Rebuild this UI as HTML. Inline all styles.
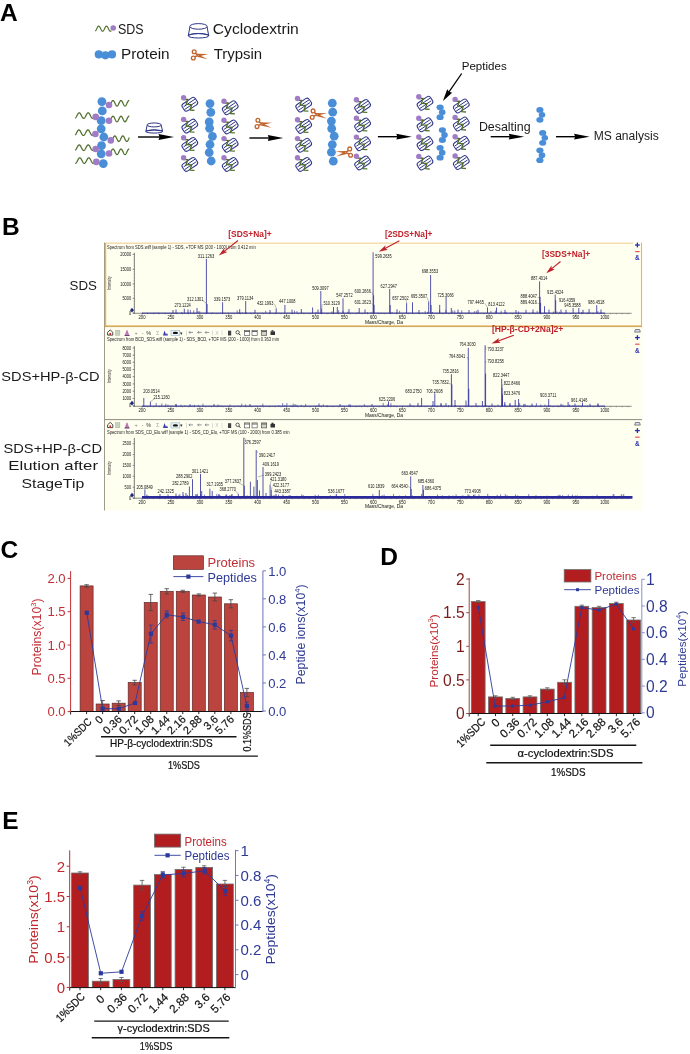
<!DOCTYPE html>
<html><head><meta charset="utf-8"><style>
html,body{margin:0;padding:0;background:#fff;}
svg{display:block;font-family:"Liberation Sans", sans-serif;will-change:transform;}
</style></head><body>
<svg width="690" height="1054" viewBox="0 0 690 1054">
<defs>
<g id="cx">
<g transform="rotate(-34)"><rect x="-7.8" y="-4.2" width="15.6" height="8.4" rx="2.6" fill="none" stroke="#2c3386" stroke-width="1"/>
<line x1="-6.6" y1="-1.4" x2="7.4" y2="-1.4" stroke="#2c3386" stroke-width="0.9"/><line x1="-7.4" y1="1.4" x2="6.6" y2="1.4" stroke="#2c3386" stroke-width="0.9"/></g>
<polyline points="-6.1,-4.8 -1.9,-4.8 -3.7,0.1 1.9,0.4 0.2,5.7 4.7,6" fill="none" stroke="#4f6f2a" stroke-width="1.35" stroke-linejoin="round"/>
<circle cx="-6.2" cy="-6.6" r="2.7" fill="#a07cc6"/></g>
<g id="sc">
<circle cx="-4.1" cy="-3.7" r="1.9" fill="none" stroke="#c0622a" stroke-width="1.3"/>
<circle cx="-5" cy="2.6" r="1.9" fill="none" stroke="#c0622a" stroke-width="1.3"/>
<line x1="-3" y1="-2.2" x2="0" y2="0" stroke="#c0622a" stroke-width="1.5"/>
<line x1="-3.6" y1="1.4" x2="0" y2="0" stroke="#c0622a" stroke-width="1.5"/>
<polygon points="-1.7,-1.7 10,-1.3 0.2,1.0" fill="#c0622a"/>
<polygon points="-1.3,1.4 9.4,3.8 1.0,-0.5" fill="#c0622a"/>
<circle cx="0" cy="0" r="0.45" fill="#fff"/></g>
<g id="pep" fill="#4a8ed8"><ellipse cx="-2.1" cy="-4.9" rx="3.6" ry="2.9"/><ellipse cx="0" cy="0" rx="3.3" ry="2.9"/><ellipse cx="-2.1" cy="5" rx="3.6" ry="2.9"/></g>
<g id="drum" fill="none" stroke="#2c3386" stroke-width="1" vector-effect="non-scaling-stroke">
<ellipse cx="0" cy="-5.8" rx="8.7" ry="2.8" vector-effect="non-scaling-stroke"/>
<path d="M-8.6,-5.4 L-10.2,3.6 M8.6,-5.4 L10.2,3.6" vector-effect="non-scaling-stroke"/>
<path d="M-10.1,2.9 Q0,-0.4 10.1,2.9" vector-effect="non-scaling-stroke"/>
<ellipse cx="0" cy="3.6" rx="10.3" ry="2.2" vector-effect="non-scaling-stroke"/></g>
</defs>
<text x="0" y="20.8" font-size="24.5" fill="#000" font-weight="bold">A</text>
<polyline points="95.30,31.09 95.63,30.74 95.95,30.26 96.28,29.66 96.61,29.00 96.93,28.32 97.26,27.66 97.59,27.08 97.91,26.61 98.24,26.28 98.57,26.12 98.89,26.13 99.22,26.32 99.54,26.68 99.87,27.17 100.20,27.77 100.52,28.44 100.85,29.12 101.18,29.77 101.50,30.35 101.83,30.82 102.16,31.14 102.48,31.29 102.81,31.26 103.14,31.06 103.46,30.70 103.79,30.19 104.12,29.59 104.44,28.92 104.77,28.24 105.10,27.59 105.42,27.02 105.75,26.56 106.08,26.25 106.40,26.11 106.73,26.14 107.06,26.36 107.38,26.73 107.71,27.24 108.03,27.85 108.36,28.51 108.69,29.19 109.01,29.84 109.34,30.41 109.67,30.86 109.99,31.16 110.32,31.29 110.65,31.25 110.97,31.03 111.30,30.65" fill="none" stroke="#4f6f2a" stroke-width="1.15" stroke-linejoin="round"/>
<circle cx="113.2" cy="28" r="2.8" fill="#a07cc6"/>
<text x="118" y="34" font-size="14.2" fill="#1a1a1a" textLength="25.6" lengthAdjust="spacingAndGlyphs">SDS</text>
<circle cx="98.8" cy="54.4" r="4.1" fill="#4a8ed8"/>
<circle cx="105.4" cy="55.3" r="4.1" fill="#4a8ed8"/>
<circle cx="112" cy="54.4" r="4.1" fill="#4a8ed8"/>
<text x="121" y="59.4" font-size="14.2" fill="#1a1a1a" textLength="48.6" lengthAdjust="spacingAndGlyphs">Protein</text>
<use href="#drum" transform="translate(198.5,32.2)"/>
<text x="212.8" y="34" font-size="14.2" fill="#1a1a1a" textLength="86" lengthAdjust="spacingAndGlyphs">Cyclodextrin</text>
<use href="#sc" transform="translate(198.3,55.4)"/>
<text x="213.7" y="59.4" font-size="14.2" fill="#1a1a1a" textLength="48.4" lengthAdjust="spacingAndGlyphs">Trypsin</text>
<polyline points="110.80,103.74 111.13,103.01 111.46,102.31 111.79,101.67 112.12,101.14 112.45,100.76 112.78,100.54 113.11,100.51 113.44,100.67 113.77,101.00 114.10,101.49 114.43,102.10 114.76,102.78 115.09,103.51 115.42,104.22 115.76,104.87 116.09,105.41 116.42,105.81 116.75,106.04 117.08,106.09 117.41,105.96 117.74,105.64 118.07,105.17 118.40,104.57 118.73,103.89 119.06,103.17 119.39,102.46 119.72,101.80 120.05,101.24 120.38,100.83 120.71,100.57 121.04,100.50 121.37,100.62 121.70,100.91 122.03,101.37 122.36,101.96 122.69,102.63 123.02,103.35 123.35,104.07 123.68,104.73 124.01,105.30 124.34,105.74 124.68,106.01 125.01,106.10 125.34,106.00 125.67,105.73 126.00,105.29 126.33,104.71 126.66,104.04 126.99,103.33 127.32,102.61 127.65,101.94 127.98,101.35 128.31,100.90 128.64,100.61 128.97,100.50 129.30,100.58" fill="none" stroke="#4f6f2a" stroke-width="1.25" stroke-linejoin="round"/>
<polyline points="110.80,119.44 111.13,118.71 111.46,118.01 111.79,117.37 112.12,116.84 112.45,116.46 112.78,116.24 113.11,116.21 113.44,116.37 113.77,116.70 114.10,117.19 114.43,117.80 114.76,118.48 115.09,119.21 115.42,119.92 115.76,120.57 116.09,121.11 116.42,121.51 116.75,121.74 117.08,121.79 117.41,121.66 117.74,121.34 118.07,120.87 118.40,120.27 118.73,119.59 119.06,118.87 119.39,118.16 119.72,117.50 120.05,116.94 120.38,116.53 120.71,116.27 121.04,116.20 121.37,116.32 121.70,116.61 122.03,117.07 122.36,117.66 122.69,118.33 123.02,119.05 123.35,119.77 123.68,120.43 124.01,121.00 124.34,121.44 124.68,121.71 125.01,121.80 125.34,121.70 125.67,121.43 126.00,120.99 126.33,120.41 126.66,119.74 126.99,119.03 127.32,118.31 127.65,117.64 127.98,117.05 128.31,116.60 128.64,116.31 128.97,116.20 129.30,116.28" fill="none" stroke="#4f6f2a" stroke-width="1.25" stroke-linejoin="round"/>
<polyline points="112.60,139.14 112.93,138.42 113.25,137.72 113.58,137.09 113.91,136.56 114.24,136.17 114.56,135.95 114.89,135.91 115.22,136.05 115.55,136.37 115.87,136.84 116.20,137.43 116.53,138.11 116.86,138.83 117.18,139.53 117.51,140.18 117.84,140.74 118.17,141.16 118.49,141.42 118.82,141.50 119.15,141.40 119.48,141.11 119.80,140.67 120.13,140.10 120.46,139.44 120.79,138.73 121.11,138.02 121.44,137.35 121.77,136.77 122.10,136.32 122.42,136.02 122.75,135.90 123.08,135.97 123.41,136.21 123.73,136.62 124.06,137.16 124.39,137.81 124.72,138.51 125.04,139.23 125.37,139.91 125.70,140.52 126.03,141.00 126.35,141.33 126.68,141.49 127.01,141.46 127.34,141.26 127.66,140.88 127.99,140.36 128.32,139.74 128.65,139.04 128.97,138.32 129.30,137.63" fill="none" stroke="#4f6f2a" stroke-width="1.25" stroke-linejoin="round"/>
<polyline points="110.80,152.24 111.13,151.51 111.46,150.81 111.79,150.17 112.12,149.64 112.45,149.26 112.78,149.04 113.11,149.01 113.44,149.17 113.77,149.50 114.10,149.99 114.43,150.60 114.76,151.28 115.09,152.01 115.42,152.72 115.76,153.37 116.09,153.91 116.42,154.31 116.75,154.54 117.08,154.59 117.41,154.46 117.74,154.14 118.07,153.67 118.40,153.07 118.73,152.39 119.06,151.67 119.39,150.96 119.72,150.30 120.05,149.74 120.38,149.33 120.71,149.07 121.04,149.00 121.37,149.12 121.70,149.41 122.03,149.87 122.36,150.46 122.69,151.13 123.02,151.85 123.35,152.57 123.68,153.23 124.01,153.80 124.34,154.24 124.68,154.51 125.01,154.60 125.34,154.50 125.67,154.23 126.00,153.79 126.33,153.21 126.66,152.54 126.99,151.83 127.32,151.11 127.65,150.44 127.98,149.85 128.31,149.40 128.64,149.11 128.97,149.00 129.30,149.08" fill="none" stroke="#4f6f2a" stroke-width="1.25" stroke-linejoin="round"/>
<polyline points="75.20,118.23 75.53,117.95 75.86,117.54 76.18,117.03 76.51,116.44 76.84,115.81 77.17,115.17 77.50,114.56 77.82,113.99 78.15,113.52 78.48,113.15 78.81,112.90 79.14,112.80 79.46,112.85 79.79,113.04 80.12,113.36 80.45,113.80 80.78,114.33 81.11,114.93 81.43,115.57 81.76,116.20 82.09,116.81 82.42,117.35 82.75,117.80 83.07,118.14 83.40,118.34 83.73,118.40 84.06,118.31 84.39,118.09 84.71,117.73 85.04,117.26 85.37,116.70 85.70,116.09 86.03,115.45 86.35,114.82 86.68,114.23 87.01,113.71 87.34,113.29 87.67,112.99 87.99,112.83 88.32,112.81 88.65,112.94 88.98,113.20 89.31,113.60 89.64,114.09 89.96,114.67 90.29,115.29 90.62,115.93 90.95,116.55 91.28,117.13 91.60,117.62 91.93,118.01 92.26,118.27 92.59,118.39 92.92,118.37 93.24,118.20 93.57,117.90 93.90,117.47" fill="none" stroke="#4f6f2a" stroke-width="1.25" stroke-linejoin="round"/>
<polyline points="75.20,135.07 75.53,134.67 75.86,134.17 76.19,133.59 76.51,132.96 76.84,132.32 77.17,131.70 77.50,131.13 77.83,130.65 78.16,130.27 78.49,130.02 78.81,129.91 79.14,129.94 79.47,130.12 79.80,130.43 80.13,130.87 80.46,131.40 80.79,132.00 81.11,132.63 81.44,133.27 81.77,133.88 82.10,134.42 82.43,134.88 82.76,135.22 83.09,135.43 83.41,135.50 83.74,135.42 84.07,135.20 84.40,134.84 84.73,134.38 85.06,133.83 85.39,133.21 85.71,132.57 86.04,131.94 86.37,131.35 86.70,130.83 87.03,130.40 87.36,130.10 87.69,129.93 88.01,129.91 88.34,130.03 88.67,130.30 89.00,130.69 89.33,131.18 89.66,131.76 89.99,132.38 90.31,133.02 90.64,133.64 90.97,134.22 91.30,134.71 91.63,135.10 91.96,135.37 92.29,135.49 92.61,135.47 92.94,135.30 93.27,135.00 93.60,134.57" fill="none" stroke="#4f6f2a" stroke-width="1.25" stroke-linejoin="round"/>
<polyline points="75.20,150.33 75.53,150.05 75.86,149.64 76.18,149.13 76.51,148.54 76.84,147.91 77.17,147.27 77.50,146.66 77.82,146.09 78.15,145.62 78.48,145.25 78.81,145.00 79.14,144.90 79.46,144.95 79.79,145.14 80.12,145.46 80.45,145.90 80.78,146.43 81.11,147.03 81.43,147.67 81.76,148.30 82.09,148.91 82.42,149.45 82.75,149.90 83.07,150.24 83.40,150.44 83.73,150.50 84.06,150.41 84.39,150.19 84.71,149.83 85.04,149.36 85.37,148.80 85.70,148.19 86.03,147.55 86.35,146.92 86.68,146.33 87.01,145.81 87.34,145.39 87.67,145.09 87.99,144.93 88.32,144.91 88.65,145.04 88.98,145.30 89.31,145.70 89.64,146.19 89.96,146.77 90.29,147.39 90.62,148.03 90.95,148.65 91.28,149.23 91.60,149.72 91.93,150.11 92.26,150.37 92.59,150.49 92.92,150.47 93.24,150.30 93.57,150.00 93.90,149.57" fill="none" stroke="#4f6f2a" stroke-width="1.25" stroke-linejoin="round"/>
<polyline points="75.20,163.39 75.53,163.36 75.87,163.18 76.20,162.87 76.53,162.43 76.86,161.89 77.20,161.28 77.53,160.64 77.86,159.99 78.19,159.38 78.53,158.83 78.86,158.38 79.19,158.05 79.53,157.85 79.86,157.80 80.19,157.90 80.52,158.15 80.86,158.53 81.19,159.02 81.52,159.59 81.86,160.22 82.19,160.87 82.52,161.50 82.85,162.09 83.19,162.60 83.52,162.99 83.85,163.26 84.18,163.39 84.52,163.37 84.85,163.20 85.18,162.88 85.52,162.45 85.85,161.92 86.18,161.31 86.51,160.67 86.85,160.02 87.18,159.41 87.51,158.86 87.84,158.40 88.18,158.06 88.51,157.86 88.84,157.80 89.18,157.90 89.51,158.14 89.84,158.51 90.17,158.99 90.51,159.56 90.84,160.19 91.17,160.84 91.51,161.47 91.84,162.06 92.17,162.57 92.50,162.98 92.84,163.25 93.17,163.39 93.50,163.37 93.83,163.21 94.17,162.90 94.50,162.47" fill="none" stroke="#4f6f2a" stroke-width="1.25" stroke-linejoin="round"/>
<circle cx="101.9" cy="101.6" r="4.4" fill="#4a8ed8"/>
<circle cx="102.3" cy="110.9" r="4.4" fill="#4a8ed8"/>
<circle cx="101.2" cy="120.7" r="4.4" fill="#4a8ed8"/>
<circle cx="101.2" cy="128.8" r="4.4" fill="#4a8ed8"/>
<circle cx="103.8" cy="137" r="4.4" fill="#4a8ed8"/>
<circle cx="101.5" cy="145.7" r="4.4" fill="#4a8ed8"/>
<circle cx="101.2" cy="153.8" r="4.4" fill="#4a8ed8"/>
<circle cx="103.3" cy="163.6" r="4.4" fill="#4a8ed8"/>
<circle cx="109" cy="105" r="3.3" fill="#a07cc6"/>
<circle cx="109" cy="120.7" r="3.3" fill="#a07cc6"/>
<circle cx="110.8" cy="140.4" r="3.3" fill="#a07cc6"/>
<circle cx="109" cy="153.5" r="3.3" fill="#a07cc6"/>
<circle cx="95.7" cy="116.9" r="3.3" fill="#a07cc6"/>
<circle cx="95.4" cy="134" r="3.3" fill="#a07cc6"/>
<circle cx="95.7" cy="149" r="3.3" fill="#a07cc6"/>
<circle cx="96.3" cy="161.9" r="3.3" fill="#a07cc6"/>
<line x1="138" y1="137" x2="160.0" y2="137.0" stroke="#000" stroke-width="1.4"/>
<polygon points="174.00,137.00 158.50,139.90 159.50,137.00 158.50,134.10" fill="#000"/>
<use href="#drum" transform="translate(154.2,129) scale(0.82,0.7)"/>
<use href="#cx" transform="translate(189.80,104.30)"/>
<use href="#cx" transform="translate(189.80,126.10)"/>
<use href="#cx" transform="translate(189.80,144.40)"/>
<use href="#cx" transform="translate(189.80,164.40)"/>
<use href="#cx" transform="translate(230.20,107.80)"/>
<use href="#cx" transform="translate(230.20,126.90)"/>
<use href="#cx" transform="translate(230.20,145.20)"/>
<use href="#cx" transform="translate(230.20,164.40)"/>
<circle cx="210" cy="103.6" r="4.4" fill="#4a8ed8"/>
<circle cx="210.8" cy="112.3" r="4.4" fill="#4a8ed8"/>
<circle cx="209.2" cy="121.9" r="4.4" fill="#4a8ed8"/>
<circle cx="209.6" cy="128.3" r="4.4" fill="#4a8ed8"/>
<circle cx="212.4" cy="136.3" r="4.4" fill="#4a8ed8"/>
<circle cx="210" cy="144.5" r="4.4" fill="#4a8ed8"/>
<circle cx="209.2" cy="152.5" r="4.4" fill="#4a8ed8"/>
<circle cx="211.2" cy="161" r="4.4" fill="#4a8ed8"/>
<line x1="249.4" y1="138" x2="269.3" y2="138.0" stroke="#000" stroke-width="1.4"/>
<polygon points="283.30,138.00 267.80,140.90 268.80,138.00 267.80,135.10" fill="#000"/>
<use href="#sc" transform="translate(262,124)"/>
<use href="#cx" transform="translate(303.70,105.10)"/>
<use href="#cx" transform="translate(303.70,126.40)"/>
<use href="#cx" transform="translate(303.70,145.20)"/>
<use href="#cx" transform="translate(303.70,164.40)"/>
<use href="#cx" transform="translate(362.60,106.40)"/>
<use href="#cx" transform="translate(362.60,124.90)"/>
<use href="#cx" transform="translate(362.60,143.70)"/>
<use href="#cx" transform="translate(362.60,162.90)"/>
<circle cx="332.3" cy="103.2" r="4.4" fill="#4a8ed8"/>
<circle cx="332.7" cy="112.2" r="4.4" fill="#4a8ed8"/>
<circle cx="331.4" cy="121.1" r="4.4" fill="#4a8ed8"/>
<circle cx="331.7" cy="128.6" r="4.4" fill="#4a8ed8"/>
<circle cx="334.2" cy="136.2" r="4.4" fill="#4a8ed8"/>
<circle cx="332.3" cy="144.6" r="4.4" fill="#4a8ed8"/>
<circle cx="331.4" cy="152.2" r="4.4" fill="#4a8ed8"/>
<circle cx="333.3" cy="161.2" r="4.4" fill="#4a8ed8"/>
<use href="#sc" transform="translate(317.2,114.6)"/>
<use href="#sc" transform="translate(345.6,152.6) scale(-1,1)"/>
<line x1="377.9" y1="136.7" x2="397.8" y2="136.7" stroke="#000" stroke-width="1.4"/>
<polygon points="411.80,136.70 396.30,139.60 397.30,136.70 396.30,133.80" fill="#000"/>
<use href="#cx" transform="translate(425.00,103.30)"/>
<use href="#cx" transform="translate(425.00,124.80)"/>
<use href="#cx" transform="translate(425.00,143.60)"/>
<use href="#cx" transform="translate(425.00,163.00)"/>
<use href="#cx" transform="translate(461.30,106.00)"/>
<use href="#cx" transform="translate(461.30,124.00)"/>
<use href="#cx" transform="translate(461.30,143.30)"/>
<use href="#cx" transform="translate(461.30,162.50)"/>
<use href="#pep" transform="translate(442.2,112.2)"/>
<use href="#pep" transform="translate(444.5,135)"/>
<use href="#pep" transform="translate(442.2,152.7)"/>
<text x="461.7" y="69.8" font-size="10.6" fill="#111" textLength="45" lengthAdjust="spacingAndGlyphs">Peptides</text>
<line x1="461.7" y1="73.5" x2="448.84050378503946" y2="92.2420317175488" stroke="#000" stroke-width="1.3"/>
<polygon points="442.90,100.90 447.22,89.31 449.12,91.83 452.16,92.70" fill="#000"/>
<text x="478.9" y="131.3" font-size="12" fill="#1a1a1a" textLength="51.7" lengthAdjust="spacingAndGlyphs">Desalting</text>
<line x1="490.7" y1="136.7" x2="510.20000000000005" y2="136.7" stroke="#000" stroke-width="1.4"/>
<polygon points="524.20,136.70 508.70,139.60 509.70,136.70 508.70,133.80" fill="#000"/>
<use href="#pep" transform="translate(542,114.8)"/>
<use href="#pep" transform="translate(544.8,137.8)"/>
<use href="#pep" transform="translate(542,155.2)"/>
<line x1="556" y1="136.7" x2="575.6" y2="136.7" stroke="#000" stroke-width="1.4"/>
<polygon points="589.60,136.70 574.10,139.60 575.10,136.70 574.10,133.80" fill="#000"/>
<text x="593.7" y="140.2" font-size="12" fill="#1a1a1a" textLength="65.1" lengthAdjust="spacingAndGlyphs">MS analysis</text>
<text x="2" y="235.4" font-size="24.5" fill="#000" font-weight="bold">B</text>
<text x="69.6" y="290.2" font-size="12.6" fill="#1a1a1a" textLength="27.4" lengthAdjust="spacingAndGlyphs">SDS</text>
<text x="1.3" y="380.6" font-size="12.6" fill="#1a1a1a" textLength="98.3" lengthAdjust="spacingAndGlyphs">SDS+HP-β-CD</text>
<text x="3.5" y="452.5" font-size="12.6" fill="#1a1a1a" textLength="98.5" lengthAdjust="spacingAndGlyphs">SDS+HP-β-CD</text>
<text x="8.3" y="470.4" font-size="12.6" fill="#1a1a1a" textLength="89.7" lengthAdjust="spacingAndGlyphs">Elution after</text>
<text x="21.5" y="487.9" font-size="12.6" fill="#1a1a1a" textLength="62.7" lengthAdjust="spacingAndGlyphs">StageTip</text>
<rect x="104.5" y="242.5" width="538" height="268" fill="#fffff0"/>
<line x1="104.5" y1="242.5" x2="104.5" y2="510.5" stroke="#a09a88" stroke-width="1"/>
<line x1="104.5" y1="419.6" x2="642" y2="419.6" stroke="#8a8a80" stroke-width="1"/>
<line x1="105" y1="243.3" x2="633" y2="243.3" stroke="#f4dcb0" stroke-width="1.6"/>
<line x1="105.6" y1="243" x2="105.6" y2="326.5" stroke="#f4b258" stroke-width="1.3"/>
<line x1="641.5" y1="242.5" x2="641.5" y2="326.5" stroke="#f6b050" stroke-width="1.1"/>
<line x1="104.5" y1="325.8" x2="642" y2="325.8" stroke="#e8a540" stroke-width="0.8"/>
<line x1="104.5" y1="326.6" x2="642" y2="326.6" stroke="#b89040" stroke-width="0.8"/>
<line x1="134.4" y1="252.7" x2="134.4" y2="313.6" stroke="#555" stroke-width="0.7"/>
<line x1="132.6" y1="254.4" x2="134.4" y2="254.4" stroke="#555" stroke-width="0.6"/>
<text x="131.2" y="256.1" font-size="4.7" fill="#111" text-anchor="end" textLength="11.0" lengthAdjust="spacingAndGlyphs">20000</text>
<line x1="132.6" y1="269.3" x2="134.4" y2="269.3" stroke="#555" stroke-width="0.6"/>
<text x="131.2" y="271.0" font-size="4.7" fill="#111" text-anchor="end" textLength="11.0" lengthAdjust="spacingAndGlyphs">15000</text>
<line x1="132.6" y1="284" x2="134.4" y2="284" stroke="#555" stroke-width="0.6"/>
<text x="131.2" y="285.7" font-size="4.7" fill="#111" text-anchor="end" textLength="11.0" lengthAdjust="spacingAndGlyphs">10000</text>
<line x1="132.6" y1="298.3" x2="134.4" y2="298.3" stroke="#555" stroke-width="0.6"/>
<text x="131.2" y="300.0" font-size="4.7" fill="#111" text-anchor="end" textLength="8.8" lengthAdjust="spacingAndGlyphs">5000</text>
<line x1="132.6" y1="313" x2="134.4" y2="313" stroke="#555" stroke-width="0.6"/>
<text x="131.2" y="314.7" font-size="4.7" fill="#111" text-anchor="end" textLength="2.2" lengthAdjust="spacingAndGlyphs">0</text>
<line x1="133.5" y1="313" x2="134.4" y2="313" stroke="#777" stroke-width="0.5"/>
<line x1="133.5" y1="310.06" x2="134.4" y2="310.06" stroke="#777" stroke-width="0.5"/>
<line x1="133.5" y1="307.12" x2="134.4" y2="307.12" stroke="#777" stroke-width="0.5"/>
<line x1="133.5" y1="304.18" x2="134.4" y2="304.18" stroke="#777" stroke-width="0.5"/>
<line x1="133.5" y1="301.24" x2="134.4" y2="301.24" stroke="#777" stroke-width="0.5"/>
<line x1="133.5" y1="298.3" x2="134.4" y2="298.3" stroke="#777" stroke-width="0.5"/>
<line x1="133.5" y1="295.36" x2="134.4" y2="295.36" stroke="#777" stroke-width="0.5"/>
<line x1="133.5" y1="292.42" x2="134.4" y2="292.42" stroke="#777" stroke-width="0.5"/>
<line x1="133.5" y1="289.48" x2="134.4" y2="289.48" stroke="#777" stroke-width="0.5"/>
<line x1="133.5" y1="286.54" x2="134.4" y2="286.54" stroke="#777" stroke-width="0.5"/>
<line x1="133.5" y1="283.6" x2="134.4" y2="283.6" stroke="#777" stroke-width="0.5"/>
<line x1="133.5" y1="280.66" x2="134.4" y2="280.66" stroke="#777" stroke-width="0.5"/>
<line x1="133.5" y1="277.72" x2="134.4" y2="277.72" stroke="#777" stroke-width="0.5"/>
<line x1="133.5" y1="274.78000000000003" x2="134.4" y2="274.78000000000003" stroke="#777" stroke-width="0.5"/>
<line x1="133.5" y1="271.84000000000003" x2="134.4" y2="271.84000000000003" stroke="#777" stroke-width="0.5"/>
<line x1="133.5" y1="268.90000000000003" x2="134.4" y2="268.90000000000003" stroke="#777" stroke-width="0.5"/>
<line x1="133.5" y1="265.96000000000004" x2="134.4" y2="265.96000000000004" stroke="#777" stroke-width="0.5"/>
<line x1="133.5" y1="263.02000000000004" x2="134.4" y2="263.02000000000004" stroke="#777" stroke-width="0.5"/>
<line x1="133.5" y1="260.08000000000004" x2="134.4" y2="260.08000000000004" stroke="#777" stroke-width="0.5"/>
<line x1="133.5" y1="257.14000000000004" x2="134.4" y2="257.14000000000004" stroke="#777" stroke-width="0.5"/>
<line x1="133.5" y1="254.20000000000005" x2="134.4" y2="254.20000000000005" stroke="#777" stroke-width="0.5"/>
<line x1="133" y1="313.3" x2="631.6" y2="313.3" stroke="#555" stroke-width="0.7"/>
<line x1="142.0" y1="313.3" x2="142.0" y2="315.5" stroke="#555" stroke-width="0.5"/>
<line x1="147.78" y1="313.3" x2="147.78" y2="314.3" stroke="#555" stroke-width="0.5"/>
<line x1="153.57" y1="313.3" x2="153.57" y2="314.3" stroke="#555" stroke-width="0.5"/>
<line x1="159.35" y1="313.3" x2="159.35" y2="314.3" stroke="#555" stroke-width="0.5"/>
<line x1="165.14" y1="313.3" x2="165.14" y2="314.3" stroke="#555" stroke-width="0.5"/>
<line x1="170.93" y1="313.3" x2="170.93" y2="315.5" stroke="#555" stroke-width="0.5"/>
<line x1="176.71" y1="313.3" x2="176.71" y2="314.3" stroke="#555" stroke-width="0.5"/>
<line x1="182.5" y1="313.3" x2="182.5" y2="314.3" stroke="#555" stroke-width="0.5"/>
<line x1="188.28" y1="313.3" x2="188.28" y2="314.3" stroke="#555" stroke-width="0.5"/>
<line x1="194.06" y1="313.3" x2="194.06" y2="314.3" stroke="#555" stroke-width="0.5"/>
<line x1="199.85" y1="313.3" x2="199.85" y2="315.5" stroke="#555" stroke-width="0.5"/>
<line x1="205.63" y1="313.3" x2="205.63" y2="314.3" stroke="#555" stroke-width="0.5"/>
<line x1="211.42" y1="313.3" x2="211.42" y2="314.3" stroke="#555" stroke-width="0.5"/>
<line x1="217.2" y1="313.3" x2="217.2" y2="314.3" stroke="#555" stroke-width="0.5"/>
<line x1="222.99" y1="313.3" x2="222.99" y2="314.3" stroke="#555" stroke-width="0.5"/>
<line x1="228.78" y1="313.3" x2="228.78" y2="315.5" stroke="#555" stroke-width="0.5"/>
<line x1="234.56" y1="313.3" x2="234.56" y2="314.3" stroke="#555" stroke-width="0.5"/>
<line x1="240.34" y1="313.3" x2="240.34" y2="314.3" stroke="#555" stroke-width="0.5"/>
<line x1="246.13" y1="313.3" x2="246.13" y2="314.3" stroke="#555" stroke-width="0.5"/>
<line x1="251.92" y1="313.3" x2="251.92" y2="314.3" stroke="#555" stroke-width="0.5"/>
<line x1="257.7" y1="313.3" x2="257.7" y2="315.5" stroke="#555" stroke-width="0.5"/>
<line x1="263.49" y1="313.3" x2="263.49" y2="314.3" stroke="#555" stroke-width="0.5"/>
<line x1="269.27" y1="313.3" x2="269.27" y2="314.3" stroke="#555" stroke-width="0.5"/>
<line x1="275.06" y1="313.3" x2="275.06" y2="314.3" stroke="#555" stroke-width="0.5"/>
<line x1="280.84" y1="313.3" x2="280.84" y2="314.3" stroke="#555" stroke-width="0.5"/>
<line x1="286.62" y1="313.3" x2="286.62" y2="315.5" stroke="#555" stroke-width="0.5"/>
<line x1="292.41" y1="313.3" x2="292.41" y2="314.3" stroke="#555" stroke-width="0.5"/>
<line x1="298.19" y1="313.3" x2="298.19" y2="314.3" stroke="#555" stroke-width="0.5"/>
<line x1="303.98" y1="313.3" x2="303.98" y2="314.3" stroke="#555" stroke-width="0.5"/>
<line x1="309.76" y1="313.3" x2="309.76" y2="314.3" stroke="#555" stroke-width="0.5"/>
<line x1="315.55" y1="313.3" x2="315.55" y2="315.5" stroke="#555" stroke-width="0.5"/>
<line x1="321.34" y1="313.3" x2="321.34" y2="314.3" stroke="#555" stroke-width="0.5"/>
<line x1="327.12" y1="313.3" x2="327.12" y2="314.3" stroke="#555" stroke-width="0.5"/>
<line x1="332.9" y1="313.3" x2="332.9" y2="314.3" stroke="#555" stroke-width="0.5"/>
<line x1="338.69" y1="313.3" x2="338.69" y2="314.3" stroke="#555" stroke-width="0.5"/>
<line x1="344.48" y1="313.3" x2="344.48" y2="315.5" stroke="#555" stroke-width="0.5"/>
<line x1="350.26" y1="313.3" x2="350.26" y2="314.3" stroke="#555" stroke-width="0.5"/>
<line x1="356.05" y1="313.3" x2="356.05" y2="314.3" stroke="#555" stroke-width="0.5"/>
<line x1="361.83" y1="313.3" x2="361.83" y2="314.3" stroke="#555" stroke-width="0.5"/>
<line x1="367.62" y1="313.3" x2="367.62" y2="314.3" stroke="#555" stroke-width="0.5"/>
<line x1="373.4" y1="313.3" x2="373.4" y2="315.5" stroke="#555" stroke-width="0.5"/>
<line x1="379.19" y1="313.3" x2="379.19" y2="314.3" stroke="#555" stroke-width="0.5"/>
<line x1="384.97" y1="313.3" x2="384.97" y2="314.3" stroke="#555" stroke-width="0.5"/>
<line x1="390.75" y1="313.3" x2="390.75" y2="314.3" stroke="#555" stroke-width="0.5"/>
<line x1="396.54" y1="313.3" x2="396.54" y2="314.3" stroke="#555" stroke-width="0.5"/>
<line x1="402.32" y1="313.3" x2="402.32" y2="315.5" stroke="#555" stroke-width="0.5"/>
<line x1="408.11" y1="313.3" x2="408.11" y2="314.3" stroke="#555" stroke-width="0.5"/>
<line x1="413.89" y1="313.3" x2="413.89" y2="314.3" stroke="#555" stroke-width="0.5"/>
<line x1="419.68" y1="313.3" x2="419.68" y2="314.3" stroke="#555" stroke-width="0.5"/>
<line x1="425.47" y1="313.3" x2="425.47" y2="314.3" stroke="#555" stroke-width="0.5"/>
<line x1="431.25" y1="313.3" x2="431.25" y2="315.5" stroke="#555" stroke-width="0.5"/>
<line x1="437.04" y1="313.3" x2="437.04" y2="314.3" stroke="#555" stroke-width="0.5"/>
<line x1="442.82" y1="313.3" x2="442.82" y2="314.3" stroke="#555" stroke-width="0.5"/>
<line x1="448.61" y1="313.3" x2="448.61" y2="314.3" stroke="#555" stroke-width="0.5"/>
<line x1="454.39" y1="313.3" x2="454.39" y2="314.3" stroke="#555" stroke-width="0.5"/>
<line x1="460.18" y1="313.3" x2="460.18" y2="315.5" stroke="#555" stroke-width="0.5"/>
<line x1="465.96" y1="313.3" x2="465.96" y2="314.3" stroke="#555" stroke-width="0.5"/>
<line x1="471.75" y1="313.3" x2="471.75" y2="314.3" stroke="#555" stroke-width="0.5"/>
<line x1="477.53" y1="313.3" x2="477.53" y2="314.3" stroke="#555" stroke-width="0.5"/>
<line x1="483.31" y1="313.3" x2="483.31" y2="314.3" stroke="#555" stroke-width="0.5"/>
<line x1="489.1" y1="313.3" x2="489.1" y2="315.5" stroke="#555" stroke-width="0.5"/>
<line x1="494.88" y1="313.3" x2="494.88" y2="314.3" stroke="#555" stroke-width="0.5"/>
<line x1="500.67" y1="313.3" x2="500.67" y2="314.3" stroke="#555" stroke-width="0.5"/>
<line x1="506.45" y1="313.3" x2="506.45" y2="314.3" stroke="#555" stroke-width="0.5"/>
<line x1="512.24" y1="313.3" x2="512.24" y2="314.3" stroke="#555" stroke-width="0.5"/>
<line x1="518.03" y1="313.3" x2="518.03" y2="315.5" stroke="#555" stroke-width="0.5"/>
<line x1="523.81" y1="313.3" x2="523.81" y2="314.3" stroke="#555" stroke-width="0.5"/>
<line x1="529.6" y1="313.3" x2="529.6" y2="314.3" stroke="#555" stroke-width="0.5"/>
<line x1="535.38" y1="313.3" x2="535.38" y2="314.3" stroke="#555" stroke-width="0.5"/>
<line x1="541.16" y1="313.3" x2="541.16" y2="314.3" stroke="#555" stroke-width="0.5"/>
<line x1="546.95" y1="313.3" x2="546.95" y2="315.5" stroke="#555" stroke-width="0.5"/>
<line x1="552.74" y1="313.3" x2="552.74" y2="314.3" stroke="#555" stroke-width="0.5"/>
<line x1="558.52" y1="313.3" x2="558.52" y2="314.3" stroke="#555" stroke-width="0.5"/>
<line x1="564.31" y1="313.3" x2="564.31" y2="314.3" stroke="#555" stroke-width="0.5"/>
<line x1="570.09" y1="313.3" x2="570.09" y2="314.3" stroke="#555" stroke-width="0.5"/>
<line x1="575.88" y1="313.3" x2="575.88" y2="315.5" stroke="#555" stroke-width="0.5"/>
<line x1="581.66" y1="313.3" x2="581.66" y2="314.3" stroke="#555" stroke-width="0.5"/>
<line x1="587.44" y1="313.3" x2="587.44" y2="314.3" stroke="#555" stroke-width="0.5"/>
<line x1="593.23" y1="313.3" x2="593.23" y2="314.3" stroke="#555" stroke-width="0.5"/>
<line x1="599.01" y1="313.3" x2="599.01" y2="314.3" stroke="#555" stroke-width="0.5"/>
<line x1="604.8" y1="313.3" x2="604.8" y2="315.5" stroke="#555" stroke-width="0.5"/>
<text x="142.0" y="318.9" font-size="4.6" fill="#111" text-anchor="middle" textLength="6.9" lengthAdjust="spacingAndGlyphs">200</text>
<text x="170.93" y="318.9" font-size="4.6" fill="#111" text-anchor="middle" textLength="6.9" lengthAdjust="spacingAndGlyphs">250</text>
<text x="199.85" y="318.9" font-size="4.6" fill="#111" text-anchor="middle" textLength="6.9" lengthAdjust="spacingAndGlyphs">300</text>
<text x="228.78" y="318.9" font-size="4.6" fill="#111" text-anchor="middle" textLength="6.9" lengthAdjust="spacingAndGlyphs">350</text>
<text x="257.7" y="318.9" font-size="4.6" fill="#111" text-anchor="middle" textLength="6.9" lengthAdjust="spacingAndGlyphs">400</text>
<text x="286.62" y="318.9" font-size="4.6" fill="#111" text-anchor="middle" textLength="6.9" lengthAdjust="spacingAndGlyphs">450</text>
<text x="315.55" y="318.9" font-size="4.6" fill="#111" text-anchor="middle" textLength="6.9" lengthAdjust="spacingAndGlyphs">500</text>
<text x="344.48" y="318.9" font-size="4.6" fill="#111" text-anchor="middle" textLength="6.9" lengthAdjust="spacingAndGlyphs">550</text>
<text x="373.4" y="318.9" font-size="4.6" fill="#111" text-anchor="middle" textLength="6.9" lengthAdjust="spacingAndGlyphs">600</text>
<text x="402.32" y="318.9" font-size="4.6" fill="#111" text-anchor="middle" textLength="6.9" lengthAdjust="spacingAndGlyphs">650</text>
<text x="431.25" y="318.9" font-size="4.6" fill="#111" text-anchor="middle" textLength="6.9" lengthAdjust="spacingAndGlyphs">700</text>
<text x="460.18" y="318.9" font-size="4.6" fill="#111" text-anchor="middle" textLength="6.9" lengthAdjust="spacingAndGlyphs">750</text>
<text x="489.1" y="318.9" font-size="4.6" fill="#111" text-anchor="middle" textLength="6.9" lengthAdjust="spacingAndGlyphs">800</text>
<text x="518.03" y="318.9" font-size="4.6" fill="#111" text-anchor="middle" textLength="6.9" lengthAdjust="spacingAndGlyphs">850</text>
<text x="546.95" y="318.9" font-size="4.6" fill="#111" text-anchor="middle" textLength="6.9" lengthAdjust="spacingAndGlyphs">900</text>
<text x="575.88" y="318.9" font-size="4.6" fill="#111" text-anchor="middle" textLength="6.9" lengthAdjust="spacingAndGlyphs">950</text>
<text x="604.8" y="318.9" font-size="4.6" fill="#111" text-anchor="middle" textLength="9.2" lengthAdjust="spacingAndGlyphs">1000</text>
<line x1="610.59" y1="313.3" x2="610.59" y2="314.3" stroke="#555" stroke-width="0.5"/>
<line x1="616.37" y1="313.3" x2="616.37" y2="314.3" stroke="#555" stroke-width="0.5"/>
<line x1="622.15" y1="313.3" x2="622.15" y2="314.3" stroke="#555" stroke-width="0.5"/>
<line x1="627.94" y1="313.3" x2="627.94" y2="314.3" stroke="#555" stroke-width="0.5"/>
<line x1="142.5" y1="313.3" x2="142.5" y2="312.67" stroke="#2a2a9c" stroke-width="0.6"/>
<line x1="147.39" y1="313.3" x2="147.39" y2="312.89" stroke="#2a2a9c" stroke-width="0.6"/>
<line x1="151.95" y1="313.3" x2="151.95" y2="313.0" stroke="#2a2a9c" stroke-width="0.6"/>
<line x1="153.94" y1="313.3" x2="153.94" y2="312.95" stroke="#2a2a9c" stroke-width="0.6"/>
<line x1="155.51" y1="313.3" x2="155.51" y2="312.87" stroke="#2a2a9c" stroke-width="0.6"/>
<line x1="158.41" y1="313.3" x2="158.41" y2="312.64" stroke="#2a2a9c" stroke-width="0.6"/>
<line x1="163.06" y1="313.3" x2="163.06" y2="313.0" stroke="#2a2a9c" stroke-width="0.6"/>
<line x1="165.34" y1="313.3" x2="165.34" y2="312.8" stroke="#2a2a9c" stroke-width="0.6"/>
<line x1="169.04" y1="313.3" x2="169.04" y2="313.0" stroke="#2a2a9c" stroke-width="0.6"/>
<line x1="172.36" y1="313.3" x2="172.36" y2="312.99" stroke="#2a2a9c" stroke-width="0.6"/>
<line x1="175.04" y1="313.3" x2="175.04" y2="313.0" stroke="#2a2a9c" stroke-width="0.6"/>
<line x1="177.55" y1="313.3" x2="177.55" y2="312.81" stroke="#2a2a9c" stroke-width="0.6"/>
<line x1="181.69" y1="313.3" x2="181.69" y2="312.0" stroke="#2a2a9c" stroke-width="0.6"/>
<line x1="186.31" y1="313.3" x2="186.31" y2="313.0" stroke="#2a2a9c" stroke-width="0.6"/>
<line x1="188.09" y1="313.3" x2="188.09" y2="312.81" stroke="#2a2a9c" stroke-width="0.6"/>
<line x1="190.39" y1="313.3" x2="190.39" y2="309.86" stroke="#2a2a9c" stroke-width="0.6"/>
<line x1="193.69" y1="313.3" x2="193.69" y2="310.43" stroke="#2a2a9c" stroke-width="0.6"/>
<line x1="198.11" y1="313.3" x2="198.11" y2="311.11" stroke="#2a2a9c" stroke-width="0.6"/>
<line x1="199.76" y1="313.3" x2="199.76" y2="311.2" stroke="#2a2a9c" stroke-width="0.6"/>
<line x1="203.94" y1="313.3" x2="203.94" y2="313.0" stroke="#2a2a9c" stroke-width="0.6"/>
<line x1="208.17" y1="313.3" x2="208.17" y2="313.0" stroke="#2a2a9c" stroke-width="0.6"/>
<line x1="212.5" y1="313.3" x2="212.5" y2="312.56" stroke="#2a2a9c" stroke-width="0.6"/>
<line x1="216.03" y1="313.3" x2="216.03" y2="313.0" stroke="#2a2a9c" stroke-width="0.6"/>
<line x1="220.47" y1="313.3" x2="220.47" y2="312.82" stroke="#2a2a9c" stroke-width="0.6"/>
<line x1="225.18" y1="313.3" x2="225.18" y2="313.0" stroke="#2a2a9c" stroke-width="0.6"/>
<line x1="228.16" y1="313.3" x2="228.16" y2="312.83" stroke="#2a2a9c" stroke-width="0.6"/>
<line x1="231.42" y1="313.3" x2="231.42" y2="313.0" stroke="#2a2a9c" stroke-width="0.6"/>
<line x1="233.02" y1="313.3" x2="233.02" y2="313.0" stroke="#2a2a9c" stroke-width="0.6"/>
<line x1="237.18" y1="313.3" x2="237.18" y2="310.32" stroke="#2a2a9c" stroke-width="0.6"/>
<line x1="238.83" y1="313.3" x2="238.83" y2="312.53" stroke="#2a2a9c" stroke-width="0.6"/>
<line x1="242.3" y1="313.3" x2="242.3" y2="312.52" stroke="#2a2a9c" stroke-width="0.6"/>
<line x1="246.13" y1="313.3" x2="246.13" y2="312.21" stroke="#2a2a9c" stroke-width="0.6"/>
<line x1="250.65" y1="313.3" x2="250.65" y2="312.6" stroke="#2a2a9c" stroke-width="0.6"/>
<line x1="253.7" y1="313.3" x2="253.7" y2="312.66" stroke="#2a2a9c" stroke-width="0.6"/>
<line x1="257.41" y1="313.3" x2="257.41" y2="313.0" stroke="#2a2a9c" stroke-width="0.6"/>
<line x1="262.35" y1="313.3" x2="262.35" y2="312.67" stroke="#2a2a9c" stroke-width="0.6"/>
<line x1="265.69" y1="313.3" x2="265.69" y2="310.83" stroke="#2a2a9c" stroke-width="0.6"/>
<line x1="269.71" y1="313.3" x2="269.71" y2="312.95" stroke="#2a2a9c" stroke-width="0.6"/>
<line x1="273.3" y1="313.3" x2="273.3" y2="312.99" stroke="#2a2a9c" stroke-width="0.6"/>
<line x1="275.66" y1="313.3" x2="275.66" y2="312.94" stroke="#2a2a9c" stroke-width="0.6"/>
<line x1="279.04" y1="313.3" x2="279.04" y2="312.82" stroke="#2a2a9c" stroke-width="0.6"/>
<line x1="283.17" y1="313.3" x2="283.17" y2="312.98" stroke="#2a2a9c" stroke-width="0.6"/>
<line x1="287.84" y1="313.3" x2="287.84" y2="312.92" stroke="#2a2a9c" stroke-width="0.6"/>
<line x1="289.63" y1="313.3" x2="289.63" y2="312.99" stroke="#2a2a9c" stroke-width="0.6"/>
<line x1="294.48" y1="313.3" x2="294.48" y2="310.5" stroke="#2a2a9c" stroke-width="0.6"/>
<line x1="296.94" y1="313.3" x2="296.94" y2="311.12" stroke="#2a2a9c" stroke-width="0.6"/>
<line x1="301.9" y1="313.3" x2="301.9" y2="312.95" stroke="#2a2a9c" stroke-width="0.6"/>
<line x1="303.41" y1="313.3" x2="303.41" y2="312.97" stroke="#2a2a9c" stroke-width="0.6"/>
<line x1="306.63" y1="313.3" x2="306.63" y2="312.97" stroke="#2a2a9c" stroke-width="0.6"/>
<line x1="311.0" y1="313.3" x2="311.0" y2="313.0" stroke="#2a2a9c" stroke-width="0.6"/>
<line x1="315.99" y1="313.3" x2="315.99" y2="311.9" stroke="#2a2a9c" stroke-width="0.6"/>
<line x1="318.37" y1="313.3" x2="318.37" y2="313.0" stroke="#2a2a9c" stroke-width="0.6"/>
<line x1="320.06" y1="313.3" x2="320.06" y2="312.84" stroke="#2a2a9c" stroke-width="0.6"/>
<line x1="322.74" y1="313.3" x2="322.74" y2="312.82" stroke="#2a2a9c" stroke-width="0.6"/>
<line x1="325.87" y1="313.3" x2="325.87" y2="313.0" stroke="#2a2a9c" stroke-width="0.6"/>
<line x1="328.95" y1="313.3" x2="328.95" y2="312.96" stroke="#2a2a9c" stroke-width="0.6"/>
<line x1="332.03" y1="313.3" x2="332.03" y2="311.35" stroke="#2a2a9c" stroke-width="0.6"/>
<line x1="334.31" y1="313.3" x2="334.31" y2="313.0" stroke="#2a2a9c" stroke-width="0.6"/>
<line x1="338.65" y1="313.3" x2="338.65" y2="310.13" stroke="#2a2a9c" stroke-width="0.6"/>
<line x1="343.01" y1="313.3" x2="343.01" y2="310.59" stroke="#2a2a9c" stroke-width="0.6"/>
<line x1="347.77" y1="313.3" x2="347.77" y2="311.64" stroke="#2a2a9c" stroke-width="0.6"/>
<line x1="349.53" y1="313.3" x2="349.53" y2="313.0" stroke="#2a2a9c" stroke-width="0.6"/>
<line x1="352.17" y1="313.3" x2="352.17" y2="312.77" stroke="#2a2a9c" stroke-width="0.6"/>
<line x1="357.15" y1="313.3" x2="357.15" y2="312.47" stroke="#2a2a9c" stroke-width="0.6"/>
<line x1="359.26" y1="313.3" x2="359.26" y2="312.97" stroke="#2a2a9c" stroke-width="0.6"/>
<line x1="362.83" y1="313.3" x2="362.83" y2="312.99" stroke="#2a2a9c" stroke-width="0.6"/>
<line x1="367.5" y1="313.3" x2="367.5" y2="312.2" stroke="#2a2a9c" stroke-width="0.6"/>
<line x1="371.09" y1="313.3" x2="371.09" y2="312.22" stroke="#2a2a9c" stroke-width="0.6"/>
<line x1="374.57" y1="313.3" x2="374.57" y2="312.78" stroke="#2a2a9c" stroke-width="0.6"/>
<line x1="378.28" y1="313.3" x2="378.28" y2="312.78" stroke="#2a2a9c" stroke-width="0.6"/>
<line x1="381.63" y1="313.3" x2="381.63" y2="312.83" stroke="#2a2a9c" stroke-width="0.6"/>
<line x1="385.12" y1="313.3" x2="385.12" y2="312.98" stroke="#2a2a9c" stroke-width="0.6"/>
<line x1="388.32" y1="313.3" x2="388.32" y2="312.98" stroke="#2a2a9c" stroke-width="0.6"/>
<line x1="392.06" y1="313.3" x2="392.06" y2="312.22" stroke="#2a2a9c" stroke-width="0.6"/>
<line x1="396.58" y1="313.3" x2="396.58" y2="312.81" stroke="#2a2a9c" stroke-width="0.6"/>
<line x1="399.62" y1="313.3" x2="399.62" y2="310.73" stroke="#2a2a9c" stroke-width="0.6"/>
<line x1="403.74" y1="313.3" x2="403.74" y2="312.97" stroke="#2a2a9c" stroke-width="0.6"/>
<line x1="405.49" y1="313.3" x2="405.49" y2="312.81" stroke="#2a2a9c" stroke-width="0.6"/>
<line x1="408.67" y1="313.3" x2="408.67" y2="312.8" stroke="#2a2a9c" stroke-width="0.6"/>
<line x1="411.94" y1="313.3" x2="411.94" y2="312.89" stroke="#2a2a9c" stroke-width="0.6"/>
<line x1="416.27" y1="313.3" x2="416.27" y2="312.97" stroke="#2a2a9c" stroke-width="0.6"/>
<line x1="418.03" y1="313.3" x2="418.03" y2="312.69" stroke="#2a2a9c" stroke-width="0.6"/>
<line x1="422.45" y1="313.3" x2="422.45" y2="312.74" stroke="#2a2a9c" stroke-width="0.6"/>
<line x1="425.2" y1="313.3" x2="425.2" y2="311.06" stroke="#2a2a9c" stroke-width="0.6"/>
<line x1="427.57" y1="313.3" x2="427.57" y2="311.84" stroke="#2a2a9c" stroke-width="0.6"/>
<line x1="432.5" y1="313.3" x2="432.5" y2="312.02" stroke="#2a2a9c" stroke-width="0.6"/>
<line x1="436.32" y1="313.3" x2="436.32" y2="313.0" stroke="#2a2a9c" stroke-width="0.6"/>
<line x1="439.64" y1="313.3" x2="439.64" y2="309.86" stroke="#2a2a9c" stroke-width="0.6"/>
<line x1="443.45" y1="313.3" x2="443.45" y2="312.98" stroke="#2a2a9c" stroke-width="0.6"/>
<line x1="445.9" y1="313.3" x2="445.9" y2="309.95" stroke="#2a2a9c" stroke-width="0.6"/>
<line x1="450.07" y1="313.3" x2="450.07" y2="313.0" stroke="#2a2a9c" stroke-width="0.6"/>
<line x1="452.78" y1="313.3" x2="452.78" y2="310.46" stroke="#2a2a9c" stroke-width="0.6"/>
<line x1="454.79" y1="313.3" x2="454.79" y2="310.46" stroke="#2a2a9c" stroke-width="0.6"/>
<line x1="457.22" y1="313.3" x2="457.22" y2="312.99" stroke="#2a2a9c" stroke-width="0.6"/>
<line x1="459.69" y1="313.3" x2="459.69" y2="312.89" stroke="#2a2a9c" stroke-width="0.6"/>
<line x1="461.72" y1="313.3" x2="461.72" y2="310.18" stroke="#2a2a9c" stroke-width="0.6"/>
<line x1="466.24" y1="313.3" x2="466.24" y2="312.96" stroke="#2a2a9c" stroke-width="0.6"/>
<line x1="469.57" y1="313.3" x2="469.57" y2="312.99" stroke="#2a2a9c" stroke-width="0.6"/>
<line x1="474.32" y1="313.3" x2="474.32" y2="311.12" stroke="#2a2a9c" stroke-width="0.6"/>
<line x1="476.33" y1="313.3" x2="476.33" y2="310.8" stroke="#2a2a9c" stroke-width="0.6"/>
<line x1="480.39" y1="313.3" x2="480.39" y2="312.98" stroke="#2a2a9c" stroke-width="0.6"/>
<line x1="484.6" y1="313.3" x2="484.6" y2="312.98" stroke="#2a2a9c" stroke-width="0.6"/>
<line x1="488.68" y1="313.3" x2="488.68" y2="313.0" stroke="#2a2a9c" stroke-width="0.6"/>
<line x1="490.91" y1="313.3" x2="490.91" y2="310.83" stroke="#2a2a9c" stroke-width="0.6"/>
<line x1="495.39" y1="313.3" x2="495.39" y2="310.63" stroke="#2a2a9c" stroke-width="0.6"/>
<line x1="498.34" y1="313.3" x2="498.34" y2="313.0" stroke="#2a2a9c" stroke-width="0.6"/>
<line x1="501.16" y1="313.3" x2="501.16" y2="310.69" stroke="#2a2a9c" stroke-width="0.6"/>
<line x1="504.45" y1="313.3" x2="504.45" y2="312.65" stroke="#2a2a9c" stroke-width="0.6"/>
<line x1="506.17" y1="313.3" x2="506.17" y2="311.84" stroke="#2a2a9c" stroke-width="0.6"/>
<line x1="510.52" y1="313.3" x2="510.52" y2="312.96" stroke="#2a2a9c" stroke-width="0.6"/>
<line x1="513.05" y1="313.3" x2="513.05" y2="313.0" stroke="#2a2a9c" stroke-width="0.6"/>
<line x1="515.73" y1="313.3" x2="515.73" y2="312.98" stroke="#2a2a9c" stroke-width="0.6"/>
<line x1="518.59" y1="313.3" x2="518.59" y2="311.31" stroke="#2a2a9c" stroke-width="0.6"/>
<line x1="520.9" y1="313.3" x2="520.9" y2="312.99" stroke="#2a2a9c" stroke-width="0.6"/>
<line x1="524.79" y1="313.3" x2="524.79" y2="313.0" stroke="#2a2a9c" stroke-width="0.6"/>
<line x1="529.15" y1="313.3" x2="529.15" y2="313.0" stroke="#2a2a9c" stroke-width="0.6"/>
<line x1="533.02" y1="313.3" x2="533.02" y2="312.41" stroke="#2a2a9c" stroke-width="0.6"/>
<line x1="537.15" y1="313.3" x2="537.15" y2="310.98" stroke="#2a2a9c" stroke-width="0.6"/>
<line x1="540.39" y1="313.3" x2="540.39" y2="312.19" stroke="#2a2a9c" stroke-width="0.6"/>
<line x1="543.05" y1="313.3" x2="543.05" y2="313.0" stroke="#2a2a9c" stroke-width="0.6"/>
<line x1="545.87" y1="313.3" x2="545.87" y2="312.6" stroke="#2a2a9c" stroke-width="0.6"/>
<line x1="549.33" y1="313.3" x2="549.33" y2="312.93" stroke="#2a2a9c" stroke-width="0.6"/>
<line x1="553.45" y1="313.3" x2="553.45" y2="311.5" stroke="#2a2a9c" stroke-width="0.6"/>
<line x1="556.91" y1="313.3" x2="556.91" y2="311.4" stroke="#2a2a9c" stroke-width="0.6"/>
<line x1="559.64" y1="313.3" x2="559.64" y2="311.76" stroke="#2a2a9c" stroke-width="0.6"/>
<line x1="562.49" y1="313.3" x2="562.49" y2="312.83" stroke="#2a2a9c" stroke-width="0.6"/>
<line x1="566.65" y1="313.3" x2="566.65" y2="312.55" stroke="#2a2a9c" stroke-width="0.6"/>
<line x1="571.0" y1="313.3" x2="571.0" y2="313.0" stroke="#2a2a9c" stroke-width="0.6"/>
<line x1="572.77" y1="313.3" x2="572.77" y2="313.0" stroke="#2a2a9c" stroke-width="0.6"/>
<line x1="575.44" y1="313.3" x2="575.44" y2="313.0" stroke="#2a2a9c" stroke-width="0.6"/>
<line x1="578.92" y1="313.3" x2="578.92" y2="312.4" stroke="#2a2a9c" stroke-width="0.6"/>
<line x1="581.58" y1="313.3" x2="581.58" y2="312.0" stroke="#2a2a9c" stroke-width="0.6"/>
<line x1="583.76" y1="313.3" x2="583.76" y2="312.85" stroke="#2a2a9c" stroke-width="0.6"/>
<line x1="587.22" y1="313.3" x2="587.22" y2="312.74" stroke="#2a2a9c" stroke-width="0.6"/>
<line x1="590.16" y1="313.3" x2="590.16" y2="313.0" stroke="#2a2a9c" stroke-width="0.6"/>
<line x1="593.25" y1="313.3" x2="593.25" y2="312.86" stroke="#2a2a9c" stroke-width="0.6"/>
<line x1="597.92" y1="313.3" x2="597.92" y2="311.18" stroke="#2a2a9c" stroke-width="0.6"/>
<line x1="600.87" y1="313.3" x2="600.87" y2="312.56" stroke="#2a2a9c" stroke-width="0.6"/>
<line x1="602.87" y1="313.3" x2="602.87" y2="312.99" stroke="#2a2a9c" stroke-width="0.6"/>
<line x1="142" y1="313.1" x2="605" y2="313.1" stroke="#2a2a9c" stroke-width="0.9"/>
<line x1="184.3" y1="313.3" x2="184.3" y2="308.7" stroke="#2a2a9c" stroke-width="0.8"/>
<line x1="197" y1="313.3" x2="197" y2="308" stroke="#2a2a9c" stroke-width="0.8"/>
<line x1="206.4" y1="313.3" x2="206.4" y2="258.8" stroke="#2a2a9c" stroke-width="0.8"/>
<line x1="207.1" y1="313.3" x2="207.1" y2="304" stroke="#2a2a9c" stroke-width="0.8"/>
<line x1="222.6" y1="313.3" x2="222.6" y2="302.3" stroke="#2a2a9c" stroke-width="0.8"/>
<line x1="239.7" y1="313.3" x2="239.7" y2="309.2" stroke="#2a2a9c" stroke-width="0.8"/>
<line x1="245.7" y1="313.3" x2="245.7" y2="301" stroke="#2a2a9c" stroke-width="0.8"/>
<line x1="276.2" y1="313.3" x2="276.2" y2="308.3" stroke="#2a2a9c" stroke-width="0.8"/>
<line x1="284.9" y1="313.3" x2="284.9" y2="304.9" stroke="#2a2a9c" stroke-width="0.8"/>
<line x1="301.3" y1="313.3" x2="301.3" y2="309" stroke="#2a2a9c" stroke-width="0.8"/>
<line x1="312.6" y1="313.3" x2="312.6" y2="307.5" stroke="#2a2a9c" stroke-width="0.8"/>
<line x1="320.8" y1="313.3" x2="320.8" y2="291" stroke="#2a2a9c" stroke-width="0.8"/>
<line x1="321.7" y1="313.3" x2="321.7" y2="308.3" stroke="#2a2a9c" stroke-width="0.8"/>
<line x1="333.5" y1="313.3" x2="333.5" y2="307" stroke="#2a2a9c" stroke-width="0.8"/>
<line x1="337.3" y1="313.3" x2="337.3" y2="307" stroke="#2a2a9c" stroke-width="0.8"/>
<line x1="343" y1="313.3" x2="343" y2="298.3" stroke="#2a2a9c" stroke-width="0.8"/>
<line x1="359.2" y1="313.3" x2="359.2" y2="308" stroke="#2a2a9c" stroke-width="0.8"/>
<line x1="373.1" y1="313.3" x2="373.1" y2="252.3" stroke="#2a2a9c" stroke-width="0.8"/>
<line x1="373.6" y1="313.3" x2="373.6" y2="295.3" stroke="#2a2a9c" stroke-width="0.8"/>
<line x1="374.1" y1="313.3" x2="374.1" y2="304.9" stroke="#2a2a9c" stroke-width="0.8"/>
<line x1="389.7" y1="313.3" x2="389.7" y2="288.9" stroke="#2a2a9c" stroke-width="0.8"/>
<line x1="390.2" y1="313.3" x2="390.2" y2="305" stroke="#2a2a9c" stroke-width="0.8"/>
<line x1="406.6" y1="313.3" x2="406.6" y2="303.1" stroke="#2a2a9c" stroke-width="0.8"/>
<line x1="412.5" y1="313.3" x2="412.5" y2="302.3" stroke="#2a2a9c" stroke-width="0.8"/>
<line x1="428.7" y1="313.3" x2="428.7" y2="301.4" stroke="#2a2a9c" stroke-width="0.8"/>
<line x1="430.6" y1="313.3" x2="430.6" y2="275" stroke="#2a2a9c" stroke-width="0.8"/>
<line x1="431.1" y1="313.3" x2="431.1" y2="305" stroke="#2a2a9c" stroke-width="0.8"/>
<line x1="439.7" y1="313.3" x2="439.7" y2="304.9" stroke="#2a2a9c" stroke-width="0.8"/>
<line x1="446.1" y1="313.3" x2="446.1" y2="297" stroke="#2a2a9c" stroke-width="0.8"/>
<line x1="451.3" y1="313.3" x2="451.3" y2="308" stroke="#2a2a9c" stroke-width="0.8"/>
<line x1="487.5" y1="313.3" x2="487.5" y2="307.5" stroke="#2a2a9c" stroke-width="0.8"/>
<line x1="496.5" y1="313.3" x2="496.5" y2="307.5" stroke="#2a2a9c" stroke-width="0.8"/>
<line x1="539.6" y1="313.3" x2="539.6" y2="281.3" stroke="#2a2a9c" stroke-width="0.8"/>
<line x1="540.1" y1="313.3" x2="540.1" y2="296.8" stroke="#2a2a9c" stroke-width="0.8"/>
<line x1="540.6" y1="313.3" x2="540.6" y2="302.8" stroke="#2a2a9c" stroke-width="0.8"/>
<line x1="544.5" y1="313.3" x2="544.5" y2="306.2" stroke="#2a2a9c" stroke-width="0.8"/>
<line x1="555.2" y1="313.3" x2="555.2" y2="294.5" stroke="#2a2a9c" stroke-width="0.8"/>
<line x1="555.7" y1="313.3" x2="555.7" y2="300.1" stroke="#2a2a9c" stroke-width="0.8"/>
<line x1="573.1" y1="313.3" x2="573.1" y2="308" stroke="#2a2a9c" stroke-width="0.8"/>
<line x1="578.8" y1="313.3" x2="578.8" y2="308" stroke="#2a2a9c" stroke-width="0.8"/>
<line x1="589.1" y1="313.3" x2="589.1" y2="309" stroke="#2a2a9c" stroke-width="0.8"/>
<line x1="596.7" y1="313.3" x2="596.7" y2="305.2" stroke="#2a2a9c" stroke-width="0.8"/>
<line x1="173" y1="313.3" x2="173" y2="310" stroke="#2a2a9c" stroke-width="0.8"/>
<line x1="176" y1="313.3" x2="176" y2="309.5" stroke="#2a2a9c" stroke-width="0.8"/>
<line x1="188" y1="313.3" x2="188" y2="309.5" stroke="#2a2a9c" stroke-width="0.8"/>
<line x1="255" y1="313.3" x2="255" y2="309.8" stroke="#2a2a9c" stroke-width="0.8"/>
<line x1="270" y1="313.3" x2="270" y2="310" stroke="#2a2a9c" stroke-width="0.8"/>
<line x1="292" y1="313.3" x2="292" y2="309.5" stroke="#2a2a9c" stroke-width="0.8"/>
<line x1="318" y1="313.3" x2="318" y2="309.5" stroke="#2a2a9c" stroke-width="0.8"/>
<line x1="349" y1="313.3" x2="349" y2="309" stroke="#2a2a9c" stroke-width="0.8"/>
<line x1="365" y1="313.3" x2="365" y2="309.5" stroke="#2a2a9c" stroke-width="0.8"/>
<line x1="397" y1="313.3" x2="397" y2="309.3" stroke="#2a2a9c" stroke-width="0.8"/>
<line x1="419" y1="313.3" x2="419" y2="310" stroke="#2a2a9c" stroke-width="0.8"/>
<line x1="458" y1="313.3" x2="458" y2="309.5" stroke="#2a2a9c" stroke-width="0.8"/>
<line x1="469" y1="313.3" x2="469" y2="310" stroke="#2a2a9c" stroke-width="0.8"/>
<line x1="478" y1="313.3" x2="478" y2="309.8" stroke="#2a2a9c" stroke-width="0.8"/>
<line x1="505" y1="313.3" x2="505" y2="309.8" stroke="#2a2a9c" stroke-width="0.8"/>
<line x1="516" y1="313.3" x2="516" y2="310" stroke="#2a2a9c" stroke-width="0.8"/>
<line x1="526" y1="313.3" x2="526" y2="309.8" stroke="#2a2a9c" stroke-width="0.8"/>
<line x1="533" y1="313.3" x2="533" y2="309.5" stroke="#2a2a9c" stroke-width="0.8"/>
<line x1="549" y1="313.3" x2="549" y2="309.5" stroke="#2a2a9c" stroke-width="0.8"/>
<line x1="561" y1="313.3" x2="561" y2="309.5" stroke="#2a2a9c" stroke-width="0.8"/>
<line x1="566" y1="313.3" x2="566" y2="309.8" stroke="#2a2a9c" stroke-width="0.8"/>
<line x1="583" y1="313.3" x2="583" y2="309.8" stroke="#2a2a9c" stroke-width="0.8"/>
<line x1="601" y1="313.3" x2="601" y2="309.5" stroke="#2a2a9c" stroke-width="0.8"/>
<text x="206" y="258.0" font-size="4.9" fill="#111" text-anchor="middle" textLength="16.4" lengthAdjust="spacingAndGlyphs">311.1263</text>
<text x="195.3" y="301.2" font-size="4.9" fill="#111" text-anchor="middle" textLength="16.4" lengthAdjust="spacingAndGlyphs">312.1301</text>
<text x="222" y="300.8" font-size="4.9" fill="#111" text-anchor="middle" textLength="16.4" lengthAdjust="spacingAndGlyphs">339.1573</text>
<text x="245.2" y="299.8" font-size="4.9" fill="#111" text-anchor="middle" textLength="16.4" lengthAdjust="spacingAndGlyphs">379.1134</text>
<text x="265.2" y="304.6" font-size="4.9" fill="#111" text-anchor="middle" textLength="16.4" lengthAdjust="spacingAndGlyphs">432.1993</text>
<text x="287.3" y="303.4" font-size="4.9" fill="#111" text-anchor="middle" textLength="16.4" lengthAdjust="spacingAndGlyphs">447.1008</text>
<text x="182.6" y="306.9" font-size="4.9" fill="#111" text-anchor="middle" textLength="16.4" lengthAdjust="spacingAndGlyphs">273.1224</text>
<text x="320.4" y="290.4" font-size="4.9" fill="#111" text-anchor="middle" textLength="16.4" lengthAdjust="spacingAndGlyphs">509.3097</text>
<text x="331.7" y="304.6" font-size="4.9" fill="#111" text-anchor="middle" textLength="16.4" lengthAdjust="spacingAndGlyphs">510.3129</text>
<text x="344.4" y="296.8" font-size="4.9" fill="#111" text-anchor="middle" textLength="16.4" lengthAdjust="spacingAndGlyphs">547.2572</text>
<text x="383.5" y="258.3" font-size="4.9" fill="#111" text-anchor="middle" textLength="16.4" lengthAdjust="spacingAndGlyphs">599.2635</text>
<text x="362.7" y="292.8" font-size="4.9" fill="#111" text-anchor="middle" textLength="16.4" lengthAdjust="spacingAndGlyphs">600.2666</text>
<text x="362.7" y="304.3" font-size="4.9" fill="#111" text-anchor="middle" textLength="16.4" lengthAdjust="spacingAndGlyphs">601.2623</text>
<text x="388.8" y="287.6" font-size="4.9" fill="#111" text-anchor="middle" textLength="16.4" lengthAdjust="spacingAndGlyphs">627.2947</text>
<text x="400.4" y="299.8" font-size="4.9" fill="#111" text-anchor="middle" textLength="16.4" lengthAdjust="spacingAndGlyphs">657.2502</text>
<text x="419.1" y="298.0" font-size="4.9" fill="#111" text-anchor="middle" textLength="16.4" lengthAdjust="spacingAndGlyphs">695.3507</text>
<text x="429.9" y="273.3" font-size="4.9" fill="#111" text-anchor="middle" textLength="16.4" lengthAdjust="spacingAndGlyphs">698.3553</text>
<text x="445.6" y="296.5" font-size="4.9" fill="#111" text-anchor="middle" textLength="16.4" lengthAdjust="spacingAndGlyphs">725.3066</text>
<text x="475.7" y="304.3" font-size="4.9" fill="#111" text-anchor="middle" textLength="16.4" lengthAdjust="spacingAndGlyphs">797.4465</text>
<text x="496.5" y="306.4" font-size="4.9" fill="#111" text-anchor="middle" textLength="16.4" lengthAdjust="spacingAndGlyphs">813.4122</text>
<text x="539.2" y="280.0" font-size="4.9" fill="#111" text-anchor="middle" textLength="16.4" lengthAdjust="spacingAndGlyphs">887.4014</text>
<text x="528.8" y="298.3" font-size="4.9" fill="#111" text-anchor="middle" textLength="16.4" lengthAdjust="spacingAndGlyphs">888.4047</text>
<text x="528.8" y="304.3" font-size="4.9" fill="#111" text-anchor="middle" textLength="16.4" lengthAdjust="spacingAndGlyphs">889.4016</text>
<text x="555.2" y="293.5" font-size="4.9" fill="#111" text-anchor="middle" textLength="16.4" lengthAdjust="spacingAndGlyphs">915.4324</text>
<text x="567.1" y="301.6" font-size="4.9" fill="#111" text-anchor="middle" textLength="16.4" lengthAdjust="spacingAndGlyphs">916.4359</text>
<text x="572.5" y="306.7" font-size="4.9" fill="#111" text-anchor="middle" textLength="16.4" lengthAdjust="spacingAndGlyphs">945.3588</text>
<text x="596.3" y="304.3" font-size="4.9" fill="#111" text-anchor="middle" textLength="16.4" lengthAdjust="spacingAndGlyphs">986.4518</text>
<line x1="203" y1="300.6" x2="207" y2="304" stroke="#555" stroke-width="0.4"/>
<line x1="274.5" y1="304" x2="276.2" y2="308" stroke="#555" stroke-width="0.4"/>
<line x1="322" y1="304" x2="321.9" y2="308" stroke="#555" stroke-width="0.4"/>
<line x1="371.5" y1="292" x2="373.5" y2="295.5" stroke="#555" stroke-width="0.4"/>
<line x1="371.5" y1="303.5" x2="374" y2="305.5" stroke="#555" stroke-width="0.4"/>
<line x1="406" y1="299.5" x2="406.6" y2="303" stroke="#555" stroke-width="0.4"/>
<line x1="427" y1="297.5" x2="428.7" y2="301.4" stroke="#555" stroke-width="0.4"/>
<line x1="485" y1="303.5" x2="487.5" y2="307.5" stroke="#555" stroke-width="0.4"/>
<line x1="537.5" y1="297.5" x2="540.1" y2="297.5" stroke="#555" stroke-width="0.4"/>
<line x1="537.5" y1="303.5" x2="540.6" y2="303" stroke="#555" stroke-width="0.4"/>
<polygon points="132,307.8 134,310.3 132,312.5 130,310.3" fill="#1d2a80"/>
<text transform="translate(111,283.0) rotate(-90)" font-size="4.7" fill="#222" text-anchor="middle" textLength="13.9" lengthAdjust="spacingAndGlyphs">Intensity</text>
<text x="384" y="323.5" font-size="4.9" fill="#111" text-anchor="middle">Mass/Charge, Da</text>
<text x="107" y="249.0" font-size="5.2" fill="#222" textLength="148.7" lengthAdjust="spacingAndGlyphs">Spectrum from SDS.wiff (sample 1) - SDS, +TOF MS (200 - 1000) from 0.412 min</text>
<line x1="134.4" y1="346" x2="134.4" y2="406.6" stroke="#555" stroke-width="0.7"/>
<line x1="132.6" y1="348.1" x2="134.4" y2="348.1" stroke="#555" stroke-width="0.6"/>
<text x="131.2" y="349.8" font-size="4.7" fill="#111" text-anchor="end" textLength="8.8" lengthAdjust="spacingAndGlyphs">8000</text>
<line x1="132.6" y1="355.3" x2="134.4" y2="355.3" stroke="#555" stroke-width="0.6"/>
<text x="131.2" y="357.0" font-size="4.7" fill="#111" text-anchor="end" textLength="8.8" lengthAdjust="spacingAndGlyphs">7000</text>
<line x1="132.6" y1="362.3" x2="134.4" y2="362.3" stroke="#555" stroke-width="0.6"/>
<text x="131.2" y="364.0" font-size="4.7" fill="#111" text-anchor="end" textLength="8.8" lengthAdjust="spacingAndGlyphs">6000</text>
<line x1="132.6" y1="369.5" x2="134.4" y2="369.5" stroke="#555" stroke-width="0.6"/>
<text x="131.2" y="371.2" font-size="4.7" fill="#111" text-anchor="end" textLength="8.8" lengthAdjust="spacingAndGlyphs">5000</text>
<line x1="132.6" y1="376.7" x2="134.4" y2="376.7" stroke="#555" stroke-width="0.6"/>
<text x="131.2" y="378.4" font-size="4.7" fill="#111" text-anchor="end" textLength="8.8" lengthAdjust="spacingAndGlyphs">4000</text>
<line x1="132.6" y1="383.9" x2="134.4" y2="383.9" stroke="#555" stroke-width="0.6"/>
<text x="131.2" y="385.6" font-size="4.7" fill="#111" text-anchor="end" textLength="8.8" lengthAdjust="spacingAndGlyphs">3000</text>
<line x1="132.6" y1="391.2" x2="134.4" y2="391.2" stroke="#555" stroke-width="0.6"/>
<text x="131.2" y="392.9" font-size="4.7" fill="#111" text-anchor="end" textLength="8.8" lengthAdjust="spacingAndGlyphs">2000</text>
<line x1="132.6" y1="398.4" x2="134.4" y2="398.4" stroke="#555" stroke-width="0.6"/>
<text x="131.2" y="400.1" font-size="4.7" fill="#111" text-anchor="end" textLength="8.8" lengthAdjust="spacingAndGlyphs">1000</text>
<line x1="132.6" y1="405.7" x2="134.4" y2="405.7" stroke="#555" stroke-width="0.6"/>
<text x="131.2" y="407.4" font-size="4.7" fill="#111" text-anchor="end" textLength="2.2" lengthAdjust="spacingAndGlyphs">0</text>
<line x1="133.5" y1="405.7" x2="134.4" y2="405.7" stroke="#777" stroke-width="0.5"/>
<line x1="133.5" y1="402.04999999999995" x2="134.4" y2="402.04999999999995" stroke="#777" stroke-width="0.5"/>
<line x1="133.5" y1="398.4" x2="134.4" y2="398.4" stroke="#777" stroke-width="0.5"/>
<line x1="133.5" y1="394.75" x2="134.4" y2="394.75" stroke="#777" stroke-width="0.5"/>
<line x1="133.5" y1="391.1" x2="134.4" y2="391.1" stroke="#777" stroke-width="0.5"/>
<line x1="133.5" y1="387.45000000000005" x2="134.4" y2="387.45000000000005" stroke="#777" stroke-width="0.5"/>
<line x1="133.5" y1="383.80000000000007" x2="134.4" y2="383.80000000000007" stroke="#777" stroke-width="0.5"/>
<line x1="133.5" y1="380.1500000000001" x2="134.4" y2="380.1500000000001" stroke="#777" stroke-width="0.5"/>
<line x1="133.5" y1="376.5000000000001" x2="134.4" y2="376.5000000000001" stroke="#777" stroke-width="0.5"/>
<line x1="133.5" y1="372.85000000000014" x2="134.4" y2="372.85000000000014" stroke="#777" stroke-width="0.5"/>
<line x1="133.5" y1="369.20000000000016" x2="134.4" y2="369.20000000000016" stroke="#777" stroke-width="0.5"/>
<line x1="133.5" y1="365.5500000000002" x2="134.4" y2="365.5500000000002" stroke="#777" stroke-width="0.5"/>
<line x1="133.5" y1="361.9000000000002" x2="134.4" y2="361.9000000000002" stroke="#777" stroke-width="0.5"/>
<line x1="133.5" y1="358.2500000000002" x2="134.4" y2="358.2500000000002" stroke="#777" stroke-width="0.5"/>
<line x1="133.5" y1="354.60000000000025" x2="134.4" y2="354.60000000000025" stroke="#777" stroke-width="0.5"/>
<line x1="133.5" y1="350.9500000000003" x2="134.4" y2="350.9500000000003" stroke="#777" stroke-width="0.5"/>
<line x1="133.5" y1="347.3000000000003" x2="134.4" y2="347.3000000000003" stroke="#777" stroke-width="0.5"/>
<line x1="133" y1="406.3" x2="631.6" y2="406.3" stroke="#555" stroke-width="0.7"/>
<line x1="142.0" y1="406.3" x2="142.0" y2="408.5" stroke="#555" stroke-width="0.5"/>
<line x1="147.78" y1="406.3" x2="147.78" y2="407.3" stroke="#555" stroke-width="0.5"/>
<line x1="153.57" y1="406.3" x2="153.57" y2="407.3" stroke="#555" stroke-width="0.5"/>
<line x1="159.35" y1="406.3" x2="159.35" y2="407.3" stroke="#555" stroke-width="0.5"/>
<line x1="165.14" y1="406.3" x2="165.14" y2="407.3" stroke="#555" stroke-width="0.5"/>
<line x1="170.93" y1="406.3" x2="170.93" y2="408.5" stroke="#555" stroke-width="0.5"/>
<line x1="176.71" y1="406.3" x2="176.71" y2="407.3" stroke="#555" stroke-width="0.5"/>
<line x1="182.5" y1="406.3" x2="182.5" y2="407.3" stroke="#555" stroke-width="0.5"/>
<line x1="188.28" y1="406.3" x2="188.28" y2="407.3" stroke="#555" stroke-width="0.5"/>
<line x1="194.06" y1="406.3" x2="194.06" y2="407.3" stroke="#555" stroke-width="0.5"/>
<line x1="199.85" y1="406.3" x2="199.85" y2="408.5" stroke="#555" stroke-width="0.5"/>
<line x1="205.63" y1="406.3" x2="205.63" y2="407.3" stroke="#555" stroke-width="0.5"/>
<line x1="211.42" y1="406.3" x2="211.42" y2="407.3" stroke="#555" stroke-width="0.5"/>
<line x1="217.2" y1="406.3" x2="217.2" y2="407.3" stroke="#555" stroke-width="0.5"/>
<line x1="222.99" y1="406.3" x2="222.99" y2="407.3" stroke="#555" stroke-width="0.5"/>
<line x1="228.78" y1="406.3" x2="228.78" y2="408.5" stroke="#555" stroke-width="0.5"/>
<line x1="234.56" y1="406.3" x2="234.56" y2="407.3" stroke="#555" stroke-width="0.5"/>
<line x1="240.34" y1="406.3" x2="240.34" y2="407.3" stroke="#555" stroke-width="0.5"/>
<line x1="246.13" y1="406.3" x2="246.13" y2="407.3" stroke="#555" stroke-width="0.5"/>
<line x1="251.92" y1="406.3" x2="251.92" y2="407.3" stroke="#555" stroke-width="0.5"/>
<line x1="257.7" y1="406.3" x2="257.7" y2="408.5" stroke="#555" stroke-width="0.5"/>
<line x1="263.49" y1="406.3" x2="263.49" y2="407.3" stroke="#555" stroke-width="0.5"/>
<line x1="269.27" y1="406.3" x2="269.27" y2="407.3" stroke="#555" stroke-width="0.5"/>
<line x1="275.06" y1="406.3" x2="275.06" y2="407.3" stroke="#555" stroke-width="0.5"/>
<line x1="280.84" y1="406.3" x2="280.84" y2="407.3" stroke="#555" stroke-width="0.5"/>
<line x1="286.62" y1="406.3" x2="286.62" y2="408.5" stroke="#555" stroke-width="0.5"/>
<line x1="292.41" y1="406.3" x2="292.41" y2="407.3" stroke="#555" stroke-width="0.5"/>
<line x1="298.19" y1="406.3" x2="298.19" y2="407.3" stroke="#555" stroke-width="0.5"/>
<line x1="303.98" y1="406.3" x2="303.98" y2="407.3" stroke="#555" stroke-width="0.5"/>
<line x1="309.76" y1="406.3" x2="309.76" y2="407.3" stroke="#555" stroke-width="0.5"/>
<line x1="315.55" y1="406.3" x2="315.55" y2="408.5" stroke="#555" stroke-width="0.5"/>
<line x1="321.34" y1="406.3" x2="321.34" y2="407.3" stroke="#555" stroke-width="0.5"/>
<line x1="327.12" y1="406.3" x2="327.12" y2="407.3" stroke="#555" stroke-width="0.5"/>
<line x1="332.9" y1="406.3" x2="332.9" y2="407.3" stroke="#555" stroke-width="0.5"/>
<line x1="338.69" y1="406.3" x2="338.69" y2="407.3" stroke="#555" stroke-width="0.5"/>
<line x1="344.48" y1="406.3" x2="344.48" y2="408.5" stroke="#555" stroke-width="0.5"/>
<line x1="350.26" y1="406.3" x2="350.26" y2="407.3" stroke="#555" stroke-width="0.5"/>
<line x1="356.05" y1="406.3" x2="356.05" y2="407.3" stroke="#555" stroke-width="0.5"/>
<line x1="361.83" y1="406.3" x2="361.83" y2="407.3" stroke="#555" stroke-width="0.5"/>
<line x1="367.62" y1="406.3" x2="367.62" y2="407.3" stroke="#555" stroke-width="0.5"/>
<line x1="373.4" y1="406.3" x2="373.4" y2="408.5" stroke="#555" stroke-width="0.5"/>
<line x1="379.19" y1="406.3" x2="379.19" y2="407.3" stroke="#555" stroke-width="0.5"/>
<line x1="384.97" y1="406.3" x2="384.97" y2="407.3" stroke="#555" stroke-width="0.5"/>
<line x1="390.75" y1="406.3" x2="390.75" y2="407.3" stroke="#555" stroke-width="0.5"/>
<line x1="396.54" y1="406.3" x2="396.54" y2="407.3" stroke="#555" stroke-width="0.5"/>
<line x1="402.32" y1="406.3" x2="402.32" y2="408.5" stroke="#555" stroke-width="0.5"/>
<line x1="408.11" y1="406.3" x2="408.11" y2="407.3" stroke="#555" stroke-width="0.5"/>
<line x1="413.89" y1="406.3" x2="413.89" y2="407.3" stroke="#555" stroke-width="0.5"/>
<line x1="419.68" y1="406.3" x2="419.68" y2="407.3" stroke="#555" stroke-width="0.5"/>
<line x1="425.47" y1="406.3" x2="425.47" y2="407.3" stroke="#555" stroke-width="0.5"/>
<line x1="431.25" y1="406.3" x2="431.25" y2="408.5" stroke="#555" stroke-width="0.5"/>
<line x1="437.04" y1="406.3" x2="437.04" y2="407.3" stroke="#555" stroke-width="0.5"/>
<line x1="442.82" y1="406.3" x2="442.82" y2="407.3" stroke="#555" stroke-width="0.5"/>
<line x1="448.61" y1="406.3" x2="448.61" y2="407.3" stroke="#555" stroke-width="0.5"/>
<line x1="454.39" y1="406.3" x2="454.39" y2="407.3" stroke="#555" stroke-width="0.5"/>
<line x1="460.18" y1="406.3" x2="460.18" y2="408.5" stroke="#555" stroke-width="0.5"/>
<line x1="465.96" y1="406.3" x2="465.96" y2="407.3" stroke="#555" stroke-width="0.5"/>
<line x1="471.75" y1="406.3" x2="471.75" y2="407.3" stroke="#555" stroke-width="0.5"/>
<line x1="477.53" y1="406.3" x2="477.53" y2="407.3" stroke="#555" stroke-width="0.5"/>
<line x1="483.31" y1="406.3" x2="483.31" y2="407.3" stroke="#555" stroke-width="0.5"/>
<line x1="489.1" y1="406.3" x2="489.1" y2="408.5" stroke="#555" stroke-width="0.5"/>
<line x1="494.88" y1="406.3" x2="494.88" y2="407.3" stroke="#555" stroke-width="0.5"/>
<line x1="500.67" y1="406.3" x2="500.67" y2="407.3" stroke="#555" stroke-width="0.5"/>
<line x1="506.45" y1="406.3" x2="506.45" y2="407.3" stroke="#555" stroke-width="0.5"/>
<line x1="512.24" y1="406.3" x2="512.24" y2="407.3" stroke="#555" stroke-width="0.5"/>
<line x1="518.03" y1="406.3" x2="518.03" y2="408.5" stroke="#555" stroke-width="0.5"/>
<line x1="523.81" y1="406.3" x2="523.81" y2="407.3" stroke="#555" stroke-width="0.5"/>
<line x1="529.6" y1="406.3" x2="529.6" y2="407.3" stroke="#555" stroke-width="0.5"/>
<line x1="535.38" y1="406.3" x2="535.38" y2="407.3" stroke="#555" stroke-width="0.5"/>
<line x1="541.16" y1="406.3" x2="541.16" y2="407.3" stroke="#555" stroke-width="0.5"/>
<line x1="546.95" y1="406.3" x2="546.95" y2="408.5" stroke="#555" stroke-width="0.5"/>
<line x1="552.74" y1="406.3" x2="552.74" y2="407.3" stroke="#555" stroke-width="0.5"/>
<line x1="558.52" y1="406.3" x2="558.52" y2="407.3" stroke="#555" stroke-width="0.5"/>
<line x1="564.31" y1="406.3" x2="564.31" y2="407.3" stroke="#555" stroke-width="0.5"/>
<line x1="570.09" y1="406.3" x2="570.09" y2="407.3" stroke="#555" stroke-width="0.5"/>
<line x1="575.88" y1="406.3" x2="575.88" y2="408.5" stroke="#555" stroke-width="0.5"/>
<line x1="581.66" y1="406.3" x2="581.66" y2="407.3" stroke="#555" stroke-width="0.5"/>
<line x1="587.44" y1="406.3" x2="587.44" y2="407.3" stroke="#555" stroke-width="0.5"/>
<line x1="593.23" y1="406.3" x2="593.23" y2="407.3" stroke="#555" stroke-width="0.5"/>
<line x1="599.01" y1="406.3" x2="599.01" y2="407.3" stroke="#555" stroke-width="0.5"/>
<line x1="604.8" y1="406.3" x2="604.8" y2="408.5" stroke="#555" stroke-width="0.5"/>
<text x="142.0" y="411.9" font-size="4.6" fill="#111" text-anchor="middle" textLength="6.9" lengthAdjust="spacingAndGlyphs">200</text>
<text x="170.93" y="411.9" font-size="4.6" fill="#111" text-anchor="middle" textLength="6.9" lengthAdjust="spacingAndGlyphs">250</text>
<text x="199.85" y="411.9" font-size="4.6" fill="#111" text-anchor="middle" textLength="6.9" lengthAdjust="spacingAndGlyphs">300</text>
<text x="228.78" y="411.9" font-size="4.6" fill="#111" text-anchor="middle" textLength="6.9" lengthAdjust="spacingAndGlyphs">350</text>
<text x="257.7" y="411.9" font-size="4.6" fill="#111" text-anchor="middle" textLength="6.9" lengthAdjust="spacingAndGlyphs">400</text>
<text x="286.62" y="411.9" font-size="4.6" fill="#111" text-anchor="middle" textLength="6.9" lengthAdjust="spacingAndGlyphs">450</text>
<text x="315.55" y="411.9" font-size="4.6" fill="#111" text-anchor="middle" textLength="6.9" lengthAdjust="spacingAndGlyphs">500</text>
<text x="344.48" y="411.9" font-size="4.6" fill="#111" text-anchor="middle" textLength="6.9" lengthAdjust="spacingAndGlyphs">550</text>
<text x="373.4" y="411.9" font-size="4.6" fill="#111" text-anchor="middle" textLength="6.9" lengthAdjust="spacingAndGlyphs">600</text>
<text x="402.32" y="411.9" font-size="4.6" fill="#111" text-anchor="middle" textLength="6.9" lengthAdjust="spacingAndGlyphs">650</text>
<text x="431.25" y="411.9" font-size="4.6" fill="#111" text-anchor="middle" textLength="6.9" lengthAdjust="spacingAndGlyphs">700</text>
<text x="460.18" y="411.9" font-size="4.6" fill="#111" text-anchor="middle" textLength="6.9" lengthAdjust="spacingAndGlyphs">750</text>
<text x="489.1" y="411.9" font-size="4.6" fill="#111" text-anchor="middle" textLength="6.9" lengthAdjust="spacingAndGlyphs">800</text>
<text x="518.03" y="411.9" font-size="4.6" fill="#111" text-anchor="middle" textLength="6.9" lengthAdjust="spacingAndGlyphs">850</text>
<text x="546.95" y="411.9" font-size="4.6" fill="#111" text-anchor="middle" textLength="6.9" lengthAdjust="spacingAndGlyphs">900</text>
<text x="575.88" y="411.9" font-size="4.6" fill="#111" text-anchor="middle" textLength="6.9" lengthAdjust="spacingAndGlyphs">950</text>
<text x="604.8" y="411.9" font-size="4.6" fill="#111" text-anchor="middle" textLength="9.2" lengthAdjust="spacingAndGlyphs">1000</text>
<line x1="610.59" y1="406.3" x2="610.59" y2="407.3" stroke="#555" stroke-width="0.5"/>
<line x1="616.37" y1="406.3" x2="616.37" y2="407.3" stroke="#555" stroke-width="0.5"/>
<line x1="622.15" y1="406.3" x2="622.15" y2="407.3" stroke="#555" stroke-width="0.5"/>
<line x1="627.94" y1="406.3" x2="627.94" y2="407.3" stroke="#555" stroke-width="0.5"/>
<line x1="142.5" y1="406.3" x2="142.5" y2="405.9" stroke="#2a2a9c" stroke-width="0.6"/>
<line x1="145.46" y1="406.3" x2="145.46" y2="405.92" stroke="#2a2a9c" stroke-width="0.6"/>
<line x1="148.02" y1="406.3" x2="148.02" y2="406.0" stroke="#2a2a9c" stroke-width="0.6"/>
<line x1="149.65" y1="406.3" x2="149.65" y2="406.0" stroke="#2a2a9c" stroke-width="0.6"/>
<line x1="154.25" y1="406.3" x2="154.25" y2="405.97" stroke="#2a2a9c" stroke-width="0.6"/>
<line x1="156.16" y1="406.3" x2="156.16" y2="402.99" stroke="#2a2a9c" stroke-width="0.6"/>
<line x1="159.8" y1="406.3" x2="159.8" y2="405.91" stroke="#2a2a9c" stroke-width="0.6"/>
<line x1="161.85" y1="406.3" x2="161.85" y2="403.41" stroke="#2a2a9c" stroke-width="0.6"/>
<line x1="165.72" y1="406.3" x2="165.72" y2="403.69" stroke="#2a2a9c" stroke-width="0.6"/>
<line x1="167.94" y1="406.3" x2="167.94" y2="404.5" stroke="#2a2a9c" stroke-width="0.6"/>
<line x1="171.04" y1="406.3" x2="171.04" y2="405.79" stroke="#2a2a9c" stroke-width="0.6"/>
<line x1="175.98" y1="406.3" x2="175.98" y2="403.98" stroke="#2a2a9c" stroke-width="0.6"/>
<line x1="177.98" y1="406.3" x2="177.98" y2="406.0" stroke="#2a2a9c" stroke-width="0.6"/>
<line x1="180.9" y1="406.3" x2="180.9" y2="404.61" stroke="#2a2a9c" stroke-width="0.6"/>
<line x1="184.84" y1="406.3" x2="184.84" y2="405.29" stroke="#2a2a9c" stroke-width="0.6"/>
<line x1="189.3" y1="406.3" x2="189.3" y2="405.86" stroke="#2a2a9c" stroke-width="0.6"/>
<line x1="192.26" y1="406.3" x2="192.26" y2="405.59" stroke="#2a2a9c" stroke-width="0.6"/>
<line x1="194.56" y1="406.3" x2="194.56" y2="404.87" stroke="#2a2a9c" stroke-width="0.6"/>
<line x1="198.35" y1="406.3" x2="198.35" y2="404.9" stroke="#2a2a9c" stroke-width="0.6"/>
<line x1="202.91" y1="406.3" x2="202.91" y2="403.64" stroke="#2a2a9c" stroke-width="0.6"/>
<line x1="205.79" y1="406.3" x2="205.79" y2="405.98" stroke="#2a2a9c" stroke-width="0.6"/>
<line x1="208.95" y1="406.3" x2="208.95" y2="405.98" stroke="#2a2a9c" stroke-width="0.6"/>
<line x1="211.22" y1="406.3" x2="211.22" y2="406.0" stroke="#2a2a9c" stroke-width="0.6"/>
<line x1="214.84" y1="406.3" x2="214.84" y2="406.0" stroke="#2a2a9c" stroke-width="0.6"/>
<line x1="217.96" y1="406.3" x2="217.96" y2="404.34" stroke="#2a2a9c" stroke-width="0.6"/>
<line x1="219.57" y1="406.3" x2="219.57" y2="405.58" stroke="#2a2a9c" stroke-width="0.6"/>
<line x1="221.32" y1="406.3" x2="221.32" y2="405.63" stroke="#2a2a9c" stroke-width="0.6"/>
<line x1="225.74" y1="406.3" x2="225.74" y2="406.0" stroke="#2a2a9c" stroke-width="0.6"/>
<line x1="230.01" y1="406.3" x2="230.01" y2="404.5" stroke="#2a2a9c" stroke-width="0.6"/>
<line x1="233.56" y1="406.3" x2="233.56" y2="406.0" stroke="#2a2a9c" stroke-width="0.6"/>
<line x1="238.48" y1="406.3" x2="238.48" y2="405.6" stroke="#2a2a9c" stroke-width="0.6"/>
<line x1="241.69" y1="406.3" x2="241.69" y2="403.62" stroke="#2a2a9c" stroke-width="0.6"/>
<line x1="245.32" y1="406.3" x2="245.32" y2="404.35" stroke="#2a2a9c" stroke-width="0.6"/>
<line x1="248.39" y1="406.3" x2="248.39" y2="406.0" stroke="#2a2a9c" stroke-width="0.6"/>
<line x1="252.34" y1="406.3" x2="252.34" y2="406.0" stroke="#2a2a9c" stroke-width="0.6"/>
<line x1="256.26" y1="406.3" x2="256.26" y2="405.85" stroke="#2a2a9c" stroke-width="0.6"/>
<line x1="261.08" y1="406.3" x2="261.08" y2="405.74" stroke="#2a2a9c" stroke-width="0.6"/>
<line x1="262.81" y1="406.3" x2="262.81" y2="403.57" stroke="#2a2a9c" stroke-width="0.6"/>
<line x1="266.58" y1="406.3" x2="266.58" y2="406.0" stroke="#2a2a9c" stroke-width="0.6"/>
<line x1="269.21" y1="406.3" x2="269.21" y2="405.87" stroke="#2a2a9c" stroke-width="0.6"/>
<line x1="272.93" y1="406.3" x2="272.93" y2="406.0" stroke="#2a2a9c" stroke-width="0.6"/>
<line x1="275.25" y1="406.3" x2="275.25" y2="405.97" stroke="#2a2a9c" stroke-width="0.6"/>
<line x1="278.68" y1="406.3" x2="278.68" y2="405.2" stroke="#2a2a9c" stroke-width="0.6"/>
<line x1="282.66" y1="406.3" x2="282.66" y2="403.07" stroke="#2a2a9c" stroke-width="0.6"/>
<line x1="284.77" y1="406.3" x2="284.77" y2="405.02" stroke="#2a2a9c" stroke-width="0.6"/>
<line x1="286.92" y1="406.3" x2="286.92" y2="402.97" stroke="#2a2a9c" stroke-width="0.6"/>
<line x1="291.05" y1="406.3" x2="291.05" y2="405.28" stroke="#2a2a9c" stroke-width="0.6"/>
<line x1="293.17" y1="406.3" x2="293.17" y2="403.5" stroke="#2a2a9c" stroke-width="0.6"/>
<line x1="296.98" y1="406.3" x2="296.98" y2="404.68" stroke="#2a2a9c" stroke-width="0.6"/>
<line x1="301.26" y1="406.3" x2="301.26" y2="404.82" stroke="#2a2a9c" stroke-width="0.6"/>
<line x1="305.66" y1="406.3" x2="305.66" y2="403.88" stroke="#2a2a9c" stroke-width="0.6"/>
<line x1="310.52" y1="406.3" x2="310.52" y2="406.0" stroke="#2a2a9c" stroke-width="0.6"/>
<line x1="313.38" y1="406.3" x2="313.38" y2="406.0" stroke="#2a2a9c" stroke-width="0.6"/>
<line x1="316.93" y1="406.3" x2="316.93" y2="405.49" stroke="#2a2a9c" stroke-width="0.6"/>
<line x1="321.37" y1="406.3" x2="321.37" y2="405.8" stroke="#2a2a9c" stroke-width="0.6"/>
<line x1="323.25" y1="406.3" x2="323.25" y2="404.37" stroke="#2a2a9c" stroke-width="0.6"/>
<line x1="327.18" y1="406.3" x2="327.18" y2="405.17" stroke="#2a2a9c" stroke-width="0.6"/>
<line x1="329.85" y1="406.3" x2="329.85" y2="405.97" stroke="#2a2a9c" stroke-width="0.6"/>
<line x1="333.33" y1="406.3" x2="333.33" y2="406.0" stroke="#2a2a9c" stroke-width="0.6"/>
<line x1="337.38" y1="406.3" x2="337.38" y2="406.0" stroke="#2a2a9c" stroke-width="0.6"/>
<line x1="342.04" y1="406.3" x2="342.04" y2="405.75" stroke="#2a2a9c" stroke-width="0.6"/>
<line x1="344.34" y1="406.3" x2="344.34" y2="405.99" stroke="#2a2a9c" stroke-width="0.6"/>
<line x1="348.54" y1="406.3" x2="348.54" y2="404.65" stroke="#2a2a9c" stroke-width="0.6"/>
<line x1="350.44" y1="406.3" x2="350.44" y2="405.84" stroke="#2a2a9c" stroke-width="0.6"/>
<line x1="352.69" y1="406.3" x2="352.69" y2="405.97" stroke="#2a2a9c" stroke-width="0.6"/>
<line x1="357.37" y1="406.3" x2="357.37" y2="405.93" stroke="#2a2a9c" stroke-width="0.6"/>
<line x1="359.7" y1="406.3" x2="359.7" y2="405.74" stroke="#2a2a9c" stroke-width="0.6"/>
<line x1="364.32" y1="406.3" x2="364.32" y2="404.04" stroke="#2a2a9c" stroke-width="0.6"/>
<line x1="365.84" y1="406.3" x2="365.84" y2="405.96" stroke="#2a2a9c" stroke-width="0.6"/>
<line x1="369.79" y1="406.3" x2="369.79" y2="405.95" stroke="#2a2a9c" stroke-width="0.6"/>
<line x1="374.26" y1="406.3" x2="374.26" y2="406.0" stroke="#2a2a9c" stroke-width="0.6"/>
<line x1="379.0" y1="406.3" x2="379.0" y2="406.0" stroke="#2a2a9c" stroke-width="0.6"/>
<line x1="383.17" y1="406.3" x2="383.17" y2="402.86" stroke="#2a2a9c" stroke-width="0.6"/>
<line x1="387.46" y1="406.3" x2="387.46" y2="404.4" stroke="#2a2a9c" stroke-width="0.6"/>
<line x1="390.9" y1="406.3" x2="390.9" y2="403.04" stroke="#2a2a9c" stroke-width="0.6"/>
<line x1="393.9" y1="406.3" x2="393.9" y2="405.46" stroke="#2a2a9c" stroke-width="0.6"/>
<line x1="396.28" y1="406.3" x2="396.28" y2="406.0" stroke="#2a2a9c" stroke-width="0.6"/>
<line x1="401.0" y1="406.3" x2="401.0" y2="405.97" stroke="#2a2a9c" stroke-width="0.6"/>
<line x1="402.63" y1="406.3" x2="402.63" y2="405.89" stroke="#2a2a9c" stroke-width="0.6"/>
<line x1="407.3" y1="406.3" x2="407.3" y2="406.0" stroke="#2a2a9c" stroke-width="0.6"/>
<line x1="411.13" y1="406.3" x2="411.13" y2="405.56" stroke="#2a2a9c" stroke-width="0.6"/>
<line x1="413.22" y1="406.3" x2="413.22" y2="405.48" stroke="#2a2a9c" stroke-width="0.6"/>
<line x1="417.85" y1="406.3" x2="417.85" y2="405.63" stroke="#2a2a9c" stroke-width="0.6"/>
<line x1="420.99" y1="406.3" x2="420.99" y2="405.7" stroke="#2a2a9c" stroke-width="0.6"/>
<line x1="424.25" y1="406.3" x2="424.25" y2="405.88" stroke="#2a2a9c" stroke-width="0.6"/>
<line x1="427.74" y1="406.3" x2="427.74" y2="405.97" stroke="#2a2a9c" stroke-width="0.6"/>
<line x1="432.49" y1="406.3" x2="432.49" y2="405.09" stroke="#2a2a9c" stroke-width="0.6"/>
<line x1="435.84" y1="406.3" x2="435.84" y2="405.95" stroke="#2a2a9c" stroke-width="0.6"/>
<line x1="437.64" y1="406.3" x2="437.64" y2="405.62" stroke="#2a2a9c" stroke-width="0.6"/>
<line x1="441.12" y1="406.3" x2="441.12" y2="403.89" stroke="#2a2a9c" stroke-width="0.6"/>
<line x1="444.16" y1="406.3" x2="444.16" y2="405.56" stroke="#2a2a9c" stroke-width="0.6"/>
<line x1="448.65" y1="406.3" x2="448.65" y2="404.98" stroke="#2a2a9c" stroke-width="0.6"/>
<line x1="451.52" y1="406.3" x2="451.52" y2="405.89" stroke="#2a2a9c" stroke-width="0.6"/>
<line x1="455.59" y1="406.3" x2="455.59" y2="404.97" stroke="#2a2a9c" stroke-width="0.6"/>
<line x1="459.54" y1="406.3" x2="459.54" y2="405.99" stroke="#2a2a9c" stroke-width="0.6"/>
<line x1="464.14" y1="406.3" x2="464.14" y2="406.0" stroke="#2a2a9c" stroke-width="0.6"/>
<line x1="467.36" y1="406.3" x2="467.36" y2="405.98" stroke="#2a2a9c" stroke-width="0.6"/>
<line x1="469.22" y1="406.3" x2="469.22" y2="405.98" stroke="#2a2a9c" stroke-width="0.6"/>
<line x1="473.1" y1="406.3" x2="473.1" y2="405.91" stroke="#2a2a9c" stroke-width="0.6"/>
<line x1="475.99" y1="406.3" x2="475.99" y2="406.0" stroke="#2a2a9c" stroke-width="0.6"/>
<line x1="478.67" y1="406.3" x2="478.67" y2="405.88" stroke="#2a2a9c" stroke-width="0.6"/>
<line x1="483.26" y1="406.3" x2="483.26" y2="405.78" stroke="#2a2a9c" stroke-width="0.6"/>
<line x1="485.9" y1="406.3" x2="485.9" y2="404.85" stroke="#2a2a9c" stroke-width="0.6"/>
<line x1="488.33" y1="406.3" x2="488.33" y2="405.99" stroke="#2a2a9c" stroke-width="0.6"/>
<line x1="490.01" y1="406.3" x2="490.01" y2="406.0" stroke="#2a2a9c" stroke-width="0.6"/>
<line x1="494.61" y1="406.3" x2="494.61" y2="405.82" stroke="#2a2a9c" stroke-width="0.6"/>
<line x1="497.97" y1="406.3" x2="497.97" y2="404.55" stroke="#2a2a9c" stroke-width="0.6"/>
<line x1="501.7" y1="406.3" x2="501.7" y2="405.69" stroke="#2a2a9c" stroke-width="0.6"/>
<line x1="504.84" y1="406.3" x2="504.84" y2="403.9" stroke="#2a2a9c" stroke-width="0.6"/>
<line x1="509.8" y1="406.3" x2="509.8" y2="404.19" stroke="#2a2a9c" stroke-width="0.6"/>
<line x1="511.99" y1="406.3" x2="511.99" y2="405.63" stroke="#2a2a9c" stroke-width="0.6"/>
<line x1="514.9" y1="406.3" x2="514.9" y2="405.46" stroke="#2a2a9c" stroke-width="0.6"/>
<line x1="519.68" y1="406.3" x2="519.68" y2="402.99" stroke="#2a2a9c" stroke-width="0.6"/>
<line x1="523.72" y1="406.3" x2="523.72" y2="403.94" stroke="#2a2a9c" stroke-width="0.6"/>
<line x1="527.34" y1="406.3" x2="527.34" y2="405.63" stroke="#2a2a9c" stroke-width="0.6"/>
<line x1="530.6" y1="406.3" x2="530.6" y2="405.94" stroke="#2a2a9c" stroke-width="0.6"/>
<line x1="532.27" y1="406.3" x2="532.27" y2="405.45" stroke="#2a2a9c" stroke-width="0.6"/>
<line x1="536.41" y1="406.3" x2="536.41" y2="403.11" stroke="#2a2a9c" stroke-width="0.6"/>
<line x1="540.74" y1="406.3" x2="540.74" y2="404.44" stroke="#2a2a9c" stroke-width="0.6"/>
<line x1="544.93" y1="406.3" x2="544.93" y2="404.53" stroke="#2a2a9c" stroke-width="0.6"/>
<line x1="548.58" y1="406.3" x2="548.58" y2="405.39" stroke="#2a2a9c" stroke-width="0.6"/>
<line x1="550.22" y1="406.3" x2="550.22" y2="405.55" stroke="#2a2a9c" stroke-width="0.6"/>
<line x1="554.58" y1="406.3" x2="554.58" y2="405.93" stroke="#2a2a9c" stroke-width="0.6"/>
<line x1="557.56" y1="406.3" x2="557.56" y2="405.68" stroke="#2a2a9c" stroke-width="0.6"/>
<line x1="559.51" y1="406.3" x2="559.51" y2="406.0" stroke="#2a2a9c" stroke-width="0.6"/>
<line x1="562.9" y1="406.3" x2="562.9" y2="404.53" stroke="#2a2a9c" stroke-width="0.6"/>
<line x1="567.46" y1="406.3" x2="567.46" y2="405.99" stroke="#2a2a9c" stroke-width="0.6"/>
<line x1="569.58" y1="406.3" x2="569.58" y2="404.52" stroke="#2a2a9c" stroke-width="0.6"/>
<line x1="572.8" y1="406.3" x2="572.8" y2="405.38" stroke="#2a2a9c" stroke-width="0.6"/>
<line x1="576.72" y1="406.3" x2="576.72" y2="405.95" stroke="#2a2a9c" stroke-width="0.6"/>
<line x1="578.57" y1="406.3" x2="578.57" y2="405.65" stroke="#2a2a9c" stroke-width="0.6"/>
<line x1="580.35" y1="406.3" x2="580.35" y2="405.89" stroke="#2a2a9c" stroke-width="0.6"/>
<line x1="585.19" y1="406.3" x2="585.19" y2="405.95" stroke="#2a2a9c" stroke-width="0.6"/>
<line x1="587.74" y1="406.3" x2="587.74" y2="405.95" stroke="#2a2a9c" stroke-width="0.6"/>
<line x1="590.26" y1="406.3" x2="590.26" y2="406.0" stroke="#2a2a9c" stroke-width="0.6"/>
<line x1="593.73" y1="406.3" x2="593.73" y2="406.0" stroke="#2a2a9c" stroke-width="0.6"/>
<line x1="597.95" y1="406.3" x2="597.95" y2="403.0" stroke="#2a2a9c" stroke-width="0.6"/>
<line x1="601.36" y1="406.3" x2="601.36" y2="406.0" stroke="#2a2a9c" stroke-width="0.6"/>
<line x1="604.08" y1="406.3" x2="604.08" y2="405.94" stroke="#2a2a9c" stroke-width="0.6"/>
<line x1="142" y1="406.1" x2="605" y2="406.1" stroke="#2a2a9c" stroke-width="0.9"/>
<line x1="143.8" y1="406.3" x2="143.8" y2="398" stroke="#2a2a9c" stroke-width="0.8"/>
<line x1="150.4" y1="406.3" x2="150.4" y2="401.6" stroke="#2a2a9c" stroke-width="0.8"/>
<line x1="388.5" y1="406.3" x2="388.5" y2="401.4" stroke="#2a2a9c" stroke-width="0.8"/>
<line x1="418" y1="406.3" x2="418" y2="403" stroke="#2a2a9c" stroke-width="0.8"/>
<line x1="421.6" y1="406.3" x2="421.6" y2="398" stroke="#2a2a9c" stroke-width="0.8"/>
<line x1="433" y1="406.3" x2="433" y2="401" stroke="#2a2a9c" stroke-width="0.8"/>
<line x1="434.8" y1="406.3" x2="434.8" y2="393.3" stroke="#2a2a9c" stroke-width="0.8"/>
<line x1="451.4" y1="406.3" x2="451.4" y2="374.2" stroke="#2a2a9c" stroke-width="0.8"/>
<line x1="451.9" y1="406.3" x2="451.9" y2="384.4" stroke="#2a2a9c" stroke-width="0.8"/>
<line x1="455" y1="406.3" x2="455" y2="400" stroke="#2a2a9c" stroke-width="0.8"/>
<line x1="466" y1="406.3" x2="466" y2="400.5" stroke="#2a2a9c" stroke-width="0.8"/>
<line x1="468.3" y1="406.3" x2="468.3" y2="347.9" stroke="#2a2a9c" stroke-width="0.8"/>
<line x1="468.8" y1="406.3" x2="468.8" y2="388.8" stroke="#2a2a9c" stroke-width="0.8"/>
<line x1="482.4" y1="406.3" x2="482.4" y2="401" stroke="#2a2a9c" stroke-width="0.8"/>
<line x1="485.1" y1="406.3" x2="485.1" y2="345.2" stroke="#2a2a9c" stroke-width="0.8"/>
<line x1="485.6" y1="406.3" x2="485.6" y2="373.6" stroke="#2a2a9c" stroke-width="0.8"/>
<line x1="501.7" y1="406.3" x2="501.7" y2="378.7" stroke="#2a2a9c" stroke-width="0.8"/>
<line x1="502.1" y1="406.3" x2="502.1" y2="388" stroke="#2a2a9c" stroke-width="0.8"/>
<line x1="502.5" y1="406.3" x2="502.5" y2="395" stroke="#2a2a9c" stroke-width="0.8"/>
<line x1="504.8" y1="406.3" x2="504.8" y2="402" stroke="#2a2a9c" stroke-width="0.8"/>
<line x1="515.2" y1="406.3" x2="515.2" y2="400" stroke="#2a2a9c" stroke-width="0.8"/>
<line x1="518.6" y1="406.3" x2="518.6" y2="399" stroke="#2a2a9c" stroke-width="0.8"/>
<line x1="548.7" y1="406.3" x2="548.7" y2="399" stroke="#2a2a9c" stroke-width="0.8"/>
<line x1="568.1" y1="406.3" x2="568.1" y2="402" stroke="#2a2a9c" stroke-width="0.8"/>
<line x1="582.5" y1="406.3" x2="582.5" y2="402.6" stroke="#2a2a9c" stroke-width="0.8"/>
<line x1="176" y1="406.3" x2="176" y2="404" stroke="#2a2a9c" stroke-width="0.8"/>
<line x1="190" y1="406.3" x2="190" y2="404.2" stroke="#2a2a9c" stroke-width="0.8"/>
<line x1="214" y1="406.3" x2="214" y2="404" stroke="#2a2a9c" stroke-width="0.8"/>
<line x1="250" y1="406.3" x2="250" y2="404" stroke="#2a2a9c" stroke-width="0.8"/>
<line x1="295" y1="406.3" x2="295" y2="404.2" stroke="#2a2a9c" stroke-width="0.8"/>
<line x1="319" y1="406.3" x2="319" y2="403.5" stroke="#2a2a9c" stroke-width="0.8"/>
<line x1="340" y1="406.3" x2="340" y2="404" stroke="#2a2a9c" stroke-width="0.8"/>
<line x1="350" y1="406.3" x2="350" y2="404.2" stroke="#2a2a9c" stroke-width="0.8"/>
<line x1="372" y1="406.3" x2="372" y2="404" stroke="#2a2a9c" stroke-width="0.8"/>
<line x1="410" y1="406.3" x2="410" y2="403.5" stroke="#2a2a9c" stroke-width="0.8"/>
<line x1="441" y1="406.3" x2="441" y2="403" stroke="#2a2a9c" stroke-width="0.8"/>
<line x1="446" y1="406.3" x2="446" y2="403.2" stroke="#2a2a9c" stroke-width="0.8"/>
<line x1="476" y1="406.3" x2="476" y2="403" stroke="#2a2a9c" stroke-width="0.8"/>
<line x1="492" y1="406.3" x2="492" y2="403.5" stroke="#2a2a9c" stroke-width="0.8"/>
<line x1="510" y1="406.3" x2="510" y2="403" stroke="#2a2a9c" stroke-width="0.8"/>
<line x1="525" y1="406.3" x2="525" y2="403.8" stroke="#2a2a9c" stroke-width="0.8"/>
<line x1="532" y1="406.3" x2="532" y2="403.5" stroke="#2a2a9c" stroke-width="0.8"/>
<line x1="561" y1="406.3" x2="561" y2="403.8" stroke="#2a2a9c" stroke-width="0.8"/>
<line x1="575" y1="406.3" x2="575" y2="403.5" stroke="#2a2a9c" stroke-width="0.8"/>
<line x1="590" y1="406.3" x2="590" y2="403.8" stroke="#2a2a9c" stroke-width="0.8"/>
<line x1="598" y1="406.3" x2="598" y2="404" stroke="#2a2a9c" stroke-width="0.8"/>
<text x="151.4" y="393.1" font-size="4.9" fill="#111" text-anchor="middle" textLength="16.4" lengthAdjust="spacingAndGlyphs">203.0514</text>
<text x="161.6" y="398.9" font-size="4.9" fill="#111" text-anchor="middle" textLength="16.4" lengthAdjust="spacingAndGlyphs">215.1260</text>
<text x="387" y="400.5" font-size="4.9" fill="#111" text-anchor="middle" textLength="16.4" lengthAdjust="spacingAndGlyphs">625.2206</text>
<text x="413.5" y="393.0" font-size="4.9" fill="#111" text-anchor="middle" textLength="16.4" lengthAdjust="spacingAndGlyphs">683.2750</text>
<text x="434.4" y="392.8" font-size="4.9" fill="#111" text-anchor="middle" textLength="16.4" lengthAdjust="spacingAndGlyphs">706.2608</text>
<text x="450.6" y="372.7" font-size="4.9" fill="#111" text-anchor="middle" textLength="16.4" lengthAdjust="spacingAndGlyphs">735.2816</text>
<text x="440.5" y="383.8" font-size="4.9" fill="#111" text-anchor="middle" textLength="16.4" lengthAdjust="spacingAndGlyphs">735.7832</text>
<text x="467.6" y="346.3" font-size="4.9" fill="#111" text-anchor="middle" textLength="16.4" lengthAdjust="spacingAndGlyphs">764.3030</text>
<text x="457.1" y="357.9" font-size="4.9" fill="#111" text-anchor="middle" textLength="16.4" lengthAdjust="spacingAndGlyphs">764.8041</text>
<text x="495.6" y="351.4" font-size="4.9" fill="#111" text-anchor="middle" textLength="16.4" lengthAdjust="spacingAndGlyphs">793.3237</text>
<text x="495.6" y="362.9" font-size="4.9" fill="#111" text-anchor="middle" textLength="16.4" lengthAdjust="spacingAndGlyphs">793.8258</text>
<text x="501.3" y="377.1" font-size="4.9" fill="#111" text-anchor="middle" textLength="16.4" lengthAdjust="spacingAndGlyphs">822.3447</text>
<text x="511.9" y="385.3" font-size="4.9" fill="#111" text-anchor="middle" textLength="16.4" lengthAdjust="spacingAndGlyphs">822.8466</text>
<text x="511.9" y="394.8" font-size="4.9" fill="#111" text-anchor="middle" textLength="16.4" lengthAdjust="spacingAndGlyphs">823.3476</text>
<text x="548.2" y="397.3" font-size="4.9" fill="#111" text-anchor="middle" textLength="16.4" lengthAdjust="spacingAndGlyphs">903.3711</text>
<text x="579.3" y="401.6" font-size="4.9" fill="#111" text-anchor="middle" textLength="16.4" lengthAdjust="spacingAndGlyphs">961.4146</text>
<line x1="155" y1="398.5" x2="150.4" y2="401.6" stroke="#555" stroke-width="0.4"/>
<line x1="467" y1="357" x2="468.6" y2="360" stroke="#555" stroke-width="0.4"/>
<line x1="486" y1="350" x2="485.4" y2="347" stroke="#555" stroke-width="0.4"/>
<line x1="486" y1="361" x2="485.6" y2="363" stroke="#555" stroke-width="0.4"/>
<line x1="503" y1="384" x2="502.1" y2="388" stroke="#555" stroke-width="0.4"/>
<line x1="503" y1="393" x2="502.5" y2="395" stroke="#555" stroke-width="0.4"/>
<line x1="448" y1="383" x2="451.6" y2="384.4" stroke="#555" stroke-width="0.4"/>
<polygon points="132,400.8 134,403.3 132,405.5 130,403.3" fill="#1d2a80"/>
<text transform="translate(111,376.1) rotate(-90)" font-size="4.7" fill="#222" text-anchor="middle" textLength="13.9" lengthAdjust="spacingAndGlyphs">Intensity</text>
<text x="384" y="416.5" font-size="4.9" fill="#111" text-anchor="middle">Mass/Charge, Da</text>
<text x="107" y="341.4" font-size="5.2" fill="#222" textLength="172" lengthAdjust="spacingAndGlyphs">Spectrum from BCD_SDS.wiff (sample 1) - SDS_BCD, +TOF MS (200 - 1000) from 0.363 min</text>
<line x1="134.4" y1="437.9" x2="134.4" y2="498.5" stroke="#555" stroke-width="0.7"/>
<line x1="132.6" y1="443.7" x2="134.4" y2="443.7" stroke="#555" stroke-width="0.6"/>
<text x="131.2" y="445.4" font-size="4.7" fill="#111" text-anchor="end" textLength="8.8" lengthAdjust="spacingAndGlyphs">2500</text>
<line x1="132.6" y1="454.6" x2="134.4" y2="454.6" stroke="#555" stroke-width="0.6"/>
<text x="131.2" y="456.3" font-size="4.7" fill="#111" text-anchor="end" textLength="8.8" lengthAdjust="spacingAndGlyphs">2000</text>
<line x1="132.6" y1="465.4" x2="134.4" y2="465.4" stroke="#555" stroke-width="0.6"/>
<text x="131.2" y="467.1" font-size="4.7" fill="#111" text-anchor="end" textLength="8.8" lengthAdjust="spacingAndGlyphs">1500</text>
<line x1="132.6" y1="476.3" x2="134.4" y2="476.3" stroke="#555" stroke-width="0.6"/>
<text x="131.2" y="478.0" font-size="4.7" fill="#111" text-anchor="end" textLength="8.8" lengthAdjust="spacingAndGlyphs">1000</text>
<line x1="132.6" y1="487.2" x2="134.4" y2="487.2" stroke="#555" stroke-width="0.6"/>
<text x="131.2" y="488.9" font-size="4.7" fill="#111" text-anchor="end" textLength="6.6" lengthAdjust="spacingAndGlyphs">500</text>
<line x1="132.6" y1="498.1" x2="134.4" y2="498.1" stroke="#555" stroke-width="0.6"/>
<text x="131.2" y="499.8" font-size="4.7" fill="#111" text-anchor="end" textLength="2.2" lengthAdjust="spacingAndGlyphs">0</text>
<line x1="133.5" y1="498.1" x2="134.4" y2="498.1" stroke="#777" stroke-width="0.5"/>
<line x1="133.5" y1="495.92" x2="134.4" y2="495.92" stroke="#777" stroke-width="0.5"/>
<line x1="133.5" y1="493.74" x2="134.4" y2="493.74" stroke="#777" stroke-width="0.5"/>
<line x1="133.5" y1="491.56" x2="134.4" y2="491.56" stroke="#777" stroke-width="0.5"/>
<line x1="133.5" y1="489.38" x2="134.4" y2="489.38" stroke="#777" stroke-width="0.5"/>
<line x1="133.5" y1="487.2" x2="134.4" y2="487.2" stroke="#777" stroke-width="0.5"/>
<line x1="133.5" y1="485.02" x2="134.4" y2="485.02" stroke="#777" stroke-width="0.5"/>
<line x1="133.5" y1="482.84" x2="134.4" y2="482.84" stroke="#777" stroke-width="0.5"/>
<line x1="133.5" y1="480.65999999999997" x2="134.4" y2="480.65999999999997" stroke="#777" stroke-width="0.5"/>
<line x1="133.5" y1="478.47999999999996" x2="134.4" y2="478.47999999999996" stroke="#777" stroke-width="0.5"/>
<line x1="133.5" y1="476.29999999999995" x2="134.4" y2="476.29999999999995" stroke="#777" stroke-width="0.5"/>
<line x1="133.5" y1="474.11999999999995" x2="134.4" y2="474.11999999999995" stroke="#777" stroke-width="0.5"/>
<line x1="133.5" y1="471.93999999999994" x2="134.4" y2="471.93999999999994" stroke="#777" stroke-width="0.5"/>
<line x1="133.5" y1="469.75999999999993" x2="134.4" y2="469.75999999999993" stroke="#777" stroke-width="0.5"/>
<line x1="133.5" y1="467.5799999999999" x2="134.4" y2="467.5799999999999" stroke="#777" stroke-width="0.5"/>
<line x1="133.5" y1="465.3999999999999" x2="134.4" y2="465.3999999999999" stroke="#777" stroke-width="0.5"/>
<line x1="133.5" y1="463.2199999999999" x2="134.4" y2="463.2199999999999" stroke="#777" stroke-width="0.5"/>
<line x1="133.5" y1="461.0399999999999" x2="134.4" y2="461.0399999999999" stroke="#777" stroke-width="0.5"/>
<line x1="133.5" y1="458.8599999999999" x2="134.4" y2="458.8599999999999" stroke="#777" stroke-width="0.5"/>
<line x1="133.5" y1="456.6799999999999" x2="134.4" y2="456.6799999999999" stroke="#777" stroke-width="0.5"/>
<line x1="133.5" y1="454.4999999999999" x2="134.4" y2="454.4999999999999" stroke="#777" stroke-width="0.5"/>
<line x1="133.5" y1="452.3199999999999" x2="134.4" y2="452.3199999999999" stroke="#777" stroke-width="0.5"/>
<line x1="133.5" y1="450.1399999999999" x2="134.4" y2="450.1399999999999" stroke="#777" stroke-width="0.5"/>
<line x1="133.5" y1="447.95999999999987" x2="134.4" y2="447.95999999999987" stroke="#777" stroke-width="0.5"/>
<line x1="133.5" y1="445.77999999999986" x2="134.4" y2="445.77999999999986" stroke="#777" stroke-width="0.5"/>
<line x1="133.5" y1="443.59999999999985" x2="134.4" y2="443.59999999999985" stroke="#777" stroke-width="0.5"/>
<line x1="133.5" y1="441.41999999999985" x2="134.4" y2="441.41999999999985" stroke="#777" stroke-width="0.5"/>
<line x1="133.5" y1="439.23999999999984" x2="134.4" y2="439.23999999999984" stroke="#777" stroke-width="0.5"/>
<line x1="133" y1="498.2" x2="631.6" y2="498.2" stroke="#555" stroke-width="0.7"/>
<line x1="142.0" y1="498.2" x2="142.0" y2="500.4" stroke="#555" stroke-width="0.5"/>
<line x1="147.78" y1="498.2" x2="147.78" y2="499.2" stroke="#555" stroke-width="0.5"/>
<line x1="153.57" y1="498.2" x2="153.57" y2="499.2" stroke="#555" stroke-width="0.5"/>
<line x1="159.35" y1="498.2" x2="159.35" y2="499.2" stroke="#555" stroke-width="0.5"/>
<line x1="165.14" y1="498.2" x2="165.14" y2="499.2" stroke="#555" stroke-width="0.5"/>
<line x1="170.93" y1="498.2" x2="170.93" y2="500.4" stroke="#555" stroke-width="0.5"/>
<line x1="176.71" y1="498.2" x2="176.71" y2="499.2" stroke="#555" stroke-width="0.5"/>
<line x1="182.5" y1="498.2" x2="182.5" y2="499.2" stroke="#555" stroke-width="0.5"/>
<line x1="188.28" y1="498.2" x2="188.28" y2="499.2" stroke="#555" stroke-width="0.5"/>
<line x1="194.06" y1="498.2" x2="194.06" y2="499.2" stroke="#555" stroke-width="0.5"/>
<line x1="199.85" y1="498.2" x2="199.85" y2="500.4" stroke="#555" stroke-width="0.5"/>
<line x1="205.63" y1="498.2" x2="205.63" y2="499.2" stroke="#555" stroke-width="0.5"/>
<line x1="211.42" y1="498.2" x2="211.42" y2="499.2" stroke="#555" stroke-width="0.5"/>
<line x1="217.2" y1="498.2" x2="217.2" y2="499.2" stroke="#555" stroke-width="0.5"/>
<line x1="222.99" y1="498.2" x2="222.99" y2="499.2" stroke="#555" stroke-width="0.5"/>
<line x1="228.78" y1="498.2" x2="228.78" y2="500.4" stroke="#555" stroke-width="0.5"/>
<line x1="234.56" y1="498.2" x2="234.56" y2="499.2" stroke="#555" stroke-width="0.5"/>
<line x1="240.34" y1="498.2" x2="240.34" y2="499.2" stroke="#555" stroke-width="0.5"/>
<line x1="246.13" y1="498.2" x2="246.13" y2="499.2" stroke="#555" stroke-width="0.5"/>
<line x1="251.92" y1="498.2" x2="251.92" y2="499.2" stroke="#555" stroke-width="0.5"/>
<line x1="257.7" y1="498.2" x2="257.7" y2="500.4" stroke="#555" stroke-width="0.5"/>
<line x1="263.49" y1="498.2" x2="263.49" y2="499.2" stroke="#555" stroke-width="0.5"/>
<line x1="269.27" y1="498.2" x2="269.27" y2="499.2" stroke="#555" stroke-width="0.5"/>
<line x1="275.06" y1="498.2" x2="275.06" y2="499.2" stroke="#555" stroke-width="0.5"/>
<line x1="280.84" y1="498.2" x2="280.84" y2="499.2" stroke="#555" stroke-width="0.5"/>
<line x1="286.62" y1="498.2" x2="286.62" y2="500.4" stroke="#555" stroke-width="0.5"/>
<line x1="292.41" y1="498.2" x2="292.41" y2="499.2" stroke="#555" stroke-width="0.5"/>
<line x1="298.19" y1="498.2" x2="298.19" y2="499.2" stroke="#555" stroke-width="0.5"/>
<line x1="303.98" y1="498.2" x2="303.98" y2="499.2" stroke="#555" stroke-width="0.5"/>
<line x1="309.76" y1="498.2" x2="309.76" y2="499.2" stroke="#555" stroke-width="0.5"/>
<line x1="315.55" y1="498.2" x2="315.55" y2="500.4" stroke="#555" stroke-width="0.5"/>
<line x1="321.34" y1="498.2" x2="321.34" y2="499.2" stroke="#555" stroke-width="0.5"/>
<line x1="327.12" y1="498.2" x2="327.12" y2="499.2" stroke="#555" stroke-width="0.5"/>
<line x1="332.9" y1="498.2" x2="332.9" y2="499.2" stroke="#555" stroke-width="0.5"/>
<line x1="338.69" y1="498.2" x2="338.69" y2="499.2" stroke="#555" stroke-width="0.5"/>
<line x1="344.48" y1="498.2" x2="344.48" y2="500.4" stroke="#555" stroke-width="0.5"/>
<line x1="350.26" y1="498.2" x2="350.26" y2="499.2" stroke="#555" stroke-width="0.5"/>
<line x1="356.05" y1="498.2" x2="356.05" y2="499.2" stroke="#555" stroke-width="0.5"/>
<line x1="361.83" y1="498.2" x2="361.83" y2="499.2" stroke="#555" stroke-width="0.5"/>
<line x1="367.62" y1="498.2" x2="367.62" y2="499.2" stroke="#555" stroke-width="0.5"/>
<line x1="373.4" y1="498.2" x2="373.4" y2="500.4" stroke="#555" stroke-width="0.5"/>
<line x1="379.19" y1="498.2" x2="379.19" y2="499.2" stroke="#555" stroke-width="0.5"/>
<line x1="384.97" y1="498.2" x2="384.97" y2="499.2" stroke="#555" stroke-width="0.5"/>
<line x1="390.75" y1="498.2" x2="390.75" y2="499.2" stroke="#555" stroke-width="0.5"/>
<line x1="396.54" y1="498.2" x2="396.54" y2="499.2" stroke="#555" stroke-width="0.5"/>
<line x1="402.32" y1="498.2" x2="402.32" y2="500.4" stroke="#555" stroke-width="0.5"/>
<line x1="408.11" y1="498.2" x2="408.11" y2="499.2" stroke="#555" stroke-width="0.5"/>
<line x1="413.89" y1="498.2" x2="413.89" y2="499.2" stroke="#555" stroke-width="0.5"/>
<line x1="419.68" y1="498.2" x2="419.68" y2="499.2" stroke="#555" stroke-width="0.5"/>
<line x1="425.47" y1="498.2" x2="425.47" y2="499.2" stroke="#555" stroke-width="0.5"/>
<line x1="431.25" y1="498.2" x2="431.25" y2="500.4" stroke="#555" stroke-width="0.5"/>
<line x1="437.04" y1="498.2" x2="437.04" y2="499.2" stroke="#555" stroke-width="0.5"/>
<line x1="442.82" y1="498.2" x2="442.82" y2="499.2" stroke="#555" stroke-width="0.5"/>
<line x1="448.61" y1="498.2" x2="448.61" y2="499.2" stroke="#555" stroke-width="0.5"/>
<line x1="454.39" y1="498.2" x2="454.39" y2="499.2" stroke="#555" stroke-width="0.5"/>
<line x1="460.18" y1="498.2" x2="460.18" y2="500.4" stroke="#555" stroke-width="0.5"/>
<line x1="465.96" y1="498.2" x2="465.96" y2="499.2" stroke="#555" stroke-width="0.5"/>
<line x1="471.75" y1="498.2" x2="471.75" y2="499.2" stroke="#555" stroke-width="0.5"/>
<line x1="477.53" y1="498.2" x2="477.53" y2="499.2" stroke="#555" stroke-width="0.5"/>
<line x1="483.31" y1="498.2" x2="483.31" y2="499.2" stroke="#555" stroke-width="0.5"/>
<line x1="489.1" y1="498.2" x2="489.1" y2="500.4" stroke="#555" stroke-width="0.5"/>
<line x1="494.88" y1="498.2" x2="494.88" y2="499.2" stroke="#555" stroke-width="0.5"/>
<line x1="500.67" y1="498.2" x2="500.67" y2="499.2" stroke="#555" stroke-width="0.5"/>
<line x1="506.45" y1="498.2" x2="506.45" y2="499.2" stroke="#555" stroke-width="0.5"/>
<line x1="512.24" y1="498.2" x2="512.24" y2="499.2" stroke="#555" stroke-width="0.5"/>
<line x1="518.03" y1="498.2" x2="518.03" y2="500.4" stroke="#555" stroke-width="0.5"/>
<line x1="523.81" y1="498.2" x2="523.81" y2="499.2" stroke="#555" stroke-width="0.5"/>
<line x1="529.6" y1="498.2" x2="529.6" y2="499.2" stroke="#555" stroke-width="0.5"/>
<line x1="535.38" y1="498.2" x2="535.38" y2="499.2" stroke="#555" stroke-width="0.5"/>
<line x1="541.16" y1="498.2" x2="541.16" y2="499.2" stroke="#555" stroke-width="0.5"/>
<line x1="546.95" y1="498.2" x2="546.95" y2="500.4" stroke="#555" stroke-width="0.5"/>
<line x1="552.74" y1="498.2" x2="552.74" y2="499.2" stroke="#555" stroke-width="0.5"/>
<line x1="558.52" y1="498.2" x2="558.52" y2="499.2" stroke="#555" stroke-width="0.5"/>
<line x1="564.31" y1="498.2" x2="564.31" y2="499.2" stroke="#555" stroke-width="0.5"/>
<line x1="570.09" y1="498.2" x2="570.09" y2="499.2" stroke="#555" stroke-width="0.5"/>
<line x1="575.88" y1="498.2" x2="575.88" y2="500.4" stroke="#555" stroke-width="0.5"/>
<line x1="581.66" y1="498.2" x2="581.66" y2="499.2" stroke="#555" stroke-width="0.5"/>
<line x1="587.44" y1="498.2" x2="587.44" y2="499.2" stroke="#555" stroke-width="0.5"/>
<line x1="593.23" y1="498.2" x2="593.23" y2="499.2" stroke="#555" stroke-width="0.5"/>
<line x1="599.01" y1="498.2" x2="599.01" y2="499.2" stroke="#555" stroke-width="0.5"/>
<line x1="604.8" y1="498.2" x2="604.8" y2="500.4" stroke="#555" stroke-width="0.5"/>
<text x="142.0" y="503.8" font-size="4.6" fill="#111" text-anchor="middle" textLength="6.9" lengthAdjust="spacingAndGlyphs">200</text>
<text x="170.93" y="503.8" font-size="4.6" fill="#111" text-anchor="middle" textLength="6.9" lengthAdjust="spacingAndGlyphs">250</text>
<text x="199.85" y="503.8" font-size="4.6" fill="#111" text-anchor="middle" textLength="6.9" lengthAdjust="spacingAndGlyphs">300</text>
<text x="228.78" y="503.8" font-size="4.6" fill="#111" text-anchor="middle" textLength="6.9" lengthAdjust="spacingAndGlyphs">350</text>
<text x="257.7" y="503.8" font-size="4.6" fill="#111" text-anchor="middle" textLength="6.9" lengthAdjust="spacingAndGlyphs">400</text>
<text x="286.62" y="503.8" font-size="4.6" fill="#111" text-anchor="middle" textLength="6.9" lengthAdjust="spacingAndGlyphs">450</text>
<text x="315.55" y="503.8" font-size="4.6" fill="#111" text-anchor="middle" textLength="6.9" lengthAdjust="spacingAndGlyphs">500</text>
<text x="344.48" y="503.8" font-size="4.6" fill="#111" text-anchor="middle" textLength="6.9" lengthAdjust="spacingAndGlyphs">550</text>
<text x="373.4" y="503.8" font-size="4.6" fill="#111" text-anchor="middle" textLength="6.9" lengthAdjust="spacingAndGlyphs">600</text>
<text x="402.32" y="503.8" font-size="4.6" fill="#111" text-anchor="middle" textLength="6.9" lengthAdjust="spacingAndGlyphs">650</text>
<text x="431.25" y="503.8" font-size="4.6" fill="#111" text-anchor="middle" textLength="6.9" lengthAdjust="spacingAndGlyphs">700</text>
<text x="460.18" y="503.8" font-size="4.6" fill="#111" text-anchor="middle" textLength="6.9" lengthAdjust="spacingAndGlyphs">750</text>
<text x="489.1" y="503.8" font-size="4.6" fill="#111" text-anchor="middle" textLength="6.9" lengthAdjust="spacingAndGlyphs">800</text>
<text x="518.03" y="503.8" font-size="4.6" fill="#111" text-anchor="middle" textLength="6.9" lengthAdjust="spacingAndGlyphs">850</text>
<text x="546.95" y="503.8" font-size="4.6" fill="#111" text-anchor="middle" textLength="6.9" lengthAdjust="spacingAndGlyphs">900</text>
<text x="575.88" y="503.8" font-size="4.6" fill="#111" text-anchor="middle" textLength="6.9" lengthAdjust="spacingAndGlyphs">950</text>
<text x="604.8" y="503.8" font-size="4.6" fill="#111" text-anchor="middle" textLength="9.2" lengthAdjust="spacingAndGlyphs">1000</text>
<line x1="610.59" y1="498.2" x2="610.59" y2="499.2" stroke="#555" stroke-width="0.5"/>
<line x1="616.37" y1="498.2" x2="616.37" y2="499.2" stroke="#555" stroke-width="0.5"/>
<line x1="622.15" y1="498.2" x2="622.15" y2="499.2" stroke="#555" stroke-width="0.5"/>
<line x1="627.94" y1="498.2" x2="627.94" y2="499.2" stroke="#555" stroke-width="0.5"/>
<line x1="142.5" y1="498.2" x2="142.5" y2="497.35" stroke="#2a2a9c" stroke-width="0.6"/>
<line x1="144.08" y1="498.2" x2="144.08" y2="497.74" stroke="#2a2a9c" stroke-width="0.6"/>
<line x1="145.27" y1="498.2" x2="145.27" y2="497.58" stroke="#2a2a9c" stroke-width="0.6"/>
<line x1="146.83" y1="498.2" x2="146.83" y2="494.47" stroke="#2a2a9c" stroke-width="0.6"/>
<line x1="147.85" y1="498.2" x2="147.85" y2="495.5" stroke="#2a2a9c" stroke-width="0.6"/>
<line x1="148.65" y1="498.2" x2="148.65" y2="496.88" stroke="#2a2a9c" stroke-width="0.6"/>
<line x1="150.13" y1="498.2" x2="150.13" y2="497.44" stroke="#2a2a9c" stroke-width="0.6"/>
<line x1="151.49" y1="498.2" x2="151.49" y2="497.61" stroke="#2a2a9c" stroke-width="0.6"/>
<line x1="153.33" y1="498.2" x2="153.33" y2="497.78" stroke="#2a2a9c" stroke-width="0.6"/>
<line x1="155.4" y1="498.2" x2="155.4" y2="497.53" stroke="#2a2a9c" stroke-width="0.6"/>
<line x1="156.88" y1="498.2" x2="156.88" y2="497.13" stroke="#2a2a9c" stroke-width="0.6"/>
<line x1="157.84" y1="498.2" x2="157.84" y2="497.75" stroke="#2a2a9c" stroke-width="0.6"/>
<line x1="159.32" y1="498.2" x2="159.32" y2="497.8" stroke="#2a2a9c" stroke-width="0.6"/>
<line x1="160.25" y1="498.2" x2="160.25" y2="497.14" stroke="#2a2a9c" stroke-width="0.6"/>
<line x1="161.41" y1="498.2" x2="161.41" y2="496.05" stroke="#2a2a9c" stroke-width="0.6"/>
<line x1="162.56" y1="498.2" x2="162.56" y2="497.69" stroke="#2a2a9c" stroke-width="0.6"/>
<line x1="163.83" y1="498.2" x2="163.83" y2="495.99" stroke="#2a2a9c" stroke-width="0.6"/>
<line x1="165.51" y1="498.2" x2="165.51" y2="497.53" stroke="#2a2a9c" stroke-width="0.6"/>
<line x1="167.46" y1="498.2" x2="167.46" y2="497.8" stroke="#2a2a9c" stroke-width="0.6"/>
<line x1="168.44" y1="498.2" x2="168.44" y2="497.8" stroke="#2a2a9c" stroke-width="0.6"/>
<line x1="169.27" y1="498.2" x2="169.27" y2="496.49" stroke="#2a2a9c" stroke-width="0.6"/>
<line x1="171.11" y1="498.2" x2="171.11" y2="497.8" stroke="#2a2a9c" stroke-width="0.6"/>
<line x1="172.38" y1="498.2" x2="172.38" y2="496.94" stroke="#2a2a9c" stroke-width="0.6"/>
<line x1="174.01" y1="498.2" x2="174.01" y2="497.57" stroke="#2a2a9c" stroke-width="0.6"/>
<line x1="175.76" y1="498.2" x2="175.76" y2="496.74" stroke="#2a2a9c" stroke-width="0.6"/>
<line x1="176.94" y1="498.2" x2="176.94" y2="497.71" stroke="#2a2a9c" stroke-width="0.6"/>
<line x1="177.88" y1="498.2" x2="177.88" y2="497.35" stroke="#2a2a9c" stroke-width="0.6"/>
<line x1="178.76" y1="498.2" x2="178.76" y2="495.15" stroke="#2a2a9c" stroke-width="0.6"/>
<line x1="179.77" y1="498.2" x2="179.77" y2="493.91" stroke="#2a2a9c" stroke-width="0.6"/>
<line x1="181.54" y1="498.2" x2="181.54" y2="497.54" stroke="#2a2a9c" stroke-width="0.6"/>
<line x1="183.52" y1="498.2" x2="183.52" y2="495.34" stroke="#2a2a9c" stroke-width="0.6"/>
<line x1="184.88" y1="498.2" x2="184.88" y2="497.47" stroke="#2a2a9c" stroke-width="0.6"/>
<line x1="185.5" y1="498.2" x2="185.5" y2="495.98" stroke="#2a2a9c" stroke-width="0.6"/>
<line x1="187.59" y1="498.2" x2="187.59" y2="494.95" stroke="#2a2a9c" stroke-width="0.6"/>
<line x1="188.84" y1="498.2" x2="188.84" y2="497.61" stroke="#2a2a9c" stroke-width="0.6"/>
<line x1="189.81" y1="498.2" x2="189.81" y2="497.77" stroke="#2a2a9c" stroke-width="0.6"/>
<line x1="191.13" y1="498.2" x2="191.13" y2="496.69" stroke="#2a2a9c" stroke-width="0.6"/>
<line x1="191.88" y1="498.2" x2="191.88" y2="497.72" stroke="#2a2a9c" stroke-width="0.6"/>
<line x1="193.2" y1="498.2" x2="193.2" y2="497.68" stroke="#2a2a9c" stroke-width="0.6"/>
<line x1="195.11" y1="498.2" x2="195.11" y2="497.8" stroke="#2a2a9c" stroke-width="0.6"/>
<line x1="196.11" y1="498.2" x2="196.11" y2="495.12" stroke="#2a2a9c" stroke-width="0.6"/>
<line x1="197.51" y1="498.2" x2="197.51" y2="493.91" stroke="#2a2a9c" stroke-width="0.6"/>
<line x1="198.91" y1="498.2" x2="198.91" y2="497.34" stroke="#2a2a9c" stroke-width="0.6"/>
<line x1="200.78" y1="498.2" x2="200.78" y2="494.41" stroke="#2a2a9c" stroke-width="0.6"/>
<line x1="202.96" y1="498.2" x2="202.96" y2="496.14" stroke="#2a2a9c" stroke-width="0.6"/>
<line x1="204.51" y1="498.2" x2="204.51" y2="494.66" stroke="#2a2a9c" stroke-width="0.6"/>
<line x1="206.51" y1="498.2" x2="206.51" y2="496.45" stroke="#2a2a9c" stroke-width="0.6"/>
<line x1="207.88" y1="498.2" x2="207.88" y2="496.42" stroke="#2a2a9c" stroke-width="0.6"/>
<line x1="209.26" y1="498.2" x2="209.26" y2="497.41" stroke="#2a2a9c" stroke-width="0.6"/>
<line x1="211.2" y1="498.2" x2="211.2" y2="497.8" stroke="#2a2a9c" stroke-width="0.6"/>
<line x1="212.07" y1="498.2" x2="212.07" y2="497.55" stroke="#2a2a9c" stroke-width="0.6"/>
<line x1="214.07" y1="498.2" x2="214.07" y2="497.8" stroke="#2a2a9c" stroke-width="0.6"/>
<line x1="214.77" y1="498.2" x2="214.77" y2="496.68" stroke="#2a2a9c" stroke-width="0.6"/>
<line x1="216.75" y1="498.2" x2="216.75" y2="493.9" stroke="#2a2a9c" stroke-width="0.6"/>
<line x1="217.45" y1="498.2" x2="217.45" y2="497.45" stroke="#2a2a9c" stroke-width="0.6"/>
<line x1="218.42" y1="498.2" x2="218.42" y2="494.93" stroke="#2a2a9c" stroke-width="0.6"/>
<line x1="219.9" y1="498.2" x2="219.9" y2="494.99" stroke="#2a2a9c" stroke-width="0.6"/>
<line x1="220.77" y1="498.2" x2="220.77" y2="497.76" stroke="#2a2a9c" stroke-width="0.6"/>
<line x1="222.02" y1="498.2" x2="222.02" y2="496.14" stroke="#2a2a9c" stroke-width="0.6"/>
<line x1="223.61" y1="498.2" x2="223.61" y2="497.49" stroke="#2a2a9c" stroke-width="0.6"/>
<line x1="225.43" y1="498.2" x2="225.43" y2="496.55" stroke="#2a2a9c" stroke-width="0.6"/>
<line x1="226.7" y1="498.2" x2="226.7" y2="494.63" stroke="#2a2a9c" stroke-width="0.6"/>
<line x1="228.14" y1="498.2" x2="228.14" y2="497.52" stroke="#2a2a9c" stroke-width="0.6"/>
<line x1="229.82" y1="498.2" x2="229.82" y2="495.05" stroke="#2a2a9c" stroke-width="0.6"/>
<line x1="231.35" y1="498.2" x2="231.35" y2="494.75" stroke="#2a2a9c" stroke-width="0.6"/>
<line x1="233.48" y1="498.2" x2="233.48" y2="497.66" stroke="#2a2a9c" stroke-width="0.6"/>
<line x1="235.05" y1="498.2" x2="235.05" y2="496.29" stroke="#2a2a9c" stroke-width="0.6"/>
<line x1="236.97" y1="498.2" x2="236.97" y2="497.46" stroke="#2a2a9c" stroke-width="0.6"/>
<line x1="239.1" y1="498.2" x2="239.1" y2="497.78" stroke="#2a2a9c" stroke-width="0.6"/>
<line x1="239.93" y1="498.2" x2="239.93" y2="497.78" stroke="#2a2a9c" stroke-width="0.6"/>
<line x1="240.59" y1="498.2" x2="240.59" y2="497.8" stroke="#2a2a9c" stroke-width="0.6"/>
<line x1="241.85" y1="498.2" x2="241.85" y2="497.79" stroke="#2a2a9c" stroke-width="0.6"/>
<line x1="243.29" y1="498.2" x2="243.29" y2="497.53" stroke="#2a2a9c" stroke-width="0.6"/>
<line x1="244.18" y1="498.2" x2="244.18" y2="495.43" stroke="#2a2a9c" stroke-width="0.6"/>
<line x1="244.95" y1="498.2" x2="244.95" y2="497.79" stroke="#2a2a9c" stroke-width="0.6"/>
<line x1="247.1" y1="498.2" x2="247.1" y2="495.36" stroke="#2a2a9c" stroke-width="0.6"/>
<line x1="248.52" y1="498.2" x2="248.52" y2="497.72" stroke="#2a2a9c" stroke-width="0.6"/>
<line x1="250.32" y1="498.2" x2="250.32" y2="497.58" stroke="#2a2a9c" stroke-width="0.6"/>
<line x1="251.41" y1="498.2" x2="251.41" y2="497.8" stroke="#2a2a9c" stroke-width="0.6"/>
<line x1="253.54" y1="498.2" x2="253.54" y2="495.56" stroke="#2a2a9c" stroke-width="0.6"/>
<line x1="255.17" y1="498.2" x2="255.17" y2="497.76" stroke="#2a2a9c" stroke-width="0.6"/>
<line x1="257.23" y1="498.2" x2="257.23" y2="497.75" stroke="#2a2a9c" stroke-width="0.6"/>
<line x1="259.36" y1="498.2" x2="259.36" y2="497.25" stroke="#2a2a9c" stroke-width="0.6"/>
<line x1="260.52" y1="498.2" x2="260.52" y2="497.8" stroke="#2a2a9c" stroke-width="0.6"/>
<line x1="262.7" y1="498.2" x2="262.7" y2="497.8" stroke="#2a2a9c" stroke-width="0.6"/>
<line x1="264.0" y1="498.2" x2="264.0" y2="497.8" stroke="#2a2a9c" stroke-width="0.6"/>
<line x1="264.97" y1="498.2" x2="264.97" y2="497.4" stroke="#2a2a9c" stroke-width="0.6"/>
<line x1="265.67" y1="498.2" x2="265.67" y2="497.7" stroke="#2a2a9c" stroke-width="0.6"/>
<line x1="267.16" y1="498.2" x2="267.16" y2="497.69" stroke="#2a2a9c" stroke-width="0.6"/>
<line x1="267.93" y1="498.2" x2="267.93" y2="497.64" stroke="#2a2a9c" stroke-width="0.6"/>
<line x1="270.1" y1="498.2" x2="270.1" y2="496.37" stroke="#2a2a9c" stroke-width="0.6"/>
<line x1="271.75" y1="498.2" x2="271.75" y2="495.36" stroke="#2a2a9c" stroke-width="0.6"/>
<line x1="273.28" y1="498.2" x2="273.28" y2="495.79" stroke="#2a2a9c" stroke-width="0.6"/>
<line x1="274.15" y1="498.2" x2="274.15" y2="495.04" stroke="#2a2a9c" stroke-width="0.6"/>
<line x1="276.34" y1="498.2" x2="276.34" y2="495.84" stroke="#2a2a9c" stroke-width="0.6"/>
<line x1="277.4" y1="498.2" x2="277.4" y2="497.05" stroke="#2a2a9c" stroke-width="0.6"/>
<line x1="278.5" y1="498.2" x2="278.5" y2="494.48" stroke="#2a2a9c" stroke-width="0.6"/>
<line x1="279.61" y1="498.2" x2="279.61" y2="497.14" stroke="#2a2a9c" stroke-width="0.6"/>
<line x1="280.37" y1="498.2" x2="280.37" y2="497.79" stroke="#2a2a9c" stroke-width="0.6"/>
<line x1="282.22" y1="498.2" x2="282.22" y2="497.77" stroke="#2a2a9c" stroke-width="0.6"/>
<line x1="283.19" y1="498.2" x2="283.19" y2="497.77" stroke="#2a2a9c" stroke-width="0.6"/>
<line x1="284.27" y1="498.2" x2="284.27" y2="497.8" stroke="#2a2a9c" stroke-width="0.6"/>
<line x1="285.17" y1="498.2" x2="285.17" y2="496.95" stroke="#2a2a9c" stroke-width="0.6"/>
<line x1="286.09" y1="498.2" x2="286.09" y2="497.79" stroke="#2a2a9c" stroke-width="0.6"/>
<line x1="286.96" y1="498.2" x2="286.96" y2="496.72" stroke="#2a2a9c" stroke-width="0.6"/>
<line x1="288.4" y1="498.2" x2="288.4" y2="495.57" stroke="#2a2a9c" stroke-width="0.6"/>
<line x1="289.9" y1="498.2" x2="289.9" y2="497.19" stroke="#2a2a9c" stroke-width="0.6"/>
<line x1="291.44" y1="498.2" x2="291.44" y2="497.51" stroke="#2a2a9c" stroke-width="0.6"/>
<line x1="293.46" y1="498.2" x2="293.46" y2="497.64" stroke="#2a2a9c" stroke-width="0.6"/>
<line x1="295.17" y1="498.2" x2="295.17" y2="497.47" stroke="#2a2a9c" stroke-width="0.6"/>
<line x1="297.18" y1="498.2" x2="297.18" y2="495.78" stroke="#2a2a9c" stroke-width="0.6"/>
<line x1="298.08" y1="498.2" x2="298.08" y2="497.8" stroke="#2a2a9c" stroke-width="0.6"/>
<line x1="299.97" y1="498.2" x2="299.97" y2="497.3" stroke="#2a2a9c" stroke-width="0.6"/>
<line x1="301.72" y1="498.2" x2="301.72" y2="494.25" stroke="#2a2a9c" stroke-width="0.6"/>
<line x1="302.39" y1="498.2" x2="302.39" y2="496.39" stroke="#2a2a9c" stroke-width="0.6"/>
<line x1="303.22" y1="498.2" x2="303.22" y2="495.03" stroke="#2a2a9c" stroke-width="0.6"/>
<line x1="304.2" y1="498.2" x2="304.2" y2="497.21" stroke="#2a2a9c" stroke-width="0.6"/>
<line x1="304.94" y1="498.2" x2="304.94" y2="497.8" stroke="#2a2a9c" stroke-width="0.6"/>
<line x1="306.46" y1="498.2" x2="306.46" y2="496.62" stroke="#2a2a9c" stroke-width="0.6"/>
<line x1="308.19" y1="498.2" x2="308.19" y2="496.0" stroke="#2a2a9c" stroke-width="0.6"/>
<line x1="308.89" y1="498.2" x2="308.89" y2="496.66" stroke="#2a2a9c" stroke-width="0.6"/>
<line x1="309.97" y1="498.2" x2="309.97" y2="497.21" stroke="#2a2a9c" stroke-width="0.6"/>
<line x1="310.77" y1="498.2" x2="310.77" y2="497.74" stroke="#2a2a9c" stroke-width="0.6"/>
<line x1="311.72" y1="498.2" x2="311.72" y2="496.88" stroke="#2a2a9c" stroke-width="0.6"/>
<line x1="312.96" y1="498.2" x2="312.96" y2="496.35" stroke="#2a2a9c" stroke-width="0.6"/>
<line x1="314.51" y1="498.2" x2="314.51" y2="497.78" stroke="#2a2a9c" stroke-width="0.6"/>
<line x1="315.19" y1="498.2" x2="315.19" y2="494.75" stroke="#2a2a9c" stroke-width="0.6"/>
<line x1="316.64" y1="498.2" x2="316.64" y2="497.64" stroke="#2a2a9c" stroke-width="0.6"/>
<line x1="318.33" y1="498.2" x2="318.33" y2="494.66" stroke="#2a2a9c" stroke-width="0.6"/>
<line x1="320.33" y1="498.2" x2="320.33" y2="497.5" stroke="#2a2a9c" stroke-width="0.6"/>
<line x1="321.11" y1="498.2" x2="321.11" y2="497.74" stroke="#2a2a9c" stroke-width="0.6"/>
<line x1="322.62" y1="498.2" x2="322.62" y2="497.42" stroke="#2a2a9c" stroke-width="0.6"/>
<line x1="323.96" y1="498.2" x2="323.96" y2="497.58" stroke="#2a2a9c" stroke-width="0.6"/>
<line x1="324.99" y1="498.2" x2="324.99" y2="497.79" stroke="#2a2a9c" stroke-width="0.6"/>
<line x1="326.35" y1="498.2" x2="326.35" y2="497.79" stroke="#2a2a9c" stroke-width="0.6"/>
<line x1="328.49" y1="498.2" x2="328.49" y2="497.8" stroke="#2a2a9c" stroke-width="0.6"/>
<line x1="329.23" y1="498.2" x2="329.23" y2="496.54" stroke="#2a2a9c" stroke-width="0.6"/>
<line x1="330.29" y1="498.2" x2="330.29" y2="495.19" stroke="#2a2a9c" stroke-width="0.6"/>
<line x1="332.18" y1="498.2" x2="332.18" y2="497.52" stroke="#2a2a9c" stroke-width="0.6"/>
<line x1="333.87" y1="498.2" x2="333.87" y2="497.8" stroke="#2a2a9c" stroke-width="0.6"/>
<line x1="334.49" y1="498.2" x2="334.49" y2="497.72" stroke="#2a2a9c" stroke-width="0.6"/>
<line x1="336.19" y1="498.2" x2="336.19" y2="495.58" stroke="#2a2a9c" stroke-width="0.6"/>
<line x1="338.18" y1="498.2" x2="338.18" y2="497.58" stroke="#2a2a9c" stroke-width="0.6"/>
<line x1="339.39" y1="498.2" x2="339.39" y2="497.79" stroke="#2a2a9c" stroke-width="0.6"/>
<line x1="341.19" y1="498.2" x2="341.19" y2="497.4" stroke="#2a2a9c" stroke-width="0.6"/>
<line x1="343.25" y1="498.2" x2="343.25" y2="497.68" stroke="#2a2a9c" stroke-width="0.6"/>
<line x1="344.75" y1="498.2" x2="344.75" y2="493.94" stroke="#2a2a9c" stroke-width="0.6"/>
<line x1="345.87" y1="498.2" x2="345.87" y2="497.31" stroke="#2a2a9c" stroke-width="0.6"/>
<line x1="346.88" y1="498.2" x2="346.88" y2="497.58" stroke="#2a2a9c" stroke-width="0.6"/>
<line x1="348.76" y1="498.2" x2="348.76" y2="497.77" stroke="#2a2a9c" stroke-width="0.6"/>
<line x1="349.36" y1="498.2" x2="349.36" y2="496.46" stroke="#2a2a9c" stroke-width="0.6"/>
<line x1="350.68" y1="498.2" x2="350.68" y2="497.22" stroke="#2a2a9c" stroke-width="0.6"/>
<line x1="352.85" y1="498.2" x2="352.85" y2="497.56" stroke="#2a2a9c" stroke-width="0.6"/>
<line x1="354.35" y1="498.2" x2="354.35" y2="497.41" stroke="#2a2a9c" stroke-width="0.6"/>
<line x1="356.42" y1="498.2" x2="356.42" y2="497.77" stroke="#2a2a9c" stroke-width="0.6"/>
<line x1="357.3" y1="498.2" x2="357.3" y2="497.5" stroke="#2a2a9c" stroke-width="0.6"/>
<line x1="358.41" y1="498.2" x2="358.41" y2="496.8" stroke="#2a2a9c" stroke-width="0.6"/>
<line x1="359.79" y1="498.2" x2="359.79" y2="497.08" stroke="#2a2a9c" stroke-width="0.6"/>
<line x1="360.92" y1="498.2" x2="360.92" y2="497.78" stroke="#2a2a9c" stroke-width="0.6"/>
<line x1="362.76" y1="498.2" x2="362.76" y2="497.79" stroke="#2a2a9c" stroke-width="0.6"/>
<line x1="363.71" y1="498.2" x2="363.71" y2="497.5" stroke="#2a2a9c" stroke-width="0.6"/>
<line x1="364.97" y1="498.2" x2="364.97" y2="496.8" stroke="#2a2a9c" stroke-width="0.6"/>
<line x1="366.54" y1="498.2" x2="366.54" y2="497.8" stroke="#2a2a9c" stroke-width="0.6"/>
<line x1="367.88" y1="498.2" x2="367.88" y2="497.59" stroke="#2a2a9c" stroke-width="0.6"/>
<line x1="368.76" y1="498.2" x2="368.76" y2="497.79" stroke="#2a2a9c" stroke-width="0.6"/>
<line x1="369.52" y1="498.2" x2="369.52" y2="496.9" stroke="#2a2a9c" stroke-width="0.6"/>
<line x1="370.55" y1="498.2" x2="370.55" y2="497.42" stroke="#2a2a9c" stroke-width="0.6"/>
<line x1="371.23" y1="498.2" x2="371.23" y2="497.77" stroke="#2a2a9c" stroke-width="0.6"/>
<line x1="372.89" y1="498.2" x2="372.89" y2="493.94" stroke="#2a2a9c" stroke-width="0.6"/>
<line x1="373.82" y1="498.2" x2="373.82" y2="497.8" stroke="#2a2a9c" stroke-width="0.6"/>
<line x1="374.97" y1="498.2" x2="374.97" y2="497.79" stroke="#2a2a9c" stroke-width="0.6"/>
<line x1="375.7" y1="498.2" x2="375.7" y2="497.74" stroke="#2a2a9c" stroke-width="0.6"/>
<line x1="377.31" y1="498.2" x2="377.31" y2="496.83" stroke="#2a2a9c" stroke-width="0.6"/>
<line x1="378.9" y1="498.2" x2="378.9" y2="497.57" stroke="#2a2a9c" stroke-width="0.6"/>
<line x1="380.71" y1="498.2" x2="380.71" y2="496.01" stroke="#2a2a9c" stroke-width="0.6"/>
<line x1="382.16" y1="498.2" x2="382.16" y2="495.11" stroke="#2a2a9c" stroke-width="0.6"/>
<line x1="384.12" y1="498.2" x2="384.12" y2="494.57" stroke="#2a2a9c" stroke-width="0.6"/>
<line x1="384.85" y1="498.2" x2="384.85" y2="497.46" stroke="#2a2a9c" stroke-width="0.6"/>
<line x1="386.51" y1="498.2" x2="386.51" y2="497.72" stroke="#2a2a9c" stroke-width="0.6"/>
<line x1="388.0" y1="498.2" x2="388.0" y2="497.46" stroke="#2a2a9c" stroke-width="0.6"/>
<line x1="389.91" y1="498.2" x2="389.91" y2="495.88" stroke="#2a2a9c" stroke-width="0.6"/>
<line x1="390.7" y1="498.2" x2="390.7" y2="496.35" stroke="#2a2a9c" stroke-width="0.6"/>
<line x1="391.54" y1="498.2" x2="391.54" y2="497.43" stroke="#2a2a9c" stroke-width="0.6"/>
<line x1="393.55" y1="498.2" x2="393.55" y2="494.01" stroke="#2a2a9c" stroke-width="0.6"/>
<line x1="394.88" y1="498.2" x2="394.88" y2="497.8" stroke="#2a2a9c" stroke-width="0.6"/>
<line x1="396.02" y1="498.2" x2="396.02" y2="496.13" stroke="#2a2a9c" stroke-width="0.6"/>
<line x1="396.95" y1="498.2" x2="396.95" y2="497.72" stroke="#2a2a9c" stroke-width="0.6"/>
<line x1="397.91" y1="498.2" x2="397.91" y2="497.69" stroke="#2a2a9c" stroke-width="0.6"/>
<line x1="398.78" y1="498.2" x2="398.78" y2="497.8" stroke="#2a2a9c" stroke-width="0.6"/>
<line x1="399.58" y1="498.2" x2="399.58" y2="495.56" stroke="#2a2a9c" stroke-width="0.6"/>
<line x1="400.88" y1="498.2" x2="400.88" y2="497.16" stroke="#2a2a9c" stroke-width="0.6"/>
<line x1="401.93" y1="498.2" x2="401.93" y2="496.6" stroke="#2a2a9c" stroke-width="0.6"/>
<line x1="402.78" y1="498.2" x2="402.78" y2="497.7" stroke="#2a2a9c" stroke-width="0.6"/>
<line x1="403.66" y1="498.2" x2="403.66" y2="497.8" stroke="#2a2a9c" stroke-width="0.6"/>
<line x1="405.63" y1="498.2" x2="405.63" y2="495.33" stroke="#2a2a9c" stroke-width="0.6"/>
<line x1="406.7" y1="498.2" x2="406.7" y2="496.38" stroke="#2a2a9c" stroke-width="0.6"/>
<line x1="407.66" y1="498.2" x2="407.66" y2="497.72" stroke="#2a2a9c" stroke-width="0.6"/>
<line x1="408.59" y1="498.2" x2="408.59" y2="497.74" stroke="#2a2a9c" stroke-width="0.6"/>
<line x1="409.86" y1="498.2" x2="409.86" y2="497.17" stroke="#2a2a9c" stroke-width="0.6"/>
<line x1="411.81" y1="498.2" x2="411.81" y2="496.58" stroke="#2a2a9c" stroke-width="0.6"/>
<line x1="412.52" y1="498.2" x2="412.52" y2="495.47" stroke="#2a2a9c" stroke-width="0.6"/>
<line x1="414.1" y1="498.2" x2="414.1" y2="497.62" stroke="#2a2a9c" stroke-width="0.6"/>
<line x1="415.45" y1="498.2" x2="415.45" y2="497.53" stroke="#2a2a9c" stroke-width="0.6"/>
<line x1="417.37" y1="498.2" x2="417.37" y2="497.53" stroke="#2a2a9c" stroke-width="0.6"/>
<line x1="418.25" y1="498.2" x2="418.25" y2="497.51" stroke="#2a2a9c" stroke-width="0.6"/>
<line x1="419.73" y1="498.2" x2="419.73" y2="497.77" stroke="#2a2a9c" stroke-width="0.6"/>
<line x1="421.5" y1="498.2" x2="421.5" y2="493.97" stroke="#2a2a9c" stroke-width="0.6"/>
<line x1="423.24" y1="498.2" x2="423.24" y2="497.18" stroke="#2a2a9c" stroke-width="0.6"/>
<line x1="424.78" y1="498.2" x2="424.78" y2="496.97" stroke="#2a2a9c" stroke-width="0.6"/>
<line x1="426.31" y1="498.2" x2="426.31" y2="496.85" stroke="#2a2a9c" stroke-width="0.6"/>
<line x1="427.35" y1="498.2" x2="427.35" y2="497.43" stroke="#2a2a9c" stroke-width="0.6"/>
<line x1="428.35" y1="498.2" x2="428.35" y2="496.8" stroke="#2a2a9c" stroke-width="0.6"/>
<line x1="430.5" y1="498.2" x2="430.5" y2="497.05" stroke="#2a2a9c" stroke-width="0.6"/>
<line x1="431.42" y1="498.2" x2="431.42" y2="496.29" stroke="#2a2a9c" stroke-width="0.6"/>
<line x1="433.02" y1="498.2" x2="433.02" y2="497.8" stroke="#2a2a9c" stroke-width="0.6"/>
<line x1="434.76" y1="498.2" x2="434.76" y2="497.78" stroke="#2a2a9c" stroke-width="0.6"/>
<line x1="435.89" y1="498.2" x2="435.89" y2="497.78" stroke="#2a2a9c" stroke-width="0.6"/>
<line x1="437.47" y1="498.2" x2="437.47" y2="494.45" stroke="#2a2a9c" stroke-width="0.6"/>
<line x1="438.16" y1="498.2" x2="438.16" y2="497.8" stroke="#2a2a9c" stroke-width="0.6"/>
<line x1="438.78" y1="498.2" x2="438.78" y2="497.79" stroke="#2a2a9c" stroke-width="0.6"/>
<line x1="440.88" y1="498.2" x2="440.88" y2="497.75" stroke="#2a2a9c" stroke-width="0.6"/>
<line x1="441.66" y1="498.2" x2="441.66" y2="497.23" stroke="#2a2a9c" stroke-width="0.6"/>
<line x1="442.3" y1="498.2" x2="442.3" y2="495.27" stroke="#2a2a9c" stroke-width="0.6"/>
<line x1="444.24" y1="498.2" x2="444.24" y2="497.29" stroke="#2a2a9c" stroke-width="0.6"/>
<line x1="445.01" y1="498.2" x2="445.01" y2="495.97" stroke="#2a2a9c" stroke-width="0.6"/>
<line x1="446.68" y1="498.2" x2="446.68" y2="496.42" stroke="#2a2a9c" stroke-width="0.6"/>
<line x1="447.5" y1="498.2" x2="447.5" y2="497.6" stroke="#2a2a9c" stroke-width="0.6"/>
<line x1="449.04" y1="498.2" x2="449.04" y2="495.29" stroke="#2a2a9c" stroke-width="0.6"/>
<line x1="451.2" y1="498.2" x2="451.2" y2="496.2" stroke="#2a2a9c" stroke-width="0.6"/>
<line x1="452.97" y1="498.2" x2="452.97" y2="495.46" stroke="#2a2a9c" stroke-width="0.6"/>
<line x1="454.58" y1="498.2" x2="454.58" y2="497.48" stroke="#2a2a9c" stroke-width="0.6"/>
<line x1="456.1" y1="498.2" x2="456.1" y2="494.3" stroke="#2a2a9c" stroke-width="0.6"/>
<line x1="457.08" y1="498.2" x2="457.08" y2="496.39" stroke="#2a2a9c" stroke-width="0.6"/>
<line x1="458.93" y1="498.2" x2="458.93" y2="497.65" stroke="#2a2a9c" stroke-width="0.6"/>
<line x1="459.91" y1="498.2" x2="459.91" y2="496.48" stroke="#2a2a9c" stroke-width="0.6"/>
<line x1="461.64" y1="498.2" x2="461.64" y2="497.8" stroke="#2a2a9c" stroke-width="0.6"/>
<line x1="462.26" y1="498.2" x2="462.26" y2="495.37" stroke="#2a2a9c" stroke-width="0.6"/>
<line x1="463.6" y1="498.2" x2="463.6" y2="495.73" stroke="#2a2a9c" stroke-width="0.6"/>
<line x1="464.54" y1="498.2" x2="464.54" y2="497.75" stroke="#2a2a9c" stroke-width="0.6"/>
<line x1="465.76" y1="498.2" x2="465.76" y2="497.46" stroke="#2a2a9c" stroke-width="0.6"/>
<line x1="467.95" y1="498.2" x2="467.95" y2="494.36" stroke="#2a2a9c" stroke-width="0.6"/>
<line x1="469.03" y1="498.2" x2="469.03" y2="494.73" stroke="#2a2a9c" stroke-width="0.6"/>
<line x1="470.15" y1="498.2" x2="470.15" y2="496.52" stroke="#2a2a9c" stroke-width="0.6"/>
<line x1="471.51" y1="498.2" x2="471.51" y2="497.68" stroke="#2a2a9c" stroke-width="0.6"/>
<line x1="473.6" y1="498.2" x2="473.6" y2="496.02" stroke="#2a2a9c" stroke-width="0.6"/>
<line x1="474.9" y1="498.2" x2="474.9" y2="494.42" stroke="#2a2a9c" stroke-width="0.6"/>
<line x1="476.98" y1="498.2" x2="476.98" y2="497.77" stroke="#2a2a9c" stroke-width="0.6"/>
<line x1="478.14" y1="498.2" x2="478.14" y2="497.8" stroke="#2a2a9c" stroke-width="0.6"/>
<line x1="478.97" y1="498.2" x2="478.97" y2="494.39" stroke="#2a2a9c" stroke-width="0.6"/>
<line x1="479.6" y1="498.2" x2="479.6" y2="497.11" stroke="#2a2a9c" stroke-width="0.6"/>
<line x1="481.61" y1="498.2" x2="481.61" y2="497.75" stroke="#2a2a9c" stroke-width="0.6"/>
<line x1="483.72" y1="498.2" x2="483.72" y2="497.25" stroke="#2a2a9c" stroke-width="0.6"/>
<line x1="485.71" y1="498.2" x2="485.71" y2="497.51" stroke="#2a2a9c" stroke-width="0.6"/>
<line x1="487.73" y1="498.2" x2="487.73" y2="493.85" stroke="#2a2a9c" stroke-width="0.6"/>
<line x1="488.73" y1="498.2" x2="488.73" y2="495.98" stroke="#2a2a9c" stroke-width="0.6"/>
<line x1="489.78" y1="498.2" x2="489.78" y2="497.25" stroke="#2a2a9c" stroke-width="0.6"/>
<line x1="490.38" y1="498.2" x2="490.38" y2="497.69" stroke="#2a2a9c" stroke-width="0.6"/>
<line x1="492.43" y1="498.2" x2="492.43" y2="497.77" stroke="#2a2a9c" stroke-width="0.6"/>
<line x1="493.96" y1="498.2" x2="493.96" y2="496.02" stroke="#2a2a9c" stroke-width="0.6"/>
<line x1="494.62" y1="498.2" x2="494.62" y2="497.08" stroke="#2a2a9c" stroke-width="0.6"/>
<line x1="495.38" y1="498.2" x2="495.38" y2="496.16" stroke="#2a2a9c" stroke-width="0.6"/>
<line x1="497.19" y1="498.2" x2="497.19" y2="494.8" stroke="#2a2a9c" stroke-width="0.6"/>
<line x1="498.58" y1="498.2" x2="498.58" y2="497.19" stroke="#2a2a9c" stroke-width="0.6"/>
<line x1="499.21" y1="498.2" x2="499.21" y2="497.67" stroke="#2a2a9c" stroke-width="0.6"/>
<line x1="500.56" y1="498.2" x2="500.56" y2="494.34" stroke="#2a2a9c" stroke-width="0.6"/>
<line x1="501.32" y1="498.2" x2="501.32" y2="497.39" stroke="#2a2a9c" stroke-width="0.6"/>
<line x1="502.42" y1="498.2" x2="502.42" y2="497.75" stroke="#2a2a9c" stroke-width="0.6"/>
<line x1="503.29" y1="498.2" x2="503.29" y2="497.67" stroke="#2a2a9c" stroke-width="0.6"/>
<line x1="505.33" y1="498.2" x2="505.33" y2="494.17" stroke="#2a2a9c" stroke-width="0.6"/>
<line x1="507.07" y1="498.2" x2="507.07" y2="495.2" stroke="#2a2a9c" stroke-width="0.6"/>
<line x1="509.04" y1="498.2" x2="509.04" y2="497.72" stroke="#2a2a9c" stroke-width="0.6"/>
<line x1="509.66" y1="498.2" x2="509.66" y2="497.8" stroke="#2a2a9c" stroke-width="0.6"/>
<line x1="510.5" y1="498.2" x2="510.5" y2="497.64" stroke="#2a2a9c" stroke-width="0.6"/>
<line x1="512.04" y1="498.2" x2="512.04" y2="497.8" stroke="#2a2a9c" stroke-width="0.6"/>
<line x1="512.79" y1="498.2" x2="512.79" y2="497.28" stroke="#2a2a9c" stroke-width="0.6"/>
<line x1="513.41" y1="498.2" x2="513.41" y2="497.64" stroke="#2a2a9c" stroke-width="0.6"/>
<line x1="515.6" y1="498.2" x2="515.6" y2="494.31" stroke="#2a2a9c" stroke-width="0.6"/>
<line x1="516.21" y1="498.2" x2="516.21" y2="497.72" stroke="#2a2a9c" stroke-width="0.6"/>
<line x1="517.77" y1="498.2" x2="517.77" y2="495.36" stroke="#2a2a9c" stroke-width="0.6"/>
<line x1="519.36" y1="498.2" x2="519.36" y2="496.63" stroke="#2a2a9c" stroke-width="0.6"/>
<line x1="520.95" y1="498.2" x2="520.95" y2="496.28" stroke="#2a2a9c" stroke-width="0.6"/>
<line x1="522.62" y1="498.2" x2="522.62" y2="496.85" stroke="#2a2a9c" stroke-width="0.6"/>
<line x1="524.14" y1="498.2" x2="524.14" y2="496.02" stroke="#2a2a9c" stroke-width="0.6"/>
<line x1="526.31" y1="498.2" x2="526.31" y2="497.27" stroke="#2a2a9c" stroke-width="0.6"/>
<line x1="527.77" y1="498.2" x2="527.77" y2="497.8" stroke="#2a2a9c" stroke-width="0.6"/>
<line x1="528.73" y1="498.2" x2="528.73" y2="494.07" stroke="#2a2a9c" stroke-width="0.6"/>
<line x1="530.79" y1="498.2" x2="530.79" y2="497.02" stroke="#2a2a9c" stroke-width="0.6"/>
<line x1="531.57" y1="498.2" x2="531.57" y2="497.57" stroke="#2a2a9c" stroke-width="0.6"/>
<line x1="533.0" y1="498.2" x2="533.0" y2="497.8" stroke="#2a2a9c" stroke-width="0.6"/>
<line x1="534.36" y1="498.2" x2="534.36" y2="497.77" stroke="#2a2a9c" stroke-width="0.6"/>
<line x1="534.98" y1="498.2" x2="534.98" y2="496.41" stroke="#2a2a9c" stroke-width="0.6"/>
<line x1="535.98" y1="498.2" x2="535.98" y2="495.07" stroke="#2a2a9c" stroke-width="0.6"/>
<line x1="536.87" y1="498.2" x2="536.87" y2="497.19" stroke="#2a2a9c" stroke-width="0.6"/>
<line x1="538.69" y1="498.2" x2="538.69" y2="497.79" stroke="#2a2a9c" stroke-width="0.6"/>
<line x1="539.37" y1="498.2" x2="539.37" y2="497.69" stroke="#2a2a9c" stroke-width="0.6"/>
<line x1="540.91" y1="498.2" x2="540.91" y2="495.88" stroke="#2a2a9c" stroke-width="0.6"/>
<line x1="542.21" y1="498.2" x2="542.21" y2="497.77" stroke="#2a2a9c" stroke-width="0.6"/>
<line x1="543.67" y1="498.2" x2="543.67" y2="497.63" stroke="#2a2a9c" stroke-width="0.6"/>
<line x1="544.28" y1="498.2" x2="544.28" y2="497.74" stroke="#2a2a9c" stroke-width="0.6"/>
<line x1="546.2" y1="498.2" x2="546.2" y2="497.79" stroke="#2a2a9c" stroke-width="0.6"/>
<line x1="547.03" y1="498.2" x2="547.03" y2="495.63" stroke="#2a2a9c" stroke-width="0.6"/>
<line x1="547.85" y1="498.2" x2="547.85" y2="496.9" stroke="#2a2a9c" stroke-width="0.6"/>
<line x1="549.08" y1="498.2" x2="549.08" y2="495.94" stroke="#2a2a9c" stroke-width="0.6"/>
<line x1="550.81" y1="498.2" x2="550.81" y2="497.75" stroke="#2a2a9c" stroke-width="0.6"/>
<line x1="552.49" y1="498.2" x2="552.49" y2="497.8" stroke="#2a2a9c" stroke-width="0.6"/>
<line x1="554.53" y1="498.2" x2="554.53" y2="497.79" stroke="#2a2a9c" stroke-width="0.6"/>
<line x1="556.67" y1="498.2" x2="556.67" y2="497.64" stroke="#2a2a9c" stroke-width="0.6"/>
<line x1="557.3" y1="498.2" x2="557.3" y2="495.61" stroke="#2a2a9c" stroke-width="0.6"/>
<line x1="558.3" y1="498.2" x2="558.3" y2="497.21" stroke="#2a2a9c" stroke-width="0.6"/>
<line x1="559.0" y1="498.2" x2="559.0" y2="494.87" stroke="#2a2a9c" stroke-width="0.6"/>
<line x1="560.06" y1="498.2" x2="560.06" y2="494.79" stroke="#2a2a9c" stroke-width="0.6"/>
<line x1="560.88" y1="498.2" x2="560.88" y2="497.47" stroke="#2a2a9c" stroke-width="0.6"/>
<line x1="561.49" y1="498.2" x2="561.49" y2="497.73" stroke="#2a2a9c" stroke-width="0.6"/>
<line x1="562.59" y1="498.2" x2="562.59" y2="495.1" stroke="#2a2a9c" stroke-width="0.6"/>
<line x1="563.92" y1="498.2" x2="563.92" y2="497.41" stroke="#2a2a9c" stroke-width="0.6"/>
<line x1="564.98" y1="498.2" x2="564.98" y2="496.71" stroke="#2a2a9c" stroke-width="0.6"/>
<line x1="566.64" y1="498.2" x2="566.64" y2="497.74" stroke="#2a2a9c" stroke-width="0.6"/>
<line x1="568.27" y1="498.2" x2="568.27" y2="494.48" stroke="#2a2a9c" stroke-width="0.6"/>
<line x1="569.58" y1="498.2" x2="569.58" y2="497.78" stroke="#2a2a9c" stroke-width="0.6"/>
<line x1="570.46" y1="498.2" x2="570.46" y2="497.73" stroke="#2a2a9c" stroke-width="0.6"/>
<line x1="572.38" y1="498.2" x2="572.38" y2="494.66" stroke="#2a2a9c" stroke-width="0.6"/>
<line x1="573.31" y1="498.2" x2="573.31" y2="497.76" stroke="#2a2a9c" stroke-width="0.6"/>
<line x1="575.33" y1="498.2" x2="575.33" y2="495.49" stroke="#2a2a9c" stroke-width="0.6"/>
<line x1="577.22" y1="498.2" x2="577.22" y2="495.32" stroke="#2a2a9c" stroke-width="0.6"/>
<line x1="578.17" y1="498.2" x2="578.17" y2="497.8" stroke="#2a2a9c" stroke-width="0.6"/>
<line x1="579.39" y1="498.2" x2="579.39" y2="497.59" stroke="#2a2a9c" stroke-width="0.6"/>
<line x1="580.38" y1="498.2" x2="580.38" y2="495.85" stroke="#2a2a9c" stroke-width="0.6"/>
<line x1="581.23" y1="498.2" x2="581.23" y2="496.63" stroke="#2a2a9c" stroke-width="0.6"/>
<line x1="582.48" y1="498.2" x2="582.48" y2="495.91" stroke="#2a2a9c" stroke-width="0.6"/>
<line x1="584.27" y1="498.2" x2="584.27" y2="497.8" stroke="#2a2a9c" stroke-width="0.6"/>
<line x1="586.14" y1="498.2" x2="586.14" y2="497.06" stroke="#2a2a9c" stroke-width="0.6"/>
<line x1="587.58" y1="498.2" x2="587.58" y2="497.41" stroke="#2a2a9c" stroke-width="0.6"/>
<line x1="589.35" y1="498.2" x2="589.35" y2="497.8" stroke="#2a2a9c" stroke-width="0.6"/>
<line x1="591.02" y1="498.2" x2="591.02" y2="497.67" stroke="#2a2a9c" stroke-width="0.6"/>
<line x1="591.64" y1="498.2" x2="591.64" y2="497.25" stroke="#2a2a9c" stroke-width="0.6"/>
<line x1="592.59" y1="498.2" x2="592.59" y2="495.79" stroke="#2a2a9c" stroke-width="0.6"/>
<line x1="594.33" y1="498.2" x2="594.33" y2="497.77" stroke="#2a2a9c" stroke-width="0.6"/>
<line x1="595.35" y1="498.2" x2="595.35" y2="497.8" stroke="#2a2a9c" stroke-width="0.6"/>
<line x1="597.03" y1="498.2" x2="597.03" y2="494.65" stroke="#2a2a9c" stroke-width="0.6"/>
<line x1="597.86" y1="498.2" x2="597.86" y2="495.99" stroke="#2a2a9c" stroke-width="0.6"/>
<line x1="599.02" y1="498.2" x2="599.02" y2="496.9" stroke="#2a2a9c" stroke-width="0.6"/>
<line x1="600.15" y1="498.2" x2="600.15" y2="496.72" stroke="#2a2a9c" stroke-width="0.6"/>
<line x1="601.08" y1="498.2" x2="601.08" y2="497.8" stroke="#2a2a9c" stroke-width="0.6"/>
<line x1="602.97" y1="498.2" x2="602.97" y2="497.8" stroke="#2a2a9c" stroke-width="0.6"/>
<line x1="603.9" y1="498.2" x2="603.9" y2="497.77" stroke="#2a2a9c" stroke-width="0.6"/>
<line x1="606.02" y1="498.2" x2="606.02" y2="497.75" stroke="#2a2a9c" stroke-width="0.6"/>
<line x1="607.41" y1="498.2" x2="607.41" y2="497.78" stroke="#2a2a9c" stroke-width="0.6"/>
<line x1="608.03" y1="498.2" x2="608.03" y2="497.73" stroke="#2a2a9c" stroke-width="0.6"/>
<line x1="609.62" y1="498.2" x2="609.62" y2="497.22" stroke="#2a2a9c" stroke-width="0.6"/>
<line x1="611.24" y1="498.2" x2="611.24" y2="497.8" stroke="#2a2a9c" stroke-width="0.6"/>
<line x1="613.13" y1="498.2" x2="613.13" y2="494.16" stroke="#2a2a9c" stroke-width="0.6"/>
<line x1="613.93" y1="498.2" x2="613.93" y2="494.15" stroke="#2a2a9c" stroke-width="0.6"/>
<line x1="614.85" y1="498.2" x2="614.85" y2="497.8" stroke="#2a2a9c" stroke-width="0.6"/>
<line x1="616.76" y1="498.2" x2="616.76" y2="497.36" stroke="#2a2a9c" stroke-width="0.6"/>
<line x1="618.33" y1="498.2" x2="618.33" y2="497.73" stroke="#2a2a9c" stroke-width="0.6"/>
<line x1="619.7" y1="498.2" x2="619.7" y2="497.8" stroke="#2a2a9c" stroke-width="0.6"/>
<line x1="621.33" y1="498.2" x2="621.33" y2="494.21" stroke="#2a2a9c" stroke-width="0.6"/>
<line x1="622.07" y1="498.2" x2="622.07" y2="495.35" stroke="#2a2a9c" stroke-width="0.6"/>
<line x1="623.7" y1="498.2" x2="623.7" y2="493.95" stroke="#2a2a9c" stroke-width="0.6"/>
<line x1="624.93" y1="498.2" x2="624.93" y2="496.77" stroke="#2a2a9c" stroke-width="0.6"/>
<line x1="625.77" y1="498.2" x2="625.77" y2="497.67" stroke="#2a2a9c" stroke-width="0.6"/>
<line x1="626.86" y1="498.2" x2="626.86" y2="497.55" stroke="#2a2a9c" stroke-width="0.6"/>
<line x1="628.56" y1="498.2" x2="628.56" y2="497.65" stroke="#2a2a9c" stroke-width="0.6"/>
<line x1="630.34" y1="498.2" x2="630.34" y2="497.47" stroke="#2a2a9c" stroke-width="0.6"/>
<rect x="142" y="496.0" width="490.5" height="2.6" fill="#2a2a9c"/>
<line x1="144.9" y1="498.2" x2="144.9" y2="489.4" stroke="#2a2a9c" stroke-width="0.8"/>
<line x1="189.4" y1="498.2" x2="189.4" y2="486.5" stroke="#2a2a9c" stroke-width="0.8"/>
<line x1="192.5" y1="498.2" x2="192.5" y2="479.2" stroke="#2a2a9c" stroke-width="0.8"/>
<line x1="200.5" y1="498.2" x2="200.5" y2="473.9" stroke="#2a2a9c" stroke-width="0.8"/>
<line x1="201.7" y1="498.2" x2="201.7" y2="491" stroke="#2a2a9c" stroke-width="0.8"/>
<line x1="209.9" y1="498.2" x2="209.9" y2="488.7" stroke="#2a2a9c" stroke-width="0.8"/>
<line x1="212.2" y1="498.2" x2="212.2" y2="491" stroke="#2a2a9c" stroke-width="0.8"/>
<line x1="238.3" y1="498.2" x2="238.3" y2="493.9" stroke="#2a2a9c" stroke-width="0.8"/>
<line x1="243.8" y1="498.2" x2="243.8" y2="437.7" stroke="#2a2a9c" stroke-width="0.8"/>
<line x1="244.3" y1="498.2" x2="244.3" y2="485.7" stroke="#2a2a9c" stroke-width="0.8"/>
<line x1="250.4" y1="498.2" x2="250.4" y2="481.7" stroke="#2a2a9c" stroke-width="0.8"/>
<line x1="253.9" y1="498.2" x2="253.9" y2="486.6" stroke="#2a2a9c" stroke-width="0.8"/>
<line x1="256.2" y1="498.2" x2="256.2" y2="450.1" stroke="#2a2a9c" stroke-width="0.8"/>
<line x1="257.4" y1="498.2" x2="257.4" y2="480" stroke="#2a2a9c" stroke-width="0.8"/>
<line x1="259.5" y1="498.2" x2="259.5" y2="490.4" stroke="#2a2a9c" stroke-width="0.8"/>
<line x1="263" y1="498.2" x2="263" y2="467" stroke="#2a2a9c" stroke-width="0.8"/>
<line x1="270.1" y1="498.2" x2="270.1" y2="484.7" stroke="#2a2a9c" stroke-width="0.8"/>
<line x1="271.3" y1="498.2" x2="271.3" y2="490" stroke="#2a2a9c" stroke-width="0.8"/>
<line x1="276" y1="498.2" x2="276" y2="494" stroke="#2a2a9c" stroke-width="0.8"/>
<line x1="336.3" y1="498.2" x2="336.3" y2="494" stroke="#2a2a9c" stroke-width="0.8"/>
<line x1="379.3" y1="498.2" x2="379.3" y2="490" stroke="#2a2a9c" stroke-width="0.8"/>
<line x1="410.7" y1="498.2" x2="410.7" y2="476.4" stroke="#2a2a9c" stroke-width="0.8"/>
<line x1="411.2" y1="498.2" x2="411.2" y2="489" stroke="#2a2a9c" stroke-width="0.8"/>
<line x1="422.9" y1="498.2" x2="422.9" y2="485" stroke="#2a2a9c" stroke-width="0.8"/>
<line x1="423.4" y1="498.2" x2="423.4" y2="490" stroke="#2a2a9c" stroke-width="0.8"/>
<line x1="473.5" y1="498.2" x2="473.5" y2="494.8" stroke="#2a2a9c" stroke-width="0.8"/>
<line x1="160" y1="498.2" x2="160" y2="494" stroke="#2a2a9c" stroke-width="0.8"/>
<line x1="168" y1="498.2" x2="168" y2="494.5" stroke="#2a2a9c" stroke-width="0.8"/>
<line x1="176" y1="498.2" x2="176" y2="493.5" stroke="#2a2a9c" stroke-width="0.8"/>
<line x1="183" y1="498.2" x2="183" y2="492" stroke="#2a2a9c" stroke-width="0.8"/>
<line x1="186" y1="498.2" x2="186" y2="493" stroke="#2a2a9c" stroke-width="0.8"/>
<line x1="196" y1="498.2" x2="196" y2="494" stroke="#2a2a9c" stroke-width="0.8"/>
<line x1="219" y1="498.2" x2="219" y2="494" stroke="#2a2a9c" stroke-width="0.8"/>
<line x1="226" y1="498.2" x2="226" y2="494.5" stroke="#2a2a9c" stroke-width="0.8"/>
<line x1="232" y1="498.2" x2="232" y2="494" stroke="#2a2a9c" stroke-width="0.8"/>
<line x1="266" y1="498.2" x2="266" y2="493" stroke="#2a2a9c" stroke-width="0.8"/>
<line x1="283" y1="498.2" x2="283" y2="494.5" stroke="#2a2a9c" stroke-width="0.8"/>
<line x1="290" y1="498.2" x2="290" y2="495" stroke="#2a2a9c" stroke-width="0.8"/>
<text x="144.6" y="488.7" font-size="4.9" fill="#111" text-anchor="middle" textLength="16.4" lengthAdjust="spacingAndGlyphs">205.0849</text>
<text x="165.7" y="492.6" font-size="4.9" fill="#111" text-anchor="middle" textLength="16.4" lengthAdjust="spacingAndGlyphs">242.1325</text>
<text x="180.4" y="485.4" font-size="4.9" fill="#111" text-anchor="middle" textLength="16.4" lengthAdjust="spacingAndGlyphs">282.2789</text>
<text x="184.3" y="477.8" font-size="4.9" fill="#111" text-anchor="middle" textLength="16.4" lengthAdjust="spacingAndGlyphs">288.2902</text>
<text x="200" y="472.8" font-size="4.9" fill="#111" text-anchor="middle" textLength="16.4" lengthAdjust="spacingAndGlyphs">301.1421</text>
<text x="214.8" y="486.2" font-size="4.9" fill="#111" text-anchor="middle" textLength="16.4" lengthAdjust="spacingAndGlyphs">317.1935</text>
<text x="227.8" y="491.1" font-size="4.9" fill="#111" text-anchor="middle" textLength="16.4" lengthAdjust="spacingAndGlyphs">368.2770</text>
<text x="233" y="482.7" font-size="4.9" fill="#111" text-anchor="middle" textLength="16.4" lengthAdjust="spacingAndGlyphs">377.2637</text>
<text x="252.7" y="443.8" font-size="4.9" fill="#111" text-anchor="middle" textLength="16.4" lengthAdjust="spacingAndGlyphs">376.2597</text>
<text x="267" y="456.8" font-size="4.9" fill="#111" text-anchor="middle" textLength="16.4" lengthAdjust="spacingAndGlyphs">390.2417</text>
<text x="270.8" y="465.8" font-size="4.9" fill="#111" text-anchor="middle" textLength="16.4" lengthAdjust="spacingAndGlyphs">409.1619</text>
<text x="273" y="475.8" font-size="4.9" fill="#111" text-anchor="middle" textLength="16.4" lengthAdjust="spacingAndGlyphs">399.2423</text>
<text x="278.3" y="480.6" font-size="4.9" fill="#111" text-anchor="middle" textLength="16.4" lengthAdjust="spacingAndGlyphs">421.3180</text>
<text x="280.9" y="487.2" font-size="4.9" fill="#111" text-anchor="middle" textLength="16.4" lengthAdjust="spacingAndGlyphs">422.3177</text>
<text x="282.6" y="492.8" font-size="4.9" fill="#111" text-anchor="middle" textLength="16.4" lengthAdjust="spacingAndGlyphs">443.3387</text>
<text x="336.3" y="492.5" font-size="4.9" fill="#111" text-anchor="middle" textLength="16.4" lengthAdjust="spacingAndGlyphs">536.1677</text>
<text x="376.2" y="488.0" font-size="4.9" fill="#111" text-anchor="middle" textLength="16.4" lengthAdjust="spacingAndGlyphs">610.1839</text>
<text x="399.6" y="487.5" font-size="4.9" fill="#111" text-anchor="middle" textLength="16.4" lengthAdjust="spacingAndGlyphs">664.4540</text>
<text x="409.7" y="475.3" font-size="4.9" fill="#111" text-anchor="middle" textLength="16.4" lengthAdjust="spacingAndGlyphs">663.4547</text>
<text x="425.9" y="483.4" font-size="4.9" fill="#111" text-anchor="middle" textLength="16.4" lengthAdjust="spacingAndGlyphs">685.4360</text>
<text x="433" y="489.5" font-size="4.9" fill="#111" text-anchor="middle" textLength="16.4" lengthAdjust="spacingAndGlyphs">686.4375</text>
<text x="472.6" y="492.8" font-size="4.9" fill="#111" text-anchor="middle" textLength="16.4" lengthAdjust="spacingAndGlyphs">773.4908</text>
<line x1="244.5" y1="438" x2="246" y2="440" stroke="#555" stroke-width="0.4"/>
<line x1="256.5" y1="450.5" x2="258" y2="453" stroke="#555" stroke-width="0.4"/>
<line x1="258" y1="477" x2="264" y2="475" stroke="#555" stroke-width="0.4"/>
<line x1="271" y1="481" x2="270.2" y2="484.7" stroke="#555" stroke-width="0.4"/>
<line x1="272" y1="487" x2="271.3" y2="490" stroke="#555" stroke-width="0.4"/>
<line x1="408" y1="486" x2="411" y2="489" stroke="#555" stroke-width="0.4"/>
<line x1="424.5" y1="488.5" x2="423.4" y2="490" stroke="#555" stroke-width="0.4"/>
<line x1="238" y1="482.5" x2="244" y2="485.7" stroke="#555" stroke-width="0.4"/>
<line x1="235" y1="490.5" x2="238.3" y2="493.9" stroke="#555" stroke-width="0.4"/>
<polygon points="132,492.7 134,495.2 132,497.4 130,495.2" fill="#1d2a80"/>
<text transform="translate(111,468.0) rotate(-90)" font-size="4.7" fill="#222" text-anchor="middle" textLength="13.9" lengthAdjust="spacingAndGlyphs">Intensity</text>
<text x="384" y="508.4" font-size="4.9" fill="#111" text-anchor="middle">Mass/Charge, Da</text>
<text x="107" y="434.4" font-size="5.2" fill="#222" textLength="182.6" lengthAdjust="spacingAndGlyphs">Spectrum from SDS_CD_Elu.wiff (sample 1) - SDS_CD_Elu, +TOF MS (100 - 2000) from 0.385 min</text>
<path d="M107.6,335.09999999999997 L107.6,332.29999999999995 L110.2,329.9 L112.8,332.29999999999995 L112.8,335.09999999999997 Z" fill="none" stroke="#333" stroke-width="0.9"/>
<rect x="109.4" y="332.9" width="1.6" height="2.2" fill="#c33"/>
<rect x="115.5" y="330.29999999999995" width="4.4" height="5" fill="#c9d2c0" stroke="#9aa090" stroke-width="0.4"/>
<path d="M125,335.5 L127,330.29999999999995 L129,335.5 Z" fill="#c77ab8" stroke="#8a3a8a" stroke-width="0.4"/>
<line x1="124.5" y1="335.5" x2="129.6" y2="335.5" stroke="#553366" stroke-width="0.8"/>
<text x="136" y="334.7" font-size="5.5" fill="#888" text-anchor="middle">+</text>
<text x="142.6" y="334.5" font-size="5.5" fill="#888" text-anchor="middle">-</text>
<text x="148.8" y="334.9" font-size="5.5" fill="#333" text-anchor="middle">%</text>
<text x="157.7" y="334.9" font-size="5.5" fill="#aaa" text-anchor="middle">Σ</text>
<path d="M163,335.5 L164.5,330.4 L166,334.4 L167,332.9 L168,335.5 Z" fill="#3b3bb0"/>
<rect x="171" y="330.29999999999995" width="8.8" height="5.2" fill="#eef4f6" stroke="#8fb4c8" stroke-width="0.6"/>
<ellipse cx="175.4" cy="332.9" rx="2.6" ry="1.2" fill="#111"/>
<text x="181.8" y="334.5" font-size="4.5" fill="#333" text-anchor="middle">▾</text>
<line x1="186.5" y1="330.29999999999995" x2="186.5" y2="335.5" stroke="#bbb" stroke-width="0.5"/>
<path d="M189,332.4 L193,332.4 M189,332.4 L190.2,331.09999999999997 M189,332.4 L190.2,333.7" stroke="#667" stroke-width="0.7" fill="none"/>
<path d="M197.7,332.4 L201.7,332.4 M197.7,332.4 L198.89999999999998,331.09999999999997 M197.7,332.4 L198.89999999999998,333.7" stroke="#667" stroke-width="0.7" fill="none"/>
<path d="M205.2,332.4 L209.2,332.4 M205.2,332.4 L206.39999999999998,331.09999999999997 M205.2,332.4 L206.39999999999998,333.7" stroke="#667" stroke-width="0.7" fill="none"/>
<line x1="212.5" y1="330.29999999999995" x2="212.5" y2="335.5" stroke="#bbb" stroke-width="0.5"/>
<text x="217" y="334.9" font-size="5" fill="#bbb" text-anchor="middle">X</text>
<line x1="222" y1="330.29999999999995" x2="222" y2="335.5" stroke="#bbb" stroke-width="0.5"/>
<rect x="228" y="330.7" width="3.2" height="4.8" fill="#444"/>
<circle cx="237.6" cy="332.29999999999995" r="1.7" fill="none" stroke="#333" stroke-width="0.8"/>
<line x1="238.8" y1="333.5" x2="240.4" y2="335.29999999999995" stroke="#333" stroke-width="1"/>
<rect x="244.5" y="330.4" width="5.2" height="5" fill="#fff" stroke="#444" stroke-width="0.6"/>
<line x1="244.5" y1="331.5" x2="249.7" y2="331.5" stroke="#444" stroke-width="0.8"/>
<rect x="252.0" y="330.4" width="5.2" height="5" fill="#fff" stroke="#444" stroke-width="0.6"/>
<line x1="252.0" y1="331.5" x2="257.2" y2="331.5" stroke="#444" stroke-width="0.8"/>
<rect x="261.5" y="330.4" width="5.2" height="5" fill="#cfd3c8" stroke="#444" stroke-width="0.6"/>
<line x1="261.5" y1="331.5" x2="266.70000000000005" y2="331.5" stroke="#444" stroke-width="0.8"/>
<rect x="270.5" y="331.4" width="4.5" height="3.6" fill="#333"/>
<rect x="271.5" y="330.2" width="2" height="1.4" fill="#333"/>
<path d="M107.6,427.59999999999997 L107.6,424.79999999999995 L110.2,422.4 L112.8,424.79999999999995 L112.8,427.59999999999997 Z" fill="none" stroke="#333" stroke-width="0.9"/>
<rect x="109.4" y="425.4" width="1.6" height="2.2" fill="#c33"/>
<rect x="115.5" y="422.79999999999995" width="4.4" height="5" fill="#c9d2c0" stroke="#9aa090" stroke-width="0.4"/>
<path d="M125,428.0 L127,422.79999999999995 L129,428.0 Z" fill="#c77ab8" stroke="#8a3a8a" stroke-width="0.4"/>
<line x1="124.5" y1="428.0" x2="129.6" y2="428.0" stroke="#553366" stroke-width="0.8"/>
<text x="136" y="427.2" font-size="5.5" fill="#888" text-anchor="middle">+</text>
<text x="142.6" y="427.0" font-size="5.5" fill="#888" text-anchor="middle">-</text>
<text x="148.8" y="427.4" font-size="5.5" fill="#333" text-anchor="middle">%</text>
<text x="157.7" y="427.4" font-size="5.5" fill="#aaa" text-anchor="middle">Σ</text>
<path d="M163,428.0 L164.5,422.9 L166,426.9 L167,425.4 L168,428.0 Z" fill="#3b3bb0"/>
<rect x="171" y="422.79999999999995" width="8.8" height="5.2" fill="#eef4f6" stroke="#8fb4c8" stroke-width="0.6"/>
<ellipse cx="175.4" cy="425.4" rx="2.6" ry="1.2" fill="#111"/>
<text x="181.8" y="427.0" font-size="4.5" fill="#333" text-anchor="middle">▾</text>
<line x1="186.5" y1="422.79999999999995" x2="186.5" y2="428.0" stroke="#bbb" stroke-width="0.5"/>
<path d="M189,424.9 L193,424.9 M189,424.9 L190.2,423.59999999999997 M189,424.9 L190.2,426.2" stroke="#667" stroke-width="0.7" fill="none"/>
<path d="M197.7,424.9 L201.7,424.9 M197.7,424.9 L198.89999999999998,423.59999999999997 M197.7,424.9 L198.89999999999998,426.2" stroke="#667" stroke-width="0.7" fill="none"/>
<path d="M205.2,424.9 L209.2,424.9 M205.2,424.9 L206.39999999999998,423.59999999999997 M205.2,424.9 L206.39999999999998,426.2" stroke="#667" stroke-width="0.7" fill="none"/>
<line x1="212.5" y1="422.79999999999995" x2="212.5" y2="428.0" stroke="#bbb" stroke-width="0.5"/>
<text x="217" y="427.4" font-size="5" fill="#bbb" text-anchor="middle">X</text>
<line x1="222" y1="422.79999999999995" x2="222" y2="428.0" stroke="#bbb" stroke-width="0.5"/>
<rect x="228" y="423.2" width="3.2" height="4.8" fill="#444"/>
<circle cx="237.6" cy="424.79999999999995" r="1.7" fill="none" stroke="#333" stroke-width="0.8"/>
<line x1="238.8" y1="426.0" x2="240.4" y2="427.79999999999995" stroke="#333" stroke-width="1"/>
<rect x="244.5" y="422.9" width="5.2" height="5" fill="#fff" stroke="#444" stroke-width="0.6"/>
<line x1="244.5" y1="424.0" x2="249.7" y2="424.0" stroke="#444" stroke-width="0.8"/>
<rect x="252.0" y="422.9" width="5.2" height="5" fill="#fff" stroke="#444" stroke-width="0.6"/>
<line x1="252.0" y1="424.0" x2="257.2" y2="424.0" stroke="#444" stroke-width="0.8"/>
<rect x="261.5" y="422.9" width="5.2" height="5" fill="#cfd3c8" stroke="#444" stroke-width="0.6"/>
<line x1="261.5" y1="424.0" x2="266.70000000000005" y2="424.0" stroke="#444" stroke-width="0.8"/>
<rect x="270.5" y="423.9" width="4.5" height="3.6" fill="#333"/>
<rect x="271.5" y="422.7" width="2" height="1.4" fill="#333"/>
<line x1="635" y1="245" x2="639.8" y2="245" stroke="#2a2ab0" stroke-width="1.3"/>
<line x1="637.4" y1="242.6" x2="637.4" y2="247.4" stroke="#2a2ab0" stroke-width="1.3"/>
<line x1="635.2" y1="251.6" x2="639.6" y2="251.6" stroke="#e85050" stroke-width="1.2"/>
<text x="637.4" y="260.2" font-size="6.4" fill="#2a2ab0" text-anchor="middle" font-weight="bold">&amp;</text>
<path d="M634.6,332.09999999999997 L635.4,329.5 L639.6,329.5 L640.3,332.09999999999997 Z" fill="#d8dcf0" stroke="#555" stroke-width="0.7"/>
<line x1="635" y1="337.59999999999997" x2="639.8" y2="337.59999999999997" stroke="#2a2ab0" stroke-width="1.3"/>
<line x1="637.4" y1="335.2" x2="637.4" y2="339.99999999999994" stroke="#2a2ab0" stroke-width="1.3"/>
<line x1="635.2" y1="344.2" x2="639.6" y2="344.2" stroke="#e85050" stroke-width="1.2"/>
<text x="637.4" y="352.79999999999995" font-size="6.4" fill="#2a2ab0" text-anchor="middle" font-weight="bold">&amp;</text>
<path d="M634.6,425.09999999999997 L635.4,422.5 L639.6,422.5 L640.3,425.09999999999997 Z" fill="#d8dcf0" stroke="#555" stroke-width="0.7"/>
<line x1="635" y1="430.59999999999997" x2="639.8" y2="430.59999999999997" stroke="#2a2ab0" stroke-width="1.3"/>
<line x1="637.4" y1="428.2" x2="637.4" y2="432.99999999999994" stroke="#2a2ab0" stroke-width="1.3"/>
<line x1="635.2" y1="437.2" x2="639.6" y2="437.2" stroke="#e85050" stroke-width="1.2"/>
<text x="637.4" y="445.79999999999995" font-size="6.4" fill="#2a2ab0" text-anchor="middle" font-weight="bold">&amp;</text>
<text x="228.3" y="237.2" font-size="9.2" fill="#c0202a" font-weight="bold" textLength="43.4" lengthAdjust="spacingAndGlyphs">[SDS+Na]+</text>
<line x1="238" y1="240.5" x2="223.90922187427432" y2="251.581809880128" stroke="#c0202a" stroke-width="1.1"/>
<polygon points="218.80,255.60 224.27,247.99 224.30,251.27 227.48,252.08" fill="#c0202a"/>
<text x="384.9" y="237.2" font-size="9.2" fill="#c0202a" font-weight="bold" textLength="47.6" lengthAdjust="spacingAndGlyphs">[2SDS+Na]+</text>
<line x1="399.4" y1="240.8" x2="384.5452997139841" y2="248.66001131638706" stroke="#c0202a" stroke-width="1.1"/>
<polygon points="378.80,251.70 385.54,245.19 384.99,248.43 387.97,249.79" fill="#c0202a"/>
<text x="542" y="256.8" font-size="9.2" fill="#c0202a" font-weight="bold" textLength="48.1" lengthAdjust="spacingAndGlyphs">[3SDS+Na]+</text>
<line x1="560.5" y1="261.5" x2="551.2307224448216" y2="269.0839543633278" stroke="#c0202a" stroke-width="1.1"/>
<polygon points="546.20,273.20 551.52,265.49 551.62,268.77 554.81,269.51" fill="#c0202a"/>
<text x="492" y="331.6" font-size="9.2" fill="#c0202a" font-weight="bold" textLength="71.3" lengthAdjust="spacingAndGlyphs">[HP-β-CD+2Na]2+</text>
<line x1="513.9" y1="335.2" x2="497.5950386535736" y2="341.241570498899" stroke="#c0202a" stroke-width="1.1"/>
<polygon points="491.50,343.50 499.04,337.93 498.06,341.07 500.84,342.81" fill="#c0202a"/>
<text x="0.6" y="557.8" font-size="24.5" fill="#000" font-weight="bold">C</text>
<rect x="80.1" y="585.9" width="13" height="125.6" fill="#bc443e" stroke="#5e2a2a" stroke-width="0.7"/>
<rect x="96.13" y="704" width="13" height="7.5" fill="#bc443e" stroke="#5e2a2a" stroke-width="0.7"/>
<rect x="112.16" y="703.2" width="13" height="8.3" fill="#bc443e" stroke="#5e2a2a" stroke-width="0.7"/>
<rect x="128.19" y="682.6" width="13" height="28.9" fill="#bc443e" stroke="#5e2a2a" stroke-width="0.7"/>
<rect x="144.22" y="602.5" width="13" height="109.0" fill="#bc443e" stroke="#5e2a2a" stroke-width="0.7"/>
<rect x="160.25" y="591.3" width="13" height="120.2" fill="#bc443e" stroke="#5e2a2a" stroke-width="0.7"/>
<rect x="176.28" y="591.3" width="13" height="120.2" fill="#bc443e" stroke="#5e2a2a" stroke-width="0.7"/>
<rect x="192.31" y="595" width="13" height="116.5" fill="#bc443e" stroke="#5e2a2a" stroke-width="0.7"/>
<rect x="208.34" y="597" width="13" height="114.5" fill="#bc443e" stroke="#5e2a2a" stroke-width="0.7"/>
<rect x="224.37" y="603.8" width="13" height="107.7" fill="#bc443e" stroke="#5e2a2a" stroke-width="0.7"/>
<rect x="240.4" y="692.5" width="13" height="19.0" fill="#bc443e" stroke="#5e2a2a" stroke-width="0.7"/>
<line x1="86.6" y1="584.7" x2="86.6" y2="587.1" stroke="#444" stroke-width="0.8"/>
<line x1="84.4" y1="584.7" x2="88.8" y2="584.7" stroke="#444" stroke-width="0.8"/>
<line x1="84.4" y1="587.1" x2="88.8" y2="587.1" stroke="#444" stroke-width="0.8"/>
<line x1="102.63" y1="700.5" x2="102.63" y2="707.5" stroke="#444" stroke-width="0.8"/>
<line x1="100.43" y1="700.5" x2="104.83" y2="700.5" stroke="#444" stroke-width="0.8"/>
<line x1="100.43" y1="707.5" x2="104.83" y2="707.5" stroke="#444" stroke-width="0.8"/>
<line x1="118.66" y1="700.9" x2="118.66" y2="705.5" stroke="#444" stroke-width="0.8"/>
<line x1="116.46" y1="700.9" x2="120.86" y2="700.9" stroke="#444" stroke-width="0.8"/>
<line x1="116.46" y1="705.5" x2="120.86" y2="705.5" stroke="#444" stroke-width="0.8"/>
<line x1="134.69" y1="680.3" x2="134.69" y2="684.9" stroke="#444" stroke-width="0.8"/>
<line x1="132.49" y1="680.3" x2="136.89" y2="680.3" stroke="#444" stroke-width="0.8"/>
<line x1="132.49" y1="684.9" x2="136.89" y2="684.9" stroke="#444" stroke-width="0.8"/>
<line x1="150.72" y1="594.4" x2="150.72" y2="610.6" stroke="#444" stroke-width="0.8"/>
<line x1="148.52" y1="594.4" x2="152.92" y2="594.4" stroke="#444" stroke-width="0.8"/>
<line x1="148.52" y1="610.6" x2="152.92" y2="610.6" stroke="#444" stroke-width="0.8"/>
<line x1="166.75" y1="588.7" x2="166.75" y2="593.9" stroke="#444" stroke-width="0.8"/>
<line x1="164.55" y1="588.7" x2="168.95" y2="588.7" stroke="#444" stroke-width="0.8"/>
<line x1="164.55" y1="593.9" x2="168.95" y2="593.9" stroke="#444" stroke-width="0.8"/>
<line x1="182.78" y1="590.3" x2="182.78" y2="592.3" stroke="#444" stroke-width="0.8"/>
<line x1="180.58" y1="590.3" x2="184.98" y2="590.3" stroke="#444" stroke-width="0.8"/>
<line x1="180.58" y1="592.3" x2="184.98" y2="592.3" stroke="#444" stroke-width="0.8"/>
<line x1="198.81" y1="593.9" x2="198.81" y2="596.1" stroke="#444" stroke-width="0.8"/>
<line x1="196.61" y1="593.9" x2="201.01" y2="593.9" stroke="#444" stroke-width="0.8"/>
<line x1="196.61" y1="596.1" x2="201.01" y2="596.1" stroke="#444" stroke-width="0.8"/>
<line x1="214.84" y1="593.1" x2="214.84" y2="600.9" stroke="#444" stroke-width="0.8"/>
<line x1="212.64" y1="593.1" x2="217.04" y2="593.1" stroke="#444" stroke-width="0.8"/>
<line x1="212.64" y1="600.9" x2="217.04" y2="600.9" stroke="#444" stroke-width="0.8"/>
<line x1="230.87" y1="599.7" x2="230.87" y2="607.9" stroke="#444" stroke-width="0.8"/>
<line x1="228.67" y1="599.7" x2="233.07" y2="599.7" stroke="#444" stroke-width="0.8"/>
<line x1="228.67" y1="607.9" x2="233.07" y2="607.9" stroke="#444" stroke-width="0.8"/>
<line x1="246.9" y1="688.4" x2="246.9" y2="696.6" stroke="#444" stroke-width="0.8"/>
<line x1="244.7" y1="688.4" x2="249.1" y2="688.4" stroke="#444" stroke-width="0.8"/>
<line x1="244.7" y1="696.6" x2="249.1" y2="696.6" stroke="#444" stroke-width="0.8"/>
<line x1="70.6" y1="711.5" x2="262.9" y2="711.5" stroke="#111" stroke-width="1"/>
<line x1="86.6" y1="711.5" x2="86.6" y2="714.1" stroke="#111" stroke-width="0.9"/>
<line x1="102.63" y1="711.5" x2="102.63" y2="714.1" stroke="#111" stroke-width="0.9"/>
<line x1="118.66" y1="711.5" x2="118.66" y2="714.1" stroke="#111" stroke-width="0.9"/>
<line x1="134.69" y1="711.5" x2="134.69" y2="714.1" stroke="#111" stroke-width="0.9"/>
<line x1="150.72" y1="711.5" x2="150.72" y2="714.1" stroke="#111" stroke-width="0.9"/>
<line x1="166.75" y1="711.5" x2="166.75" y2="714.1" stroke="#111" stroke-width="0.9"/>
<line x1="182.78" y1="711.5" x2="182.78" y2="714.1" stroke="#111" stroke-width="0.9"/>
<line x1="198.81" y1="711.5" x2="198.81" y2="714.1" stroke="#111" stroke-width="0.9"/>
<line x1="214.84" y1="711.5" x2="214.84" y2="714.1" stroke="#111" stroke-width="0.9"/>
<line x1="230.87" y1="711.5" x2="230.87" y2="714.1" stroke="#111" stroke-width="0.9"/>
<line x1="246.9" y1="711.5" x2="246.9" y2="714.1" stroke="#111" stroke-width="0.9"/>
<line x1="70.6" y1="571.1" x2="70.6" y2="711.5" stroke="#c22f36" stroke-width="1"/>
<line x1="70.6" y1="711.5" x2="70.6" y2="714.5" stroke="#222" stroke-width="1"/>
<line x1="67.6" y1="711.6" x2="70.6" y2="711.6" stroke="#c22f36" stroke-width="1"/>
<text x="65.6" y="716.32" font-size="13.1" fill="#c22f36" text-anchor="end">0.0</text>
<line x1="67.6" y1="678.3" x2="70.6" y2="678.3" stroke="#c22f36" stroke-width="1"/>
<text x="65.6" y="683.02" font-size="13.1" fill="#c22f36" text-anchor="end">0.5</text>
<line x1="67.6" y1="645.0" x2="70.6" y2="645.0" stroke="#c22f36" stroke-width="1"/>
<text x="65.6" y="649.72" font-size="13.1" fill="#c22f36" text-anchor="end">1.0</text>
<line x1="67.6" y1="611.7" x2="70.6" y2="611.7" stroke="#c22f36" stroke-width="1"/>
<text x="65.6" y="616.42" font-size="13.1" fill="#c22f36" text-anchor="end">1.5</text>
<line x1="67.6" y1="578.4" x2="70.6" y2="578.4" stroke="#c22f36" stroke-width="1"/>
<text x="65.6" y="583.12" font-size="13.1" fill="#c22f36" text-anchor="end">2.0</text>
<line x1="262.9" y1="570.9" x2="262.9" y2="712.0" stroke="#6a72b8" stroke-width="1"/>
<line x1="262.9" y1="711.0" x2="265.9" y2="711.0" stroke="#6a72b8" stroke-width="1"/>
<text x="268.2" y="715.72" font-size="13.1" fill="#2e3a94">0.0</text>
<line x1="262.9" y1="682.96" x2="265.9" y2="682.96" stroke="#6a72b8" stroke-width="1"/>
<text x="268.2" y="687.68" font-size="13.1" fill="#2e3a94">0.2</text>
<line x1="262.9" y1="654.92" x2="265.9" y2="654.92" stroke="#6a72b8" stroke-width="1"/>
<text x="268.2" y="659.64" font-size="13.1" fill="#2e3a94">0.4</text>
<line x1="262.9" y1="626.88" x2="265.9" y2="626.88" stroke="#6a72b8" stroke-width="1"/>
<text x="268.2" y="631.6" font-size="13.1" fill="#2e3a94">0.6</text>
<line x1="262.9" y1="598.84" x2="265.9" y2="598.84" stroke="#6a72b8" stroke-width="1"/>
<text x="268.2" y="603.56" font-size="13.1" fill="#2e3a94">0.8</text>
<line x1="262.9" y1="570.8" x2="265.9" y2="570.8" stroke="#6a72b8" stroke-width="1"/>
<text x="268.2" y="575.52" font-size="13.1" fill="#2e3a94">1.0</text>
<polyline points="86.8,612.8 102.6,708.7 118.8,708.7 135,703 150.9,633.8 166.8,614.8 183,616.9 198.6,621.6 214.8,624.7 231,635.7 246.9,706.1" fill="none" stroke="#2b3a9a" stroke-width="0.9"/>
<line x1="150.9" y1="625.2" x2="150.9" y2="643" stroke="#2b3a9a" stroke-width="0.8"/>
<line x1="148.9" y1="625.2" x2="152.9" y2="625.2" stroke="#2b3a9a" stroke-width="0.8"/>
<line x1="148.9" y1="643" x2="152.9" y2="643" stroke="#2b3a9a" stroke-width="0.8"/>
<line x1="166.8" y1="610.9" x2="166.8" y2="617.9" stroke="#2b3a9a" stroke-width="0.8"/>
<line x1="164.8" y1="610.9" x2="168.8" y2="610.9" stroke="#2b3a9a" stroke-width="0.8"/>
<line x1="164.8" y1="617.9" x2="168.8" y2="617.9" stroke="#2b3a9a" stroke-width="0.8"/>
<line x1="183" y1="613" x2="183" y2="620.5" stroke="#2b3a9a" stroke-width="0.8"/>
<line x1="181" y1="613" x2="185" y2="613" stroke="#2b3a9a" stroke-width="0.8"/>
<line x1="181" y1="620.5" x2="185" y2="620.5" stroke="#2b3a9a" stroke-width="0.8"/>
<line x1="214.8" y1="620.5" x2="214.8" y2="629.1" stroke="#2b3a9a" stroke-width="0.8"/>
<line x1="212.8" y1="620.5" x2="216.8" y2="620.5" stroke="#2b3a9a" stroke-width="0.8"/>
<line x1="212.8" y1="629.1" x2="216.8" y2="629.1" stroke="#2b3a9a" stroke-width="0.8"/>
<line x1="231" y1="630.4" x2="231" y2="640.9" stroke="#2b3a9a" stroke-width="0.8"/>
<line x1="229" y1="630.4" x2="233" y2="630.4" stroke="#2b3a9a" stroke-width="0.8"/>
<line x1="229" y1="640.9" x2="233" y2="640.9" stroke="#2b3a9a" stroke-width="0.8"/>
<line x1="246.9" y1="702" x2="246.9" y2="710" stroke="#2b3a9a" stroke-width="0.8"/>
<line x1="244.9" y1="702" x2="248.9" y2="702" stroke="#2b3a9a" stroke-width="0.8"/>
<line x1="244.9" y1="710" x2="248.9" y2="710" stroke="#2b3a9a" stroke-width="0.8"/>
<rect x="84.7" y="610.7" width="4.2" height="4.2" fill="#2b3a9a"/>
<rect x="100.5" y="706.6" width="4.2" height="4.2" fill="#2b3a9a"/>
<rect x="116.7" y="706.6" width="4.2" height="4.2" fill="#2b3a9a"/>
<rect x="132.9" y="700.9" width="4.2" height="4.2" fill="#2b3a9a"/>
<rect x="148.8" y="631.7" width="4.2" height="4.2" fill="#2b3a9a"/>
<rect x="164.7" y="612.7" width="4.2" height="4.2" fill="#2b3a9a"/>
<rect x="180.9" y="614.8" width="4.2" height="4.2" fill="#2b3a9a"/>
<rect x="196.5" y="619.5" width="4.2" height="4.2" fill="#2b3a9a"/>
<rect x="212.7" y="622.6" width="4.2" height="4.2" fill="#2b3a9a"/>
<rect x="228.9" y="633.6" width="4.2" height="4.2" fill="#2b3a9a"/>
<rect x="244.8" y="704.0" width="4.2" height="4.2" fill="#2b3a9a"/>
<rect x="173.4" y="555.8" width="30.0" height="13.600000000000023" fill="#bc443e" stroke="#5e2a2a" stroke-width="0.7"/>
<text x="207.5" y="567.1" font-size="12.6" fill="#c22f36" textLength="47.6" lengthAdjust="spacingAndGlyphs">Proteins</text>
<line x1="173.4" y1="576.6" x2="203.4" y2="576.6" stroke="#2b3a9a" stroke-width="0.9"/>
<rect x="186.3" y="574.5" width="4.2" height="4.2" fill="#2b3a9a"/>
<text x="207.5" y="581.7" font-size="12.6" fill="#2e3a94" textLength="49.4" lengthAdjust="spacingAndGlyphs">Peptides</text>
<text transform="translate(41.2,637) rotate(-90)" font-size="12.6" fill="#c22f36" text-anchor="middle" textLength="77" lengthAdjust="spacingAndGlyphs">Proteins(x10<tspan font-size="7.8" dy="-4.8">3</tspan><tspan dy="4.8">)</tspan></text>
<text transform="translate(304.9,634.4) rotate(-90)" font-size="12.4" fill="#2e3a94" text-anchor="middle" textLength="100.2" lengthAdjust="spacingAndGlyphs">Peptide ions(x10<tspan font-size="7.7" dy="-4.7">4</tspan><tspan dy="4.7">)</tspan></text>
<text transform="translate(92.50,722.70) rotate(-45)" font-size="11" fill="#111" stroke="#111" stroke-width="0.2" text-anchor="end" textLength="34.2" lengthAdjust="spacingAndGlyphs">1%SDC</text>
<text transform="translate(103.73,720.30) rotate(-45)" font-size="11" fill="#111" stroke="#111" stroke-width="0.2" text-anchor="end" textLength="6.1" lengthAdjust="spacingAndGlyphs">0</text>
<text transform="translate(122.56,719.80) rotate(-45)" font-size="11" fill="#111" stroke="#111" stroke-width="0.2" text-anchor="end" textLength="21.5" lengthAdjust="spacingAndGlyphs">0.36</text>
<text transform="translate(138.59,719.80) rotate(-45)" font-size="11" fill="#111" stroke="#111" stroke-width="0.2" text-anchor="end" textLength="21.5" lengthAdjust="spacingAndGlyphs">0.72</text>
<text transform="translate(154.62,719.80) rotate(-45)" font-size="11" fill="#111" stroke="#111" stroke-width="0.2" text-anchor="end" textLength="21.5" lengthAdjust="spacingAndGlyphs">1.08</text>
<text transform="translate(170.65,719.80) rotate(-45)" font-size="11" fill="#111" stroke="#111" stroke-width="0.2" text-anchor="end" textLength="21.5" lengthAdjust="spacingAndGlyphs">1.44</text>
<text transform="translate(186.68,719.80) rotate(-45)" font-size="11" fill="#111" stroke="#111" stroke-width="0.2" text-anchor="end" textLength="21.5" lengthAdjust="spacingAndGlyphs">2.16</text>
<text transform="translate(202.71,719.80) rotate(-45)" font-size="11" fill="#111" stroke="#111" stroke-width="0.2" text-anchor="end" textLength="21.5" lengthAdjust="spacingAndGlyphs">2.88</text>
<text transform="translate(218.74,719.80) rotate(-45)" font-size="11" fill="#111" stroke="#111" stroke-width="0.2" text-anchor="end" textLength="15.3" lengthAdjust="spacingAndGlyphs">3.6</text>
<text transform="translate(234.77,719.80) rotate(-45)" font-size="11" fill="#111" stroke="#111" stroke-width="0.2" text-anchor="end" textLength="21.5" lengthAdjust="spacingAndGlyphs">5.76</text>
<line x1="101" y1="736.7" x2="236.5" y2="736.7" stroke="#151515" stroke-width="1.4"/>
<line x1="95.6" y1="756.1" x2="257.9" y2="756.1" stroke="#151515" stroke-width="1.4"/>
<text x="110" y="747.2" font-size="10.5" fill="#111" textLength="102.6" lengthAdjust="spacingAndGlyphs" stroke="#111" stroke-width="0.22">HP-β-cyclodextrin:SDS</text>
<text x="168" y="768.6" font-size="10.5" fill="#111" textLength="31.9" lengthAdjust="spacingAndGlyphs" stroke="#111" stroke-width="0.22">1%SDS</text>
<text transform="translate(250.80,712.60) rotate(-90)" font-size="10.8" fill="#111" stroke="#111" stroke-width="0.2" text-anchor="end" textLength="39" lengthAdjust="spacingAndGlyphs">0.1%SDS</text>
<text x="380.2" y="564.9" font-size="24.5" fill="#000" font-weight="bold">D</text>
<rect x="471.3" y="601.6" width="13.8" height="111.9" fill="#b21d20" stroke="#6e6e6e" stroke-width="0.8"/>
<rect x="488.57" y="696.9" width="13.8" height="16.6" fill="#b21d20" stroke="#6e6e6e" stroke-width="0.8"/>
<rect x="505.84" y="698.5" width="13.8" height="15.0" fill="#b21d20" stroke="#6e6e6e" stroke-width="0.8"/>
<rect x="523.11" y="696.9" width="13.8" height="16.6" fill="#b21d20" stroke="#6e6e6e" stroke-width="0.8"/>
<rect x="540.38" y="689.1" width="13.8" height="24.4" fill="#b21d20" stroke="#6e6e6e" stroke-width="0.8"/>
<rect x="557.65" y="682.3" width="13.8" height="31.2" fill="#b21d20" stroke="#6e6e6e" stroke-width="0.8"/>
<rect x="574.92" y="606.3" width="13.8" height="107.2" fill="#b21d20" stroke="#6e6e6e" stroke-width="0.8"/>
<rect x="592.19" y="607.6" width="13.8" height="105.9" fill="#b21d20" stroke="#6e6e6e" stroke-width="0.8"/>
<rect x="609.46" y="603.5" width="13.8" height="110.0" fill="#b21d20" stroke="#6e6e6e" stroke-width="0.8"/>
<rect x="626.73" y="620" width="13.8" height="93.5" fill="#b21d20" stroke="#6e6e6e" stroke-width="0.8"/>
<line x1="478.2" y1="600.6" x2="478.2" y2="602.6" stroke="#555" stroke-width="0.8"/>
<line x1="476.0" y1="600.6" x2="480.4" y2="600.6" stroke="#555" stroke-width="0.8"/>
<line x1="476.0" y1="602.6" x2="480.4" y2="602.6" stroke="#555" stroke-width="0.8"/>
<line x1="495.47" y1="695.8" x2="495.47" y2="698.0" stroke="#555" stroke-width="0.8"/>
<line x1="493.27" y1="695.8" x2="497.67" y2="695.8" stroke="#555" stroke-width="0.8"/>
<line x1="493.27" y1="698.0" x2="497.67" y2="698.0" stroke="#555" stroke-width="0.8"/>
<line x1="512.74" y1="697.3" x2="512.74" y2="699.7" stroke="#555" stroke-width="0.8"/>
<line x1="510.54" y1="697.3" x2="514.94" y2="697.3" stroke="#555" stroke-width="0.8"/>
<line x1="510.54" y1="699.7" x2="514.94" y2="699.7" stroke="#555" stroke-width="0.8"/>
<line x1="530.01" y1="695.8" x2="530.01" y2="698.0" stroke="#555" stroke-width="0.8"/>
<line x1="527.81" y1="695.8" x2="532.21" y2="695.8" stroke="#555" stroke-width="0.8"/>
<line x1="527.81" y1="698.0" x2="532.21" y2="698.0" stroke="#555" stroke-width="0.8"/>
<line x1="547.28" y1="687.8" x2="547.28" y2="690.4" stroke="#555" stroke-width="0.8"/>
<line x1="545.08" y1="687.8" x2="549.48" y2="687.8" stroke="#555" stroke-width="0.8"/>
<line x1="545.08" y1="690.4" x2="549.48" y2="690.4" stroke="#555" stroke-width="0.8"/>
<line x1="564.55" y1="679.8" x2="564.55" y2="684.8" stroke="#555" stroke-width="0.8"/>
<line x1="562.35" y1="679.8" x2="566.75" y2="679.8" stroke="#555" stroke-width="0.8"/>
<line x1="562.35" y1="684.8" x2="566.75" y2="684.8" stroke="#555" stroke-width="0.8"/>
<line x1="581.82" y1="605.2" x2="581.82" y2="607.4" stroke="#555" stroke-width="0.8"/>
<line x1="579.62" y1="605.2" x2="584.02" y2="605.2" stroke="#555" stroke-width="0.8"/>
<line x1="579.62" y1="607.4" x2="584.02" y2="607.4" stroke="#555" stroke-width="0.8"/>
<line x1="599.09" y1="606.3" x2="599.09" y2="608.9" stroke="#555" stroke-width="0.8"/>
<line x1="596.89" y1="606.3" x2="601.29" y2="606.3" stroke="#555" stroke-width="0.8"/>
<line x1="596.89" y1="608.9" x2="601.29" y2="608.9" stroke="#555" stroke-width="0.8"/>
<line x1="616.36" y1="602.2" x2="616.36" y2="604.8" stroke="#555" stroke-width="0.8"/>
<line x1="614.16" y1="602.2" x2="618.56" y2="602.2" stroke="#555" stroke-width="0.8"/>
<line x1="614.16" y1="604.8" x2="618.56" y2="604.8" stroke="#555" stroke-width="0.8"/>
<line x1="633.63" y1="617.6" x2="633.63" y2="622.4" stroke="#555" stroke-width="0.8"/>
<line x1="631.43" y1="617.6" x2="635.83" y2="617.6" stroke="#555" stroke-width="0.8"/>
<line x1="631.43" y1="622.4" x2="635.83" y2="622.4" stroke="#555" stroke-width="0.8"/>
<line x1="469.2" y1="713.5" x2="641.8" y2="713.5" stroke="#111" stroke-width="1"/>
<line x1="478.2" y1="713.5" x2="478.2" y2="716.1" stroke="#111" stroke-width="0.9"/>
<line x1="495.47" y1="713.5" x2="495.47" y2="716.1" stroke="#111" stroke-width="0.9"/>
<line x1="512.74" y1="713.5" x2="512.74" y2="716.1" stroke="#111" stroke-width="0.9"/>
<line x1="530.01" y1="713.5" x2="530.01" y2="716.1" stroke="#111" stroke-width="0.9"/>
<line x1="547.28" y1="713.5" x2="547.28" y2="716.1" stroke="#111" stroke-width="0.9"/>
<line x1="564.55" y1="713.5" x2="564.55" y2="716.1" stroke="#111" stroke-width="0.9"/>
<line x1="581.82" y1="713.5" x2="581.82" y2="716.1" stroke="#111" stroke-width="0.9"/>
<line x1="599.09" y1="713.5" x2="599.09" y2="716.1" stroke="#111" stroke-width="0.9"/>
<line x1="616.36" y1="713.5" x2="616.36" y2="716.1" stroke="#111" stroke-width="0.9"/>
<line x1="633.63" y1="713.5" x2="633.63" y2="716.1" stroke="#111" stroke-width="0.9"/>
<line x1="469.2" y1="577.9" x2="469.2" y2="713.5" stroke="#9a4a4a" stroke-width="1"/>
<line x1="469.2" y1="713.5" x2="469.2" y2="716.5" stroke="#222" stroke-width="1"/>
<line x1="466.2" y1="713.5" x2="469.2" y2="713.5" stroke="#9a4a4a" stroke-width="1"/>
<text x="464.8" y="719.12" font-size="15.6" fill="#7a1c1c" text-anchor="end">0</text>
<line x1="466.2" y1="679.9" x2="469.2" y2="679.9" stroke="#9a4a4a" stroke-width="1"/>
<text x="464.8" y="685.52" font-size="15.6" fill="#7a1c1c" text-anchor="end">0.5</text>
<line x1="466.2" y1="646.3" x2="469.2" y2="646.3" stroke="#9a4a4a" stroke-width="1"/>
<text x="464.8" y="651.92" font-size="15.6" fill="#7a1c1c" text-anchor="end">1</text>
<line x1="466.2" y1="612.7" x2="469.2" y2="612.7" stroke="#9a4a4a" stroke-width="1"/>
<text x="464.8" y="618.32" font-size="15.6" fill="#7a1c1c" text-anchor="end">1.5</text>
<line x1="466.2" y1="579.1" x2="469.2" y2="579.1" stroke="#9a4a4a" stroke-width="1"/>
<text x="464.8" y="584.72" font-size="15.6" fill="#7a1c1c" text-anchor="end">2</text>
<line x1="641.8" y1="579.3" x2="641.8" y2="714.0" stroke="#8890c8" stroke-width="1"/>
<line x1="641.8" y1="712.8" x2="644.8" y2="712.8" stroke="#8890c8" stroke-width="1"/>
<text x="645.9" y="718.42" font-size="15.6" fill="#2e3a94">0</text>
<line x1="641.8" y1="686.1" x2="644.8" y2="686.1" stroke="#8890c8" stroke-width="1"/>
<text x="645.9" y="691.72" font-size="15.6" fill="#2e3a94">0.2</text>
<line x1="641.8" y1="659.4" x2="644.8" y2="659.4" stroke="#8890c8" stroke-width="1"/>
<text x="645.9" y="665.02" font-size="15.6" fill="#2e3a94">0.4</text>
<line x1="641.8" y1="632.7" x2="644.8" y2="632.7" stroke="#8890c8" stroke-width="1"/>
<text x="645.9" y="638.32" font-size="15.6" fill="#2e3a94">0.6</text>
<line x1="641.8" y1="606.0" x2="644.8" y2="606.0" stroke="#8890c8" stroke-width="1"/>
<text x="645.9" y="611.62" font-size="15.6" fill="#2e3a94">0.8</text>
<line x1="641.8" y1="579.3" x2="644.8" y2="579.3" stroke="#8890c8" stroke-width="1"/>
<text x="645.9" y="584.92" font-size="15.6" fill="#2e3a94">1</text>
<polyline points="478.3,607.3 495.2,706.1 512.6,706 530.3,705.1 547.4,701.8 564.2,697.7 581.8,607.6 599.1,610.1 616.2,604.1 633.5,628.8" fill="none" stroke="#2b3a9a" stroke-width="0.9"/>
<rect x="476.8" y="605.8" width="3.0" height="3.0" fill="#2b3a9a"/>
<rect x="493.7" y="704.6" width="3.0" height="3.0" fill="#2b3a9a"/>
<rect x="511.1" y="704.5" width="3.0" height="3.0" fill="#2b3a9a"/>
<rect x="528.8" y="703.6" width="3.0" height="3.0" fill="#2b3a9a"/>
<rect x="545.9" y="700.3" width="3.0" height="3.0" fill="#2b3a9a"/>
<rect x="562.7" y="696.2" width="3.0" height="3.0" fill="#2b3a9a"/>
<rect x="580.3" y="606.1" width="3.0" height="3.0" fill="#2b3a9a"/>
<rect x="597.6" y="608.6" width="3.0" height="3.0" fill="#2b3a9a"/>
<rect x="614.7" y="602.6" width="3.0" height="3.0" fill="#2b3a9a"/>
<rect x="632.0" y="627.3" width="3.0" height="3.0" fill="#2b3a9a"/>
<rect x="564.2" y="569.6" width="26.699999999999932" height="12.399999999999977" fill="#b21d20" stroke="#6e6e6e" stroke-width="0.8"/>
<text x="594.4" y="580.2" font-size="11.8" fill="#c0282d" textLength="42.5" lengthAdjust="spacingAndGlyphs">Proteins</text>
<line x1="564.2" y1="589.7" x2="590.9" y2="589.7" stroke="#2b3a9a" stroke-width="0.9"/>
<rect x="576.05" y="588.2" width="3.0" height="3.0" fill="#2b3a9a"/>
<text x="594.4" y="593.9" font-size="11.8" fill="#2e3a94" textLength="45.2" lengthAdjust="spacingAndGlyphs">Peptides</text>
<text transform="translate(437.6,650.9) rotate(-90)" font-size="11.8" fill="#c0282d" text-anchor="middle" textLength="73" lengthAdjust="spacingAndGlyphs">Proteins(x10<tspan font-size="7.3" dy="-4.5">3</tspan><tspan dy="4.5">)</tspan></text>
<text transform="translate(685.6,648.8) rotate(-90)" font-size="11.8" fill="#2e3a94" text-anchor="middle" textLength="75.8" lengthAdjust="spacingAndGlyphs">Peptides(x10<tspan font-size="7.3" dy="-4.5">4</tspan><tspan dy="4.5">)</tspan></text>
<text transform="translate(486.20,722.70) rotate(-45)" font-size="11.5" fill="#111" stroke="#111" stroke-width="0.2" text-anchor="end" textLength="35.8" lengthAdjust="spacingAndGlyphs">1%SDC</text>
<text transform="translate(500.57,723.30) rotate(-45)" font-size="11.5" fill="#111" stroke="#111" stroke-width="0.2" text-anchor="end" textLength="6.4" lengthAdjust="spacingAndGlyphs">0</text>
<text transform="translate(520.24,722.70) rotate(-45)" font-size="11.5" fill="#111" stroke="#111" stroke-width="0.2" text-anchor="end" textLength="22.4" lengthAdjust="spacingAndGlyphs">0.36</text>
<text transform="translate(537.51,722.70) rotate(-45)" font-size="11.5" fill="#111" stroke="#111" stroke-width="0.2" text-anchor="end" textLength="22.4" lengthAdjust="spacingAndGlyphs">0.72</text>
<text transform="translate(554.78,722.70) rotate(-45)" font-size="11.5" fill="#111" stroke="#111" stroke-width="0.2" text-anchor="end" textLength="22.4" lengthAdjust="spacingAndGlyphs">1.08</text>
<text transform="translate(572.05,722.70) rotate(-45)" font-size="11.5" fill="#111" stroke="#111" stroke-width="0.2" text-anchor="end" textLength="22.4" lengthAdjust="spacingAndGlyphs">1.44</text>
<text transform="translate(589.32,722.70) rotate(-45)" font-size="11.5" fill="#111" stroke="#111" stroke-width="0.2" text-anchor="end" textLength="22.4" lengthAdjust="spacingAndGlyphs">2.16</text>
<text transform="translate(606.59,722.70) rotate(-45)" font-size="11.5" fill="#111" stroke="#111" stroke-width="0.2" text-anchor="end" textLength="22.4" lengthAdjust="spacingAndGlyphs">2.88</text>
<text transform="translate(623.86,722.70) rotate(-45)" font-size="11.5" fill="#111" stroke="#111" stroke-width="0.2" text-anchor="end" textLength="16.0" lengthAdjust="spacingAndGlyphs">3.6</text>
<text transform="translate(641.13,722.70) rotate(-45)" font-size="11.5" fill="#111" stroke="#111" stroke-width="0.2" text-anchor="end" textLength="22.4" lengthAdjust="spacingAndGlyphs">5.76</text>
<line x1="490.2" y1="745.2" x2="636.3" y2="745.2" stroke="#151515" stroke-width="1.4"/>
<line x1="486.3" y1="762.8" x2="642.4" y2="762.8" stroke="#151515" stroke-width="1.4"/>
<text x="517.6" y="756.7" font-size="10.5" fill="#111" textLength="95.9" lengthAdjust="spacingAndGlyphs" stroke="#111" stroke-width="0.22">α-cyclodextrin:SDS</text>
<text x="551.1" y="775.6" font-size="10.5" fill="#111" textLength="34.4" lengthAdjust="spacingAndGlyphs" stroke="#111" stroke-width="0.22">1%SDS</text>
<text x="2.2" y="828.7" font-size="24.5" fill="#000" font-weight="bold">E</text>
<rect x="71.6" y="873" width="16.8" height="114.6" fill="#b21d20" stroke="#6e6e6e" stroke-width="0.8"/>
<rect x="92.3" y="981.2" width="16.8" height="6.4" fill="#b21d20" stroke="#6e6e6e" stroke-width="0.8"/>
<rect x="113.0" y="979.5" width="16.8" height="8.1" fill="#b21d20" stroke="#6e6e6e" stroke-width="0.8"/>
<rect x="133.7" y="885.1" width="16.8" height="102.5" fill="#b21d20" stroke="#6e6e6e" stroke-width="0.8"/>
<rect x="154.4" y="874.6" width="16.8" height="113.0" fill="#b21d20" stroke="#6e6e6e" stroke-width="0.8"/>
<rect x="175.1" y="869.4" width="16.8" height="118.2" fill="#b21d20" stroke="#6e6e6e" stroke-width="0.8"/>
<rect x="195.8" y="867.4" width="16.8" height="120.2" fill="#b21d20" stroke="#6e6e6e" stroke-width="0.8"/>
<rect x="216.5" y="884" width="16.8" height="103.6" fill="#b21d20" stroke="#6e6e6e" stroke-width="0.8"/>
<line x1="80.0" y1="871.8" x2="80.0" y2="874.2" stroke="#555" stroke-width="0.8"/>
<line x1="77.8" y1="871.8" x2="82.2" y2="871.8" stroke="#555" stroke-width="0.8"/>
<line x1="77.8" y1="874.2" x2="82.2" y2="874.2" stroke="#555" stroke-width="0.8"/>
<line x1="100.7" y1="978.5" x2="100.7" y2="983.9" stroke="#555" stroke-width="0.8"/>
<line x1="98.5" y1="978.5" x2="102.9" y2="978.5" stroke="#555" stroke-width="0.8"/>
<line x1="98.5" y1="983.9" x2="102.9" y2="983.9" stroke="#555" stroke-width="0.8"/>
<line x1="121.4" y1="977.5" x2="121.4" y2="981.5" stroke="#555" stroke-width="0.8"/>
<line x1="119.2" y1="977.5" x2="123.6" y2="977.5" stroke="#555" stroke-width="0.8"/>
<line x1="119.2" y1="981.5" x2="123.6" y2="981.5" stroke="#555" stroke-width="0.8"/>
<line x1="142.1" y1="880.4" x2="142.1" y2="889.8" stroke="#555" stroke-width="0.8"/>
<line x1="139.9" y1="880.4" x2="144.3" y2="880.4" stroke="#555" stroke-width="0.8"/>
<line x1="139.9" y1="889.8" x2="144.3" y2="889.8" stroke="#555" stroke-width="0.8"/>
<line x1="162.8" y1="871.9" x2="162.8" y2="877.3" stroke="#555" stroke-width="0.8"/>
<line x1="160.6" y1="871.9" x2="165.0" y2="871.9" stroke="#555" stroke-width="0.8"/>
<line x1="160.6" y1="877.3" x2="165.0" y2="877.3" stroke="#555" stroke-width="0.8"/>
<line x1="183.5" y1="867.2" x2="183.5" y2="871.6" stroke="#555" stroke-width="0.8"/>
<line x1="181.3" y1="867.2" x2="185.7" y2="867.2" stroke="#555" stroke-width="0.8"/>
<line x1="181.3" y1="871.6" x2="185.7" y2="871.6" stroke="#555" stroke-width="0.8"/>
<line x1="204.2" y1="865.8" x2="204.2" y2="869.0" stroke="#555" stroke-width="0.8"/>
<line x1="202.0" y1="865.8" x2="206.4" y2="865.8" stroke="#555" stroke-width="0.8"/>
<line x1="202.0" y1="869.0" x2="206.4" y2="869.0" stroke="#555" stroke-width="0.8"/>
<line x1="224.9" y1="880.4" x2="224.9" y2="887.6" stroke="#555" stroke-width="0.8"/>
<line x1="222.7" y1="880.4" x2="227.1" y2="880.4" stroke="#555" stroke-width="0.8"/>
<line x1="222.7" y1="887.6" x2="227.1" y2="887.6" stroke="#555" stroke-width="0.8"/>
<line x1="69.7" y1="987.6" x2="235.5" y2="987.6" stroke="#111" stroke-width="1"/>
<line x1="80.0" y1="987.6" x2="80.0" y2="990.2" stroke="#111" stroke-width="0.9"/>
<line x1="100.7" y1="987.6" x2="100.7" y2="990.2" stroke="#111" stroke-width="0.9"/>
<line x1="121.4" y1="987.6" x2="121.4" y2="990.2" stroke="#111" stroke-width="0.9"/>
<line x1="142.1" y1="987.6" x2="142.1" y2="990.2" stroke="#111" stroke-width="0.9"/>
<line x1="162.8" y1="987.6" x2="162.8" y2="990.2" stroke="#111" stroke-width="0.9"/>
<line x1="183.5" y1="987.6" x2="183.5" y2="990.2" stroke="#111" stroke-width="0.9"/>
<line x1="204.2" y1="987.6" x2="204.2" y2="990.2" stroke="#111" stroke-width="0.9"/>
<line x1="224.9" y1="987.6" x2="224.9" y2="990.2" stroke="#111" stroke-width="0.9"/>
<line x1="69.7" y1="850.4" x2="69.7" y2="987.6" stroke="#c0282d" stroke-width="1"/>
<line x1="69.7" y1="987.6" x2="69.7" y2="990.6" stroke="#222" stroke-width="1"/>
<line x1="66.7" y1="987.4" x2="69.7" y2="987.4" stroke="#c0282d" stroke-width="1"/>
<text x="65" y="992.8" font-size="15" fill="#c0282d" text-anchor="end">0</text>
<line x1="66.7" y1="957.1" x2="69.7" y2="957.1" stroke="#c0282d" stroke-width="1"/>
<text x="65" y="962.5" font-size="15" fill="#c0282d" text-anchor="end">0.5</text>
<line x1="66.7" y1="926.8" x2="69.7" y2="926.8" stroke="#c0282d" stroke-width="1"/>
<text x="65" y="932.2" font-size="15" fill="#c0282d" text-anchor="end">1</text>
<line x1="66.7" y1="896.5" x2="69.7" y2="896.5" stroke="#c0282d" stroke-width="1"/>
<text x="65" y="901.9" font-size="15" fill="#c0282d" text-anchor="end">1.5</text>
<line x1="66.7" y1="866.2" x2="69.7" y2="866.2" stroke="#c0282d" stroke-width="1"/>
<text x="65" y="871.6" font-size="15" fill="#c0282d" text-anchor="end">2</text>
<line x1="235.5" y1="849.8" x2="235.5" y2="988.1" stroke="#7078c0" stroke-width="1"/>
<line x1="235.5" y1="974.6" x2="238.5" y2="974.6" stroke="#7078c0" stroke-width="1"/>
<text x="240.4" y="980.0" font-size="15" fill="#2e3a94">0</text>
<line x1="235.5" y1="949.82" x2="238.5" y2="949.82" stroke="#7078c0" stroke-width="1"/>
<text x="240.4" y="955.22" font-size="15" fill="#2e3a94">0.2</text>
<line x1="235.5" y1="925.04" x2="238.5" y2="925.04" stroke="#7078c0" stroke-width="1"/>
<text x="240.4" y="930.44" font-size="15" fill="#2e3a94">0.4</text>
<line x1="235.5" y1="900.26" x2="238.5" y2="900.26" stroke="#7078c0" stroke-width="1"/>
<text x="240.4" y="905.66" font-size="15" fill="#2e3a94">0.6</text>
<line x1="235.5" y1="875.48" x2="238.5" y2="875.48" stroke="#7078c0" stroke-width="1"/>
<text x="240.4" y="880.88" font-size="15" fill="#2e3a94">0.8</text>
<line x1="235.5" y1="850.7" x2="238.5" y2="850.7" stroke="#7078c0" stroke-width="1"/>
<text x="240.4" y="856.1" font-size="15" fill="#2e3a94">1</text>
<polyline points="80.1,887.9 100.8,973.3 121.5,971.8 142.1,915.9 162.8,874.9 183.4,873.5 204.6,870.8 225.3,891.1" fill="none" stroke="#2b3a9a" stroke-width="0.9"/>
<line x1="142.1" y1="911.8" x2="142.1" y2="920.3" stroke="#2b3a9a" stroke-width="0.8"/>
<line x1="140.1" y1="911.8" x2="144.1" y2="911.8" stroke="#2b3a9a" stroke-width="0.8"/>
<line x1="140.1" y1="920.3" x2="144.1" y2="920.3" stroke="#2b3a9a" stroke-width="0.8"/>
<line x1="162.8" y1="872" x2="162.8" y2="878" stroke="#2b3a9a" stroke-width="0.8"/>
<line x1="160.8" y1="872" x2="164.8" y2="872" stroke="#2b3a9a" stroke-width="0.8"/>
<line x1="160.8" y1="878" x2="164.8" y2="878" stroke="#2b3a9a" stroke-width="0.8"/>
<line x1="183.4" y1="870" x2="183.4" y2="877" stroke="#2b3a9a" stroke-width="0.8"/>
<line x1="181.4" y1="870" x2="185.4" y2="870" stroke="#2b3a9a" stroke-width="0.8"/>
<line x1="181.4" y1="877" x2="185.4" y2="877" stroke="#2b3a9a" stroke-width="0.8"/>
<line x1="204.6" y1="867.5" x2="204.6" y2="874" stroke="#2b3a9a" stroke-width="0.8"/>
<line x1="202.6" y1="867.5" x2="206.6" y2="867.5" stroke="#2b3a9a" stroke-width="0.8"/>
<line x1="202.6" y1="874" x2="206.6" y2="874" stroke="#2b3a9a" stroke-width="0.8"/>
<line x1="225.3" y1="886.4" x2="225.3" y2="895.5" stroke="#2b3a9a" stroke-width="0.8"/>
<line x1="223.3" y1="886.4" x2="227.3" y2="886.4" stroke="#2b3a9a" stroke-width="0.8"/>
<line x1="223.3" y1="895.5" x2="227.3" y2="895.5" stroke="#2b3a9a" stroke-width="0.8"/>
<rect x="78.0" y="885.8" width="4.2" height="4.2" fill="#2b3a9a"/>
<rect x="98.7" y="971.2" width="4.2" height="4.2" fill="#2b3a9a"/>
<rect x="119.4" y="969.7" width="4.2" height="4.2" fill="#2b3a9a"/>
<rect x="140.0" y="913.8" width="4.2" height="4.2" fill="#2b3a9a"/>
<rect x="160.7" y="872.8" width="4.2" height="4.2" fill="#2b3a9a"/>
<rect x="181.3" y="871.4" width="4.2" height="4.2" fill="#2b3a9a"/>
<rect x="202.5" y="868.7" width="4.2" height="4.2" fill="#2b3a9a"/>
<rect x="223.2" y="889.0" width="4.2" height="4.2" fill="#2b3a9a"/>
<rect x="154.5" y="834.1" width="26.19999999999999" height="13.0" fill="#b21d20" stroke="#6e6e6e" stroke-width="0.8"/>
<text x="184.5" y="845.6" font-size="12.6" fill="#c0282d" textLength="42.2" lengthAdjust="spacingAndGlyphs">Proteins</text>
<line x1="154.5" y1="855.3" x2="180.7" y2="855.3" stroke="#2b3a9a" stroke-width="0.9"/>
<rect x="165.5" y="853.2" width="4.2" height="4.2" fill="#2b3a9a"/>
<text x="184.5" y="859.8" font-size="12.6" fill="#2e3a94" textLength="44.9" lengthAdjust="spacingAndGlyphs">Peptides</text>
<text transform="translate(37.8,919.5) rotate(-90)" font-size="13.2" fill="#c0282d" text-anchor="middle" textLength="88.5" lengthAdjust="spacingAndGlyphs">Proteins(x10<tspan font-size="8.2" dy="-5.0">3</tspan><tspan dy="5.0">)</tspan></text>
<text transform="translate(274.5,919.2) rotate(-90)" font-size="13.2" fill="#2e3a94" text-anchor="middle" textLength="90.4" lengthAdjust="spacingAndGlyphs">Peptides(x10<tspan font-size="8.2" dy="-5.0">4</tspan><tspan dy="5.0">)</tspan></text>
<text transform="translate(85.70,997.40) rotate(-45)" font-size="11.5" fill="#111" stroke="#111" stroke-width="0.2" text-anchor="end" textLength="35.8" lengthAdjust="spacingAndGlyphs">1%SDC</text>
<text transform="translate(105.20,999.70) rotate(-45)" font-size="11.5" fill="#111" stroke="#111" stroke-width="0.2" text-anchor="end" textLength="6.4" lengthAdjust="spacingAndGlyphs">0</text>
<text transform="translate(127.70,997.90) rotate(-45)" font-size="11.5" fill="#111" stroke="#111" stroke-width="0.2" text-anchor="end" textLength="22.4" lengthAdjust="spacingAndGlyphs">0.36</text>
<text transform="translate(148.40,997.90) rotate(-45)" font-size="11.5" fill="#111" stroke="#111" stroke-width="0.2" text-anchor="end" textLength="22.4" lengthAdjust="spacingAndGlyphs">0.72</text>
<text transform="translate(169.10,997.90) rotate(-45)" font-size="11.5" fill="#111" stroke="#111" stroke-width="0.2" text-anchor="end" textLength="22.4" lengthAdjust="spacingAndGlyphs">1.44</text>
<text transform="translate(189.80,997.90) rotate(-45)" font-size="11.5" fill="#111" stroke="#111" stroke-width="0.2" text-anchor="end" textLength="22.4" lengthAdjust="spacingAndGlyphs">2.88</text>
<text transform="translate(210.50,997.90) rotate(-45)" font-size="11.5" fill="#111" stroke="#111" stroke-width="0.2" text-anchor="end" textLength="16.0" lengthAdjust="spacingAndGlyphs">3.6</text>
<text transform="translate(231.20,997.90) rotate(-45)" font-size="11.5" fill="#111" stroke="#111" stroke-width="0.2" text-anchor="end" textLength="22.4" lengthAdjust="spacingAndGlyphs">5.76</text>
<line x1="94.2" y1="1021.1" x2="228.7" y2="1021.1" stroke="#151515" stroke-width="1.4"/>
<line x1="91.7" y1="1037.8" x2="229.3" y2="1037.8" stroke="#151515" stroke-width="1.4"/>
<text x="117.6" y="1032.3" font-size="10.5" fill="#111" textLength="92.2" lengthAdjust="spacingAndGlyphs" stroke="#111" stroke-width="0.22">γ-cyclodextrin:SDS</text>
<text x="139.8" y="1050" font-size="10.5" fill="#111" textLength="32.6" lengthAdjust="spacingAndGlyphs" stroke="#111" stroke-width="0.22">1%SDS</text>
</svg></body></html>
